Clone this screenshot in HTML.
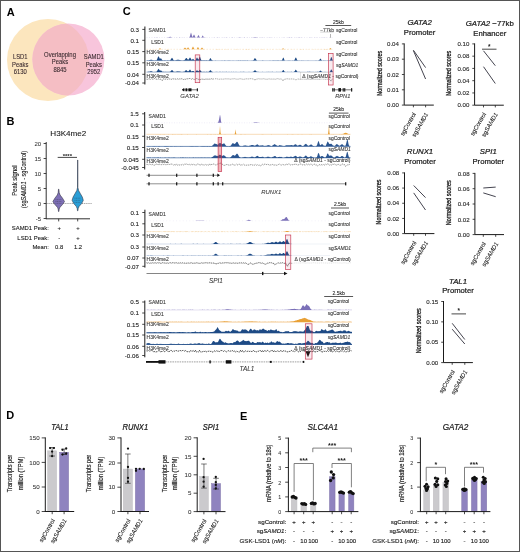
<!DOCTYPE html>
<html><head><meta charset="utf-8"><style>
html,body{margin:0;padding:0;background:#fff;}
svg{display:block;font-family:"Liberation Sans", sans-serif;will-change:transform;}
</style></head><body>
<svg width="520" height="552" viewBox="0 0 520 552">
<rect x="0.5" y="0.5" width="519" height="551" fill="#fff" stroke="#555" stroke-width="1" />
<text x="6.8" y="15.86" font-size="11" text-anchor="start" fill="#000" font-weight="bold">A</text>
<text x="6.6" y="125.26" font-size="11" text-anchor="start" fill="#000" font-weight="bold">B</text>
<text x="122.8" y="15.46" font-size="11" text-anchor="start" fill="#000" font-weight="bold">C</text>
<text x="6.2" y="419.36" font-size="11" text-anchor="start" fill="#000" font-weight="bold">D</text>
<text x="240" y="419.76" font-size="11" text-anchor="start" fill="#000" font-weight="bold">E</text>
<defs><clipPath id="cy"><circle cx="48" cy="60" r="41"/></clipPath></defs>
<circle cx="48" cy="60" r="41" fill="#FCE6BE" />
<circle cx="68.4" cy="59.5" r="36" fill="#F8C5DC" />
<circle cx="68.4" cy="59.5" r="36" fill="#F5BEC4" clip-path="url(#cy)"/>
<text transform="translate(20.2,56.9) scale(0.9,1)" x="0" y="2.34" font-size="6.5" text-anchor="middle" fill="#3b2b30" stroke="#3b2b30" stroke-width="0.1">LSD1</text>
<text transform="translate(20.2,64.4) scale(0.9,1)" x="0" y="2.34" font-size="6.5" text-anchor="middle" fill="#3b2b30" stroke="#3b2b30" stroke-width="0.1">Peaks</text>
<text transform="translate(20.2,71.9) scale(0.9,1)" x="0" y="2.34" font-size="6.5" text-anchor="middle" fill="#3b2b30" stroke="#3b2b30" stroke-width="0.1">6130</text>
<text transform="translate(60,54.5) scale(0.91,1)" x="0" y="2.34" font-size="6.5" text-anchor="middle" fill="#3b2b30" stroke="#3b2b30" stroke-width="0.1">Overlapping</text>
<text transform="translate(60,61.9) scale(0.91,1)" x="0" y="2.34" font-size="6.5" text-anchor="middle" fill="#3b2b30" stroke="#3b2b30" stroke-width="0.1">Peaks</text>
<text transform="translate(60,69.3) scale(0.91,1)" x="0" y="2.34" font-size="6.5" text-anchor="middle" fill="#3b2b30" stroke="#3b2b30" stroke-width="0.1">8845</text>
<text transform="translate(93.8,56.9) scale(0.9,1)" x="0" y="2.34" font-size="6.5" text-anchor="middle" fill="#3b2b30" stroke="#3b2b30" stroke-width="0.1">SAMD1</text>
<text transform="translate(93.8,64.4) scale(0.9,1)" x="0" y="2.34" font-size="6.5" text-anchor="middle" fill="#3b2b30" stroke="#3b2b30" stroke-width="0.1">Peaks</text>
<text transform="translate(93.8,71.9) scale(0.9,1)" x="0" y="2.34" font-size="6.5" text-anchor="middle" fill="#3b2b30" stroke="#3b2b30" stroke-width="0.1">2952</text>
<text x="68.3" y="135.62" font-size="8.1" text-anchor="middle" fill="#1a1a1a" stroke="#1a1a1a" stroke-width="0.1">H3K4me2</text>
<line x1="46.2" y1="142" x2="46.2" y2="219.2" stroke="#1a1a1a" stroke-width="0.9" />
<line x1="43.6" y1="143.5" x2="46.2" y2="143.5" stroke="#1a1a1a" stroke-width="0.8" />
<text x="41.2" y="145.66" font-size="6" text-anchor="end" fill="#333" stroke="#333" stroke-width="0.05">20</text>
<line x1="43.6" y1="158.5" x2="46.2" y2="158.5" stroke="#1a1a1a" stroke-width="0.8" />
<text x="41.2" y="160.66" font-size="6" text-anchor="end" fill="#333" stroke="#333" stroke-width="0.05">15</text>
<line x1="43.6" y1="173.5" x2="46.2" y2="173.5" stroke="#1a1a1a" stroke-width="0.8" />
<text x="41.2" y="175.66" font-size="6" text-anchor="end" fill="#333" stroke="#333" stroke-width="0.05">10</text>
<line x1="43.6" y1="188.5" x2="46.2" y2="188.5" stroke="#1a1a1a" stroke-width="0.8" />
<text x="41.2" y="190.66" font-size="6" text-anchor="end" fill="#333" stroke="#333" stroke-width="0.05">5</text>
<line x1="43.6" y1="203.5" x2="46.2" y2="203.5" stroke="#1a1a1a" stroke-width="0.8" />
<text x="41.2" y="205.66" font-size="6" text-anchor="end" fill="#333" stroke="#333" stroke-width="0.05">0</text>
<line x1="43.6" y1="218.5" x2="46.2" y2="218.5" stroke="#1a1a1a" stroke-width="0.8" />
<text x="41.2" y="220.66" font-size="6" text-anchor="end" fill="#333" stroke="#333" stroke-width="0.05">-5</text>
<line x1="46.2" y1="218.8" x2="90" y2="218.8" stroke="#1a1a1a" stroke-width="0.9" />
<line x1="58.7" y1="218.8" x2="58.7" y2="221.4" stroke="#1a1a1a" stroke-width="0.8" />
<line x1="77.7" y1="218.8" x2="77.7" y2="221.4" stroke="#1a1a1a" stroke-width="0.8" />
<line x1="46.5" y1="203.5" x2="91.5" y2="203.5" stroke="#555" stroke-width="0.7" stroke-dasharray="1,1.1"/>
<path d="M58.9 189.2 L59.2 192.5 L60.1 195 L62.4 198 L64.5 201.5 L62.5 204.5 L60 207.3 L59.2 209 L58.9 211.5 L58.5 211.5 L58.2 209 L57.4 207.3 L54.9 204.5 L52.9 201.5 L55 198 L57.3 195 L58.2 192.5 L58.5 189.2 Z" fill="#7E70B6" stroke="#2a2a3a" stroke-width="0.55" stroke-linejoin="round"/>
<path d="M77.8 160 L77.9 187.5 L78.6 190.5 L80.3 193.5 L82.3 197 L83.3 200.3 L81.7 203.5 L79.2 206.3 L78.2 208.5 L77.9 210.8 L77.5 210.8 L77.2 208.5 L76.2 206.3 L73.7 203.5 L72.1 200.3 L73.1 197 L75.1 193.5 L76.8 190.5 L77.5 187.5 L77.6 160 Z" fill="#2A9ED6" stroke="#2a2a3a" stroke-width="0.55" stroke-linejoin="round"/>
<line x1="55.5" y1="199.6" x2="61.9" y2="199.6" stroke="#2a2a3a" stroke-width="0.35" stroke-dasharray="1,0.6"/>
<line x1="55.5" y1="201.5" x2="61.9" y2="201.5" stroke="#2a2a3a" stroke-width="0.35" stroke-dasharray="1,0.6"/>
<line x1="55.5" y1="203.4" x2="61.9" y2="203.4" stroke="#2a2a3a" stroke-width="0.35" stroke-dasharray="1,0.6"/>
<line x1="74.5" y1="198.2" x2="80.9" y2="198.2" stroke="#2a2a3a" stroke-width="0.35" stroke-dasharray="1,0.6"/>
<line x1="74.5" y1="200.3" x2="80.9" y2="200.3" stroke="#2a2a3a" stroke-width="0.35" stroke-dasharray="1,0.6"/>
<line x1="74.5" y1="202.4" x2="80.9" y2="202.4" stroke="#2a2a3a" stroke-width="0.35" stroke-dasharray="1,0.6"/>
<line x1="57.7" y1="157.4" x2="77" y2="157.4" stroke="#1a1a1a" stroke-width="0.8" />
<text x="67.3" y="157.76" font-size="6" text-anchor="middle" fill="#1a1a1a" font-weight="bold">****</text>
<text transform="translate(14.8,180.6) rotate(-90)" x="0" y="2.38" font-size="6.6" text-anchor="middle" fill="#1a1a1a" textLength="30.4" lengthAdjust="spacingAndGlyphs" stroke="#1a1a1a" stroke-width="0.1">Peak signal</text>
<text transform="translate(23.6,179.5) rotate(-90)" x="0" y="2.38" font-size="6.6" text-anchor="middle" fill="#1a1a1a" textLength="57.2" lengthAdjust="spacingAndGlyphs" stroke="#1a1a1a" stroke-width="0.1">(sg<tspan font-style="italic">SAMD1</tspan> - sgControl)</text>
<text x="48.8" y="230.12" font-size="5.9" text-anchor="end" fill="#1a1a1a" stroke="#1a1a1a" stroke-width="0.1">SAMD1 Peak:</text>
<text x="59.2" y="230.12" font-size="5.9" text-anchor="middle" fill="#1a1a1a" stroke="#1a1a1a" stroke-width="0.1">+</text>
<text x="78" y="230.12" font-size="5.9" text-anchor="middle" fill="#1a1a1a" stroke="#1a1a1a" stroke-width="0.1">+</text>
<text x="48.8" y="239.72" font-size="5.9" text-anchor="end" fill="#1a1a1a" stroke="#1a1a1a" stroke-width="0.1">LSD1 Peak:</text>
<text x="59.2" y="239.72" font-size="5.9" text-anchor="middle" fill="#1a1a1a" stroke="#1a1a1a" stroke-width="0.1">-</text>
<text x="78" y="239.72" font-size="5.9" text-anchor="middle" fill="#1a1a1a" stroke="#1a1a1a" stroke-width="0.1">+</text>
<text x="48.8" y="249.12" font-size="5.9" text-anchor="end" fill="#1a1a1a" stroke="#1a1a1a" stroke-width="0.1">Mean:</text>
<text x="59.2" y="249.12" font-size="5.9" text-anchor="middle" fill="#1a1a1a" stroke="#1a1a1a" stroke-width="0.1">0.8</text>
<text x="78" y="249.12" font-size="5.9" text-anchor="middle" fill="#1a1a1a" stroke="#1a1a1a" stroke-width="0.1">1.2</text>
<line x1="146.5" y1="37.5" x2="333" y2="37.5" stroke="#d8d4ea" stroke-width="0.5" stroke-dasharray="1,1.5"/>
<path d="M146.5 37.5 L146.5 37.45 L147 37.48 L147.5 37.4 L148 37.49 L148.5 37.42 L149 37.45 L149.5 37.49 L150 37.42 L150.5 37.49 L151 37.43 L151.5 37.49 L152 37.49 L152.5 37.44 L153 37.38 L153.5 37.48 L154 37.47 L154.5 37.41 L155 37.36 L155.5 37.41 L156 37.44 L156.5 37.35 L157 37.49 L157.5 37.37 L158 37.46 L158.5 37.48 L159 37.48 L159.5 37.45 L160 37.38 L160.5 37.47 L161 37.41 L161.5 37.4 L162 37.44 L162.5 37.42 L163 37.49 L163.5 37.49 L164 37.47 L164.5 37.4 L165 37.44 L165.5 37.45 L166 37.41 L166.5 37.43 L167 37.45 L167.5 37.35 L168 37.31 L168.5 37.27 L169 37.05 L169.5 36.89 L170 36.77 L170.5 36.86 L171 37.09 L171.5 37.16 L172 37.4 L172.5 37.41 L173 37.38 L173.5 37.48 L174 37.43 L174.5 37.49 L175 37.4 L175.5 37.39 L176 37.41 L176.5 37.37 L177 37.45 L177.5 37.4 L178 37.41 L178.5 37.41 L179 37.43 L179.5 37.37 L180 37.36 L180.5 37.43 L181 37.4 L181.5 37.49 L182 37.39 L182.5 37.4 L183 37.35 L183.5 37.38 L184 37.46 L184.5 37.44 L185 37.4 L185.5 37.5 L186 37.43 L186.5 37.47 L187 37.48 L187.5 37.49 L188 37.38 L188.5 37.48 L189 37.44 L189.5 37.22 L190 36.12 L190.5 33.95 L191 32.43 L191.5 33.88 L192 36.11 L192.5 37.03 L193 36.6 L193.5 35.34 L194 34.44 L194.5 35.33 L195 36.62 L195.5 37.22 L196 37.47 L196.5 37.46 L197 37.36 L197.5 36.84 L198 35.66 L198.5 34.91 L199 35.69 L199.5 36.88 L200 37.33 L200.5 37.43 L201 37.41 L201.5 37.24 L202 36.65 L202.5 35.58 L203 35.74 L203.5 36.84 L204 37.42 L204.5 37.36 L205 37.38 L205.5 37.37 L206 37.38 L206.5 37.44 L207 37.44 L207.5 37.48 L208 37.4 L208.5 37.49 L209 37.49 L209.5 37.47 L210 37.48 L210.5 37.45 L211 37.49 L211.5 37.5 L212 37.48 L212.5 37.48 L213 37.45 L213.5 37.5 L214 37.37 L214.5 37.41 L215 37.48 L215.5 37.46 L216 37.45 L216.5 37.45 L217 37.48 L217.5 37.37 L218 37.35 L218.5 37.43 L219 37.43 L219.5 37.49 L220 37.48 L220.5 37.45 L221 37.46 L221.5 37.38 L222 37.48 L222.5 37.5 L223 37.36 L223.5 37.42 L224 37.48 L224.5 37.42 L225 37.5 L225.5 37.42 L226 37.35 L226.5 37.37 L227 37.4 L227.5 37.46 L228 37.44 L228.5 37.47 L229 37.38 L229.5 37.42 L230 37.38 L230.5 37.45 L231 37.47 L231.5 37.38 L232 37.35 L232.5 37.37 L233 37.38 L233.5 37.38 L234 37.39 L234.5 37.47 L235 37.42 L235.5 37.45 L236 37.5 L236.5 37.5 L237 37.46 L237.5 37.46 L238 37.4 L238.5 37.36 L239 37.43 L239.5 37.36 L240 37.35 L240.5 37.36 L241 37.45 L241.5 37.47 L242 37.47 L242.5 37.47 L243 37.47 L243.5 37.41 L244 37.36 L244.5 37.37 L245 37.43 L245.5 37.4 L246 37.38 L246.5 37.49 L247 37.4 L247.5 37.36 L248 37.38 L248.5 37.39 L249 37.43 L249.5 37.47 L250 37.38 L250.5 37.45 L251 37.38 L251.5 37.35 L252 37.44 L252.5 37.42 L253 37.3 L253.5 37.26 L254 37.23 L254.5 37.13 L255 37.08 L255.5 37.01 L256 37.14 L256.5 37.35 L257 37.32 L257.5 37.34 L258 37.4 L258.5 37.45 L259 37.42 L259.5 37.48 L260 37.5 L260.5 37.35 L261 37.4 L261.5 37.42 L262 37.36 L262.5 37.43 L263 37.37 L263.5 37.38 L264 37.47 L264.5 37.46 L265 37.46 L265.5 37.46 L266 37.41 L266.5 37.46 L267 37.44 L267.5 37.48 L268 37.36 L268.5 37.45 L269 37.43 L269.5 37.41 L270 37.36 L270.5 37.44 L271 37.36 L271.5 37.42 L272 37.42 L272.5 37.42 L273 37.5 L273.5 37.43 L274 37.47 L274.5 37.5 L275 37.38 L275.5 37.47 L276 37.43 L276.5 37.39 L277 37.42 L277.5 37.45 L278 37.42 L278.5 37.42 L279 37.38 L279.5 37.48 L280 37.42 L280.5 37.46 L281 37.46 L281.5 37.38 L282 37.42 L282.5 37.42 L283 37.39 L283.5 37.36 L284 37.43 L284.5 37.41 L285 37.42 L285.5 37.42 L286 37.4 L286.5 37.43 L287 37.42 L287.5 37.43 L288 37.36 L288.5 37.4 L289 37.37 L289.5 37.36 L290 37.46 L290.5 37.42 L291 37.36 L291.5 37.37 L292 37.48 L292.5 37.48 L293 37.43 L293.5 37.49 L294 37.46 L294.5 37.49 L295 37.4 L295.5 37.38 L296 37.37 L296.5 37.48 L297 37.39 L297.5 37.4 L298 37.48 L298.5 37.37 L299 37.35 L299.5 37.47 L300 37.36 L300.5 37.44 L301 37.43 L301.5 37.35 L302 37.38 L302.5 37.48 L303 37.44 L303.5 37.42 L304 37.45 L304.5 37.47 L305 37.45 L305.5 37.39 L306 37.5 L306.5 37.42 L307 37.43 L307.5 37.5 L308 37.45 L308.5 37.41 L309 37.42 L309.5 37.49 L310 37.35 L310.5 37.38 L311 37.35 L311.5 37.48 L312 37.46 L312.5 37.49 L313 37.38 L313.5 37.46 L314 37.48 L314.5 37.44 L315 37.36 L315.5 37.38 L316 37.46 L316.5 37.48 L317 37.36 L317.5 37.41 L318 37.39 L318.5 37.49 L319 37.49 L319.5 37.4 L320 37.44 L320.5 37.49 L321 37.36 L321.5 37.4 L322 37.38 L322.5 37.49 L323 37.37 L323.5 37.49 L324 37.37 L324.5 37.43 L325 37.45 L325.5 37.42 L326 37.36 L326.5 37.46 L327 37.48 L327.5 37.42 L328 37.46 L328.5 37.48 L329 37.48 L329.5 37.49 L330 37.47 L330.5 37.45 L331 37.45 L331.5 37.39 L332 37.46 L332.5 37.42 L333 37.47 L333 37.5 Z" fill="#7B70B8" stroke="none" stroke-width="0.8" />
<line x1="146.5" y1="49.3" x2="333" y2="49.3" stroke="#f4d8b0" stroke-width="0.5" stroke-dasharray="1.5,1.5"/>
<path d="M146.5 49.3 L146.5 49.23 L147 49.3 L147.5 49.25 L148 49.3 L148.5 49.15 L149 49.19 L149.5 49.26 L150 49.21 L150.5 49.11 L151 49.28 L151.5 49.14 L152 49.21 L152.5 49.2 L153 49.13 L153.5 49.22 L154 49.2 L154.5 49.16 L155 49.1 L155.5 49.23 L156 49.13 L156.5 49.16 L157 49.17 L157.5 49.22 L158 49.23 L158.5 49.25 L159 49.02 L159.5 48.58 L160 48.15 L160.5 48.54 L161 49.02 L161.5 49.24 L162 49.13 L162.5 49.13 L163 49.17 L163.5 49.24 L164 49.25 L164.5 49.24 L165 49.21 L165.5 49.27 L166 49.21 L166.5 49.25 L167 49.11 L167.5 49.11 L168 49.19 L168.5 49.25 L169 49.11 L169.5 49.24 L170 49.23 L170.5 49.3 L171 49.22 L171.5 49.21 L172 49.2 L172.5 49.26 L173 49.2 L173.5 49.3 L174 49.25 L174.5 49.28 L175 49.22 L175.5 49.29 L176 49.3 L176.5 49.24 L177 49.25 L177.5 49.18 L178 49.19 L178.5 49.15 L179 49.17 L179.5 49.16 L180 49.12 L180.5 49.22 L181 49.23 L181.5 49.1 L182 49.27 L182.5 49.15 L183 49.14 L183.5 49.13 L184 48.56 L184.5 47.88 L185 47.57 L185.5 47.91 L186 48.55 L186.5 49.03 L187 48.72 L187.5 47.92 L188 47.33 L188.5 47.87 L189 48.69 L189.5 49.1 L190 49.11 L190.5 49.16 L191 49.15 L191.5 49.13 L192 48.6 L192.5 47.29 L193 46.43 L193.5 47.3 L194 48.43 L194.5 49.07 L195 49.16 L195.5 49.17 L196 49.16 L196.5 49.11 L197 48.75 L197.5 47.59 L198 46.95 L198.5 47.64 L199 48.64 L199.5 49.07 L200 49.27 L200.5 49.07 L201 48.8 L201.5 48.01 L202 47.45 L202.5 47.88 L203 48.81 L203.5 49.07 L204 49.1 L204.5 49.2 L205 49.22 L205.5 49.2 L206 49.16 L206.5 49.15 L207 49.18 L207.5 49.17 L208 49.28 L208.5 49.27 L209 49.25 L209.5 49.15 L210 49.24 L210.5 49.19 L211 49.3 L211.5 49.29 L212 49.25 L212.5 49.17 L213 49.16 L213.5 49.16 L214 49.24 L214.5 49.2 L215 49.21 L215.5 49.21 L216 49.28 L216.5 49.12 L217 49.26 L217.5 49.1 L218 49.11 L218.5 49.3 L219 49.21 L219.5 49.14 L220 49.11 L220.5 49.21 L221 49.25 L221.5 49.26 L222 49.11 L222.5 49.26 L223 49.18 L223.5 49.27 L224 49.2 L224.5 49.11 L225 49.27 L225.5 49.14 L226 49.2 L226.5 49.12 L227 49.16 L227.5 49.25 L228 49.12 L228.5 49.2 L229 49.3 L229.5 49.3 L230 49.2 L230.5 49.21 L231 49.24 L231.5 49.27 L232 49.23 L232.5 49.24 L233 49.13 L233.5 49.3 L234 49.15 L234.5 49.13 L235 49.28 L235.5 49.11 L236 49.16 L236.5 49.12 L237 49.24 L237.5 49.23 L238 49.22 L238.5 49.1 L239 49.18 L239.5 49.23 L240 49.21 L240.5 49.24 L241 49.29 L241.5 49.28 L242 49.13 L242.5 49.24 L243 49.11 L243.5 49.25 L244 49.25 L244.5 49.2 L245 49.26 L245.5 49.23 L246 49.11 L246.5 49.12 L247 49.14 L247.5 49.17 L248 49.12 L248.5 49.11 L249 49.19 L249.5 49.16 L250 49.29 L250.5 49.15 L251 49.21 L251.5 49.15 L252 49.17 L252.5 49.24 L253 49.29 L253.5 49.11 L254 49.27 L254.5 49.21 L255 49.23 L255.5 49.24 L256 49.15 L256.5 49.1 L257 49.25 L257.5 49.17 L258 49.24 L258.5 49.19 L259 49.22 L259.5 49.27 L260 49.27 L260.5 49.26 L261 49.12 L261.5 49.2 L262 49.26 L262.5 49.12 L263 49.1 L263.5 49.21 L264 49.27 L264.5 49.26 L265 49.28 L265.5 49.23 L266 49.28 L266.5 49.25 L267 49.25 L267.5 49.19 L268 49.12 L268.5 49.15 L269 49.22 L269.5 49.22 L270 49.2 L270.5 49.22 L271 49.23 L271.5 49.29 L272 49.24 L272.5 49.11 L273 49.27 L273.5 49.2 L274 49.17 L274.5 49.13 L275 49.26 L275.5 49.25 L276 49.25 L276.5 49.22 L277 49.21 L277.5 49.11 L278 49.13 L278.5 49.13 L279 49.3 L279.5 49.29 L280 49.16 L280.5 49.12 L281 49.2 L281.5 49.15 L282 49.1 L282.5 48.66 L283 48.31 L283.5 48.57 L284 48.93 L284.5 49.07 L285 49.25 L285.5 49.28 L286 49.27 L286.5 49.2 L287 49.16 L287.5 49.11 L288 49.16 L288.5 49.17 L289 49.15 L289.5 49.21 L290 49.19 L290.5 49.29 L291 49.14 L291.5 49.25 L292 49.12 L292.5 49.17 L293 49.24 L293.5 49.27 L294 49.25 L294.5 49.17 L295 49.16 L295.5 49.28 L296 49.29 L296.5 49.2 L297 49.18 L297.5 49.22 L298 49.26 L298.5 49.18 L299 49.3 L299.5 49.24 L300 49.21 L300.5 49.11 L301 49.17 L301.5 49.12 L302 49.2 L302.5 49.25 L303 49.25 L303.5 49.11 L304 49.16 L304.5 49.24 L305 49.3 L305.5 49.2 L306 49.17 L306.5 49.22 L307 49.25 L307.5 49.17 L308 49.11 L308.5 49.25 L309 49.29 L309.5 49.23 L310 49.22 L310.5 49.16 L311 49.26 L311.5 49.14 L312 49.15 L312.5 49.2 L313 49.26 L313.5 49.11 L314 49.24 L314.5 49.14 L315 49.25 L315.5 49.26 L316 49.15 L316.5 49.24 L317 49.11 L317.5 49.2 L318 49.26 L318.5 49.26 L319 49.22 L319.5 49.17 L320 49.11 L320.5 49.27 L321 49.22 L321.5 49.26 L322 49.11 L322.5 49.27 L323 49.29 L323.5 49.29 L324 49.22 L324.5 49.12 L325 49.12 L325.5 49.15 L326 49.1 L326.5 49.11 L327 49.23 L327.5 49.26 L328 49.11 L328.5 49.15 L329 49.24 L329.5 48.87 L330 48.38 L330.5 48.03 L331 48.39 L331.5 48.97 L332 49.25 L332.5 49.24 L333 49.23 L333 49.3 Z" fill="#E8A035" stroke="none" stroke-width="0.8" />
<line x1="213" y1="60.6" x2="333" y2="60.6" stroke="#8ea5c8" stroke-width="0.5" />
<line x1="213" y1="72.1" x2="333" y2="72.1" stroke="#8ea5c8" stroke-width="0.5" />
<line x1="146.5" y1="60.6" x2="213" y2="60.6" stroke="#5a78a8" stroke-width="0.6" />
<line x1="146.5" y1="72.1" x2="213" y2="72.1" stroke="#5a78a8" stroke-width="0.6" />
<path d="M146.5 60.6 L146.5 60.31 L147 60.56 L147.5 60.3 L148 60.5 L148.5 60.4 L149 60.15 L149.5 59.99 L150 59.9 L150.5 59.85 L151 59.66 L151.5 59.75 L152 59.76 L152.5 60.18 L153 60.29 L153.5 60.24 L154 60.56 L154.5 60.47 L155 60.35 L155.5 60.35 L156 60.5 L156.5 60.25 L157 59.58 L157.5 58.17 L158 57.09 L158.5 56.37 L159 56.87 L159.5 58.14 L160 58.8 L160.5 58.42 L161 58.33 L161.5 58.96 L162 59.66 L162.5 60.3 L163 60.48 L163.5 60.6 L164 60.37 L164.5 60.33 L165 60.41 L165.5 60.32 L166 60.59 L166.5 60.53 L167 60.46 L167.5 60.31 L168 60.31 L168.5 60.48 L169 60.52 L169.5 60.45 L170 60.34 L170.5 59.87 L171 59.35 L171.5 58.22 L172 57.78 L172.5 58.21 L173 59.17 L173.5 59.96 L174 60.36 L174.5 60.43 L175 60.38 L175.5 60.17 L176 60.25 L176.5 60.06 L177 59.73 L177.5 59.77 L178 59.78 L178.5 59.83 L179 59.79 L179.5 60.02 L180 59.98 L180.5 60.14 L181 60.2 L181.5 60.47 L182 60.55 L182.5 60.56 L183 60.44 L183.5 60.34 L184 60.3 L184.5 60.05 L185 59.44 L185.5 58.67 L186 58.1 L186.5 58.02 L187 58.46 L187.5 59.21 L188 59.87 L188.5 59.62 L189 59.08 L189.5 57.95 L190 57.48 L190.5 57.9 L191 59.1 L191.5 59.75 L192 59.71 L192.5 59.3 L193 58.83 L193.5 59.19 L194 59.82 L194.5 60.22 L195 60.19 L195.5 60.13 L196 59.45 L196.5 58.03 L197 57.4 L197.5 57.96 L198 59.34 L198.5 59.44 L199 58.22 L199.5 56.69 L200 56.49 L200.5 58.16 L201 59.59 L201.5 60.35 L202 60.51 L202.5 60.31 L203 60.42 L203.5 60.32 L204 60.49 L204.5 60.34 L205 60.47 L205.5 60.52 L206 60.37 L206.5 60.32 L207 60.57 L207.5 60.42 L208 60.41 L208.5 60.47 L209 60.15 L209.5 59.46 L210 58.42 L210.5 58.05 L211 58.69 L211.5 59.68 L212 60.36 L212.5 60.57 L213 60.5 L213.5 60.4 L214 60.54 L214.5 60.51 L215 60.54 L215.5 60.36 L216 60.44 L216.5 60.58 L217 60.57 L217.5 60.48 L218 60.43 L218.5 60.41 L219 60.57 L219.5 60.55 L220 60.39 L220.5 60.48 L221 60.52 L221.5 60.51 L222 60.31 L222.5 60.51 L223 60.43 L223.5 60.49 L224 60.48 L224.5 60.34 L225 60.3 L225.5 60.49 L226 60.54 L226.5 60.38 L227 60.54 L227.5 60.6 L228 60.33 L228.5 60.47 L229 60.35 L229.5 60.48 L230 60.34 L230.5 60.46 L231 60.55 L231.5 60.6 L232 60.43 L232.5 60.41 L233 60.33 L233.5 60.57 L234 60.41 L234.5 60.49 L235 60.45 L235.5 60.56 L236 60.52 L236.5 60.44 L237 60.32 L237.5 60.57 L238 60.45 L238.5 60.36 L239 60.31 L239.5 60.54 L240 60.56 L240.5 60.32 L241 60.31 L241.5 60.46 L242 60.58 L242.5 60.32 L243 60.48 L243.5 60.33 L244 60.41 L244.5 60.35 L245 60.55 L245.5 60.36 L246 60.53 L246.5 60.48 L247 60.35 L247.5 60.35 L248 60.55 L248.5 60.53 L249 60.48 L249.5 60.44 L250 60.48 L250.5 60.56 L251 60.53 L251.5 60.38 L252 60.33 L252.5 60.57 L253 60.33 L253.5 59.96 L254 59.49 L254.5 58.37 L255 58.16 L255.5 58.45 L256 59.34 L256.5 60 L257 60.4 L257.5 60.46 L258 60.42 L258.5 60.47 L259 60.4 L259.5 60.47 L260 60.47 L260.5 60.59 L261 60.41 L261.5 60.45 L262 60.53 L262.5 60.37 L263 60.37 L263.5 60.46 L264 60.55 L264.5 60.46 L265 60.57 L265.5 60.56 L266 60.47 L266.5 60.57 L267 60.47 L267.5 60.45 L268 60.59 L268.5 60.41 L269 60.58 L269.5 60.38 L270 60.37 L270.5 60.45 L271 60.58 L271.5 60.45 L272 60.49 L272.5 60.31 L273 60.56 L273.5 60.34 L274 60.3 L274.5 60.38 L275 60.36 L275.5 60.54 L276 60.31 L276.5 60.45 L277 60.31 L277.5 60.33 L278 60.55 L278.5 60.36 L279 60.32 L279.5 60.58 L280 60.49 L280.5 60.37 L281 60.55 L281.5 60.3 L282 60.23 L282.5 59.12 L283 57.91 L283.5 57.61 L284 58.81 L284.5 60.13 L285 60.47 L285.5 60.44 L286 60.5 L286.5 60.59 L287 60.55 L287.5 60.55 L288 60.32 L288.5 60.4 L289 60.33 L289.5 60.55 L290 60.36 L290.5 60.57 L291 60.44 L291.5 60.41 L292 60.49 L292.5 60.34 L293 60.43 L293.5 60.41 L294 60.23 L294.5 60.03 L295 58.74 L295.5 57.67 L296 57.6 L296.5 58.54 L297 59.83 L297.5 60.15 L298 60.41 L298.5 60.49 L299 60.37 L299.5 60.47 L300 60.55 L300.5 60.38 L301 60.59 L301.5 60.35 L302 60.52 L302.5 60.41 L303 60.3 L303.5 60.42 L304 60.4 L304.5 60.51 L305 60.6 L305.5 60.59 L306 60.56 L306.5 60.42 L307 60.47 L307.5 60.45 L308 60.33 L308.5 60.56 L309 60.53 L309.5 60.4 L310 60.59 L310.5 60.6 L311 60.49 L311.5 60.57 L312 60.49 L312.5 60.53 L313 60.42 L313.5 60.42 L314 60.54 L314.5 60.41 L315 60.46 L315.5 60.56 L316 60.32 L316.5 60.53 L317 60.56 L317.5 60.57 L318 60.41 L318.5 60.33 L319 60.23 L319.5 59.83 L320 58.92 L320.5 58.62 L321 59.19 L321.5 60.06 L322 60.44 L322.5 60.4 L323 60.47 L323.5 60.32 L324 60.38 L324.5 60.53 L325 60.33 L325.5 60.59 L326 60.44 L326.5 60.48 L327 60.53 L327.5 60.58 L328 60.37 L328.5 60.6 L329 60.43 L329.5 60.28 L330 60.21 L330.5 59.06 L331 57.24 L331.5 57.04 L332 58.58 L332.5 59.87 L333 60.48 L333 60.6 Z" fill="#1D4A85" stroke="none" stroke-width="0.8" />
<path d="M146.5 72.1 L146.5 72.01 L147 72.01 L147.5 72.08 L148 71.81 L148.5 71.8 L149 71.74 L149.5 71.82 L150 71.42 L150.5 71.33 L151 71.36 L151.5 71.33 L152 71.54 L152.5 71.76 L153 71.92 L153.5 71.96 L154 72.06 L154.5 71.99 L155 71.87 L155.5 71.88 L156 71.78 L156.5 71.63 L157 71.27 L157.5 70.32 L158 69.4 L158.5 68.86 L159 69.35 L159.5 70.25 L160 70.62 L160.5 70.39 L161 70.47 L161.5 70.66 L162 71.55 L162.5 71.87 L163 72 L163.5 71.87 L164 71.82 L164.5 71.88 L165 72 L165.5 71.84 L166 72 L166.5 72.03 L167 71.83 L167.5 71.91 L168 71.89 L168.5 71.9 L169 71.8 L169.5 71.94 L170 71.76 L170.5 71.55 L171 70.95 L171.5 70.36 L172 69.93 L172.5 70.32 L173 71.11 L173.5 71.69 L174 71.81 L174.5 72.02 L175 71.74 L175.5 71.91 L176 71.85 L176.5 71.7 L177 71.34 L177.5 71.43 L178 71.46 L178.5 71.52 L179 71.61 L179.5 71.53 L180 71.66 L180.5 71.74 L181 71.8 L181.5 72.04 L182 71.91 L182.5 71.98 L183 71.84 L183.5 71.82 L184 71.7 L184.5 71.72 L185 71.07 L185.5 70.52 L186 70.1 L186.5 70.3 L187 70.63 L187.5 71.17 L188 71.57 L188.5 71.3 L189 70.78 L189.5 70.05 L190 69.6 L190.5 70.05 L191 70.93 L191.5 71.49 L192 71.46 L192.5 70.93 L193 70.91 L193.5 71.08 L194 71.46 L194.5 71.9 L195 71.94 L195.5 71.83 L196 71.24 L196.5 70.59 L197 70.2 L197.5 70.41 L198 71.21 L198.5 71.24 L199 70.64 L199.5 69.9 L200 69.67 L200.5 70.51 L201 71.32 L201.5 71.87 L202 71.87 L202.5 71.94 L203 72.03 L203.5 71.84 L204 72.07 L204.5 71.85 L205 72.05 L205.5 72.1 L206 72.04 L206.5 71.87 L207 71.81 L207.5 72.1 L208 71.95 L208.5 71.91 L209 71.61 L209.5 71.22 L210 70.36 L210.5 70.14 L211 70.55 L211.5 71.48 L212 71.68 L212.5 71.99 L213 72.03 L213.5 71.89 L214 71.95 L214.5 72.07 L215 71.91 L215.5 72.08 L216 71.86 L216.5 71.89 L217 71.86 L217.5 71.91 L218 71.99 L218.5 71.98 L219 71.98 L219.5 71.83 L220 72.07 L220.5 71.83 L221 72.09 L221.5 72.04 L222 72.02 L222.5 71.83 L223 71.95 L223.5 71.99 L224 71.83 L224.5 72.03 L225 71.96 L225.5 71.94 L226 71.87 L226.5 71.87 L227 71.91 L227.5 72 L228 72 L228.5 72.05 L229 71.85 L229.5 71.9 L230 71.88 L230.5 72.05 L231 71.97 L231.5 71.87 L232 71.93 L232.5 72.06 L233 71.96 L233.5 71.83 L234 72.03 L234.5 72.04 L235 72.01 L235.5 71.89 L236 71.85 L236.5 72.05 L237 72.05 L237.5 72.03 L238 72 L238.5 71.94 L239 72.05 L239.5 72 L240 72.04 L240.5 71.81 L241 71.88 L241.5 72.07 L242 71.81 L242.5 72.07 L243 71.98 L243.5 71.8 L244 71.86 L244.5 71.88 L245 71.97 L245.5 72.04 L246 71.91 L246.5 72.07 L247 72.04 L247.5 71.98 L248 72.09 L248.5 71.98 L249 71.86 L249.5 71.89 L250 71.95 L250.5 71.91 L251 71.96 L251.5 72.06 L252 71.92 L252.5 71.96 L253 71.8 L253.5 71.52 L254 71.15 L254.5 70.45 L255 70.08 L255.5 70.49 L256 71.21 L256.5 71.57 L257 71.76 L257.5 71.85 L258 71.89 L258.5 71.84 L259 71.9 L259.5 71.91 L260 71.96 L260.5 72.01 L261 71.91 L261.5 72.07 L262 71.97 L262.5 71.87 L263 71.89 L263.5 71.91 L264 72.02 L264.5 71.97 L265 71.96 L265.5 71.91 L266 71.98 L266.5 71.9 L267 71.82 L267.5 72.05 L268 71.9 L268.5 71.87 L269 71.98 L269.5 71.95 L270 71.81 L270.5 72.09 L271 71.94 L271.5 72.05 L272 71.87 L272.5 71.82 L273 71.94 L273.5 72.07 L274 71.93 L274.5 71.94 L275 71.88 L275.5 71.95 L276 71.91 L276.5 71.85 L277 71.94 L277.5 71.98 L278 71.82 L278.5 72.04 L279 71.89 L279.5 71.98 L280 71.87 L280.5 72.06 L281 71.8 L281.5 71.97 L282 71.87 L282.5 71.09 L283 69.99 L283.5 69.97 L284 70.84 L284.5 71.67 L285 71.85 L285.5 71.99 L286 72.02 L286.5 72.03 L287 71.88 L287.5 71.82 L288 71.94 L288.5 72.03 L289 71.86 L289.5 71.98 L290 72.04 L290.5 72.06 L291 71.87 L291.5 71.86 L292 71.91 L292.5 71.96 L293 71.93 L293.5 72.02 L294 71.73 L294.5 71.59 L295 70.74 L295.5 69.8 L296 69.7 L296.5 70.59 L297 71.49 L297.5 71.82 L298 72.05 L298.5 71.85 L299 71.99 L299.5 71.84 L300 72.02 L300.5 71.99 L301 72.02 L301.5 71.97 L302 72.04 L302.5 72.1 L303 71.88 L303.5 72.02 L304 72.03 L304.5 72.01 L305 71.96 L305.5 71.97 L306 71.91 L306.5 71.9 L307 71.99 L307.5 71.82 L308 71.84 L308.5 72.08 L309 71.85 L309.5 71.83 L310 71.86 L310.5 72.06 L311 71.85 L311.5 71.91 L312 72.1 L312.5 72.1 L313 71.81 L313.5 71.9 L314 72.02 L314.5 72.07 L315 72.06 L315.5 72.03 L316 71.87 L316.5 72 L317 72.05 L317.5 71.83 L318 71.86 L318.5 72.04 L319 71.73 L319.5 71.43 L320 70.66 L320.5 70.42 L321 70.92 L321.5 71.58 L322 71.81 L322.5 72.04 L323 71.89 L323.5 71.94 L324 71.88 L324.5 71.97 L325 71.84 L325.5 71.93 L326 72.02 L326.5 72.03 L327 72.06 L327.5 71.95 L328 72.08 L328.5 71.96 L329 72.05 L329.5 71.92 L330 71.69 L330.5 70.83 L331 69.46 L331.5 69.54 L332 70.48 L332.5 71.59 L333 71.88 L333 72.1 Z" fill="#1D4A85" stroke="none" stroke-width="0.8" />
<path d="M146.5 79.17 L147.5 79.34 L148.5 78.87 L149.5 78.92 L150.5 79.46 L151.5 78.58 L152.5 79.14 L153.5 79.14 L154.5 78.53 L155.5 79.11 L156.5 79.18 L157.5 79.43 L158.5 78.83 L159.5 79.49 L160.5 79.22 L161.5 79.97 L162.5 80.38 L163.5 78.74 L164.5 79.23 L165.5 79.13 L166.5 78.84 L167.5 79.36 L168.5 78.87 L169.5 78.97 L170.5 79.03 L171.5 79.27 L172.5 78.71 L173.5 78.94 L174.5 78.92 L175.5 79.05 L176.5 79.33 L177.5 78.79 L178.5 79.33 L179.5 78.9 L180.5 79 L181.5 78.77 L182.5 79.01 L183.5 79.47 L184.5 79.15 L185.5 79.29 L186.5 78.83 L187.5 78.82 L188.5 78.76 L189.5 78.52 L190.5 78.57 L191.5 79.25 L192.5 78.54 L193.5 79.22 L194.5 79.39 L195.5 79.05 L196.5 78.55 L197.5 78.85 L198.5 79.35 L199.5 79.54 L200.5 79.47 L201.5 79.11 L202.5 79.16 L203.5 79.29 L204.5 79.41 L205.5 79.11 L206.5 79.12 L207.5 79.13 L208.5 79.2 L209.5 79.1 L210.5 79.18 L211.5 78.71 L212.5 79.17 L213.5 78.96 L214.5 79.26" fill="none" stroke="#333" stroke-width="0.6" stroke-dasharray="1.4,0.7"/>
<path d="M215 78.72 L216 78.78 L217 78.68 L218 79.19 L219 79.29 L220 79.11 L221 78.91 L222 79.23 L223 79.2 L224 79.04 L225 78.83 L226 78.86 L227 78.95 L228 78.87 L229 78.95 L230 79.1 L231 79.3 L232 78.69 L233 79.05 L234 78.68 L235 78.73 L236 79.22 L237 79.05 L238 79.29 L239 78.96 L240 78.66 L241 78.92 L242 79.06 L243 79.31 L244 79.34 L245 78.98 L246 78.94 L247 78.72 L248 79.1 L249 78.8 L250 78.76 L251 78.66 L252 78.65 L253 79.13 L254 78.98 L255 80.33 L256 78.96 L257 79.26 L258 78.74 L259 78.66 L260 79.15 L261 78.82 L262 79.16 L263 78.78 L264 78.69 L265 79.19 L266 79.15 L267 79.25 L268 79.16 L269 78.71 L270 79.09 L271 79.15 L272 78.97 L273 79.3 L274 78.83 L275 79.33 L276 79.15 L277 78.66 L278 78.66 L279 79.11 L280 79.22 L281 78.71 L282 79.32 L283 80.96 L284 79.22 L285 79.26 L286 78.99 L287 78.69 L288 78.91 L289 79.05 L290 78.96 L291 79.12 L292 78.75 L293 79.21 L294 78.91 L295 79.35 L296 80.09 L297 79.19 L298 78.92 L299 79.2 L300 79.31 L301 79.2 L302 79.05 L303 78.85 L304 78.69 L305 79.33 L306 79.14 L307 79.23 L308 78.88 L309 79.07 L310 79.33 L311 79.23 L312 79.07 L313 78.87 L314 78.95 L315 79.27 L316 78.91 L317 79.13 L318 79.07 L319 79.28 L320 79.22 L321 78.85 L322 78.65 L323 78.83 L324 78.95 L325 79.06 L326 79.22 L327 79.27 L328 78.68 L329 79.23 L330 79.49 L331 81.26 L332 79.32 L333 78.84" fill="none" stroke="#666" stroke-width="0.55" stroke-dasharray="1.4,0.7"/>
<line x1="144.9" y1="26.5" x2="144.9" y2="84.5" stroke="#1a1a1a" stroke-width="1" />
<line x1="142.3" y1="29.4" x2="144.9" y2="29.4" stroke="#1a1a1a" stroke-width="0.8" />
<text x="139" y="31.63" font-size="6.2" text-anchor="end" fill="#222" stroke="#222" stroke-width="0.1">0.3</text>
<line x1="142.3" y1="40.3" x2="144.9" y2="40.3" stroke="#1a1a1a" stroke-width="0.8" />
<text x="139" y="42.53" font-size="6.2" text-anchor="end" fill="#222" stroke="#222" stroke-width="0.1">0.1</text>
<line x1="142.3" y1="51.6" x2="144.9" y2="51.6" stroke="#1a1a1a" stroke-width="0.8" />
<text x="139" y="53.83" font-size="6.2" text-anchor="end" fill="#222" stroke="#222" stroke-width="0.1">0.15</text>
<line x1="142.3" y1="62.8" x2="144.9" y2="62.8" stroke="#1a1a1a" stroke-width="0.8" />
<text x="139" y="65.03" font-size="6.2" text-anchor="end" fill="#222" stroke="#222" stroke-width="0.1">0.15</text>
<line x1="142.3" y1="74.3" x2="144.9" y2="74.3" stroke="#1a1a1a" stroke-width="0.8" />
<text x="139" y="76.53" font-size="6.2" text-anchor="end" fill="#222" stroke="#222" stroke-width="0.1">0.04</text>
<line x1="142.3" y1="83" x2="144.9" y2="83" stroke="#1a1a1a" stroke-width="0.8" />
<text x="139" y="85.23" font-size="6.2" text-anchor="end" fill="#222" stroke="#222" stroke-width="0.1">-0.04</text>
<text x="148.6" y="32.2" font-size="5" text-anchor="start" fill="#3a3a3a" stroke="#3a3a3a" stroke-width="0.1">SAMD1</text>
<text x="151.2" y="43.5" font-size="5" text-anchor="start" fill="#3a3a3a" stroke="#3a3a3a" stroke-width="0.1">LSD1</text>
<text x="146.6" y="54.2" font-size="5" text-anchor="start" fill="#3a3a3a" stroke="#3a3a3a" stroke-width="0.1">H3K4me2</text>
<text x="146.6" y="66.2" font-size="5" text-anchor="start" fill="#3a3a3a" stroke="#3a3a3a" stroke-width="0.1">H3K4me2</text>
<text x="146.6" y="77.6" font-size="5" text-anchor="start" fill="#3a3a3a" stroke="#3a3a3a" stroke-width="0.1">H3K4me2</text>
<rect x="195.2" y="54.9" width="4.6" height="27.8" fill="rgba(200,60,100,0.10)" stroke="#C4304A" stroke-width="0.65" />
<text x="335.9" y="31.9" font-size="5" text-anchor="start" fill="#333" stroke="#333" stroke-width="0.08">sgControl</text>
<text x="335.9" y="44.2" font-size="5" text-anchor="start" fill="#333" stroke="#333" stroke-width="0.08">sgControl</text>
<text x="335.9" y="56" font-size="5" text-anchor="start" fill="#333" stroke="#333" stroke-width="0.08">sgControl</text>
<text x="335.9" y="66.8" font-size="5" text-anchor="start" fill="#333" stroke="#333" stroke-width="0.08">sg<tspan font-style="italic">SAMD1</tspan></text>
<rect x="300.5" y="72.4" width="29.5" height="6.6" fill="#fff" stroke="#bbb" stroke-width="0.4" />
<text x="302.3" y="77.6" font-size="5" text-anchor="start" fill="#333" stroke="#333" stroke-width="0.08">Δ (sg<tspan font-style="italic">SAMD1</tspan> - sgControl)</text>
<rect x="328.5" y="53.5" width="4.6" height="31.5" fill="rgba(200,60,100,0.10)" stroke="#C4304A" stroke-width="0.65" />
<line x1="325.4" y1="25.5" x2="351.2" y2="25.5" stroke="#222" stroke-width="0.75" />
<text x="338.3" y="23.7" font-size="5" text-anchor="middle" fill="#222" stroke="#222" stroke-width="0.08">25kb</text>
<text x="320.2" y="31.9" font-size="5" text-anchor="start" fill="#333" stroke="#333" stroke-width="0.06">−77kb</text>
<line x1="330.5" y1="34" x2="330.5" y2="37.8" stroke="#666" stroke-width="0.5" />
<line x1="320.2" y1="32.1" x2="333.6" y2="32.1" stroke="#888" stroke-width="0.35" />
<line x1="182" y1="89.8" x2="198" y2="89.8" stroke="#1a1a1a" stroke-width="0.6" />
<path d="M182 89.8 L183.6 88.3 L184.4 88.3 L184.4 91.3 L183.6 91.3 Z" fill="#111" stroke="none" stroke-width="0.8" />
<rect x="185.5" y="88.3" width="1.8" height="3" fill="#111" stroke="none" stroke-width="0.8" />
<rect x="188.4" y="88.3" width="3.1" height="3" fill="#111" stroke="none" stroke-width="0.8" />
<rect x="196.8" y="88.3" width="1.1" height="3" fill="#111" stroke="none" stroke-width="0.8" />
<text x="189.6" y="98.22" font-size="5.9" text-anchor="middle" fill="#333" stroke="#333" stroke-width="0.06"><tspan font-style="italic">GATA2</tspan></text>
<line x1="332.3" y1="89.8" x2="352.2" y2="89.8" stroke="#1a1a1a" stroke-width="0.6" />
<rect x="332.3" y="88.1" width="1" height="3.5" fill="#111" stroke="none" stroke-width="0.8" />
<rect x="333.7" y="88.1" width="1" height="3.5" fill="#111" stroke="none" stroke-width="0.8" />
<rect x="338.4" y="88.1" width="2.6" height="3.5" fill="#111" stroke="none" stroke-width="0.8" />
<rect x="342.7" y="88.1" width="1" height="3.5" fill="#111" stroke="none" stroke-width="0.8" />
<rect x="344.2" y="88.1" width="1.1" height="3.5" fill="#111" stroke="none" stroke-width="0.8" />
<rect x="351.1" y="88.1" width="1.1" height="3.5" fill="#111" stroke="none" stroke-width="0.8" />
<text x="342.8" y="98.15" font-size="5.7" text-anchor="middle" fill="#333" stroke="#333" stroke-width="0.06"><tspan font-style="italic">RPN1</tspan></text>
<line x1="146.5" y1="122.8" x2="350.5" y2="122.8" stroke="#e0dcf0" stroke-width="0.5" stroke-dasharray="1,1.5"/>
<path d="M146.5 122.8 L146.5 122.71 L147 122.72 L147.5 122.73 L148 122.71 L148.5 122.77 L149 122.79 L149.5 122.74 L150 122.72 L150.5 122.78 L151 122.72 L151.5 122.71 L152 122.78 L152.5 122.74 L153 122.73 L153.5 122.75 L154 122.78 L154.5 122.77 L155 122.72 L155.5 122.72 L156 122.75 L156.5 122.79 L157 122.72 L157.5 122.72 L158 122.78 L158.5 122.74 L159 122.71 L159.5 122.71 L160 122.75 L160.5 122.75 L161 122.74 L161.5 122.78 L162 122.78 L162.5 122.78 L163 122.73 L163.5 122.76 L164 122.74 L164.5 122.76 L165 122.75 L165.5 122.79 L166 122.8 L166.5 122.7 L167 122.76 L167.5 122.79 L168 122.74 L168.5 122.72 L169 122.78 L169.5 122.74 L170 122.77 L170.5 122.75 L171 122.8 L171.5 122.8 L172 122.7 L172.5 122.71 L173 122.75 L173.5 122.74 L174 122.77 L174.5 122.72 L175 122.76 L175.5 122.71 L176 122.72 L176.5 122.72 L177 122.7 L177.5 122.77 L178 122.8 L178.5 122.78 L179 122.78 L179.5 122.79 L180 122.79 L180.5 122.74 L181 122.71 L181.5 122.75 L182 122.71 L182.5 122.71 L183 122.79 L183.5 122.74 L184 122.76 L184.5 122.79 L185 122.7 L185.5 122.77 L186 122.74 L186.5 122.74 L187 122.7 L187.5 122.73 L188 122.76 L188.5 122.76 L189 122.78 L189.5 122.7 L190 122.7 L190.5 122.78 L191 122.8 L191.5 122.77 L192 122.76 L192.5 122.71 L193 122.71 L193.5 122.72 L194 122.8 L194.5 122.72 L195 122.73 L195.5 122.74 L196 122.7 L196.5 122.79 L197 122.79 L197.5 122.72 L198 122.71 L198.5 122.73 L199 122.77 L199.5 122.74 L200 122.72 L200.5 122.79 L201 122.77 L201.5 122.77 L202 122.79 L202.5 122.75 L203 122.78 L203.5 122.78 L204 122.79 L204.5 122.73 L205 122.8 L205.5 122.73 L206 122.78 L206.5 122.8 L207 122.71 L207.5 122.78 L208 122.71 L208.5 122.71 L209 122.71 L209.5 122.79 L210 122.76 L210.5 122.79 L211 122.71 L211.5 122.72 L212 122.74 L212.5 122.75 L213 122.77 L213.5 122.72 L214 122.75 L214.5 122.74 L215 122.79 L215.5 122.78 L216 122.79 L216.5 122.73 L217 122.74 L217.5 122.74 L218 122.37 L218.5 121.46 L219 119.73 L219.5 116.93 L220 114.39 L220.5 117.03 L221 121.25 L221.5 122.63 L222 122.75 L222.5 122.77 L223 122.71 L223.5 122.79 L224 122.7 L224.5 122.79 L225 122.71 L225.5 122.73 L226 122.78 L226.5 122.75 L227 122.77 L227.5 122.77 L228 122.78 L228.5 122.76 L229 122.7 L229.5 122.7 L230 122.71 L230.5 122.79 L231 122.77 L231.5 122.71 L232 122.79 L232.5 122.73 L233 122.77 L233.5 122.7 L234 122.8 L234.5 122.72 L235 122.77 L235.5 122.79 L236 122.8 L236.5 122.72 L237 122.75 L237.5 122.78 L238 122.76 L238.5 122.71 L239 122.78 L239.5 122.74 L240 122.79 L240.5 122.78 L241 122.72 L241.5 122.73 L242 122.78 L242.5 122.79 L243 122.79 L243.5 122.74 L244 122.75 L244.5 122.77 L245 122.78 L245.5 122.74 L246 122.73 L246.5 122.72 L247 122.74 L247.5 122.78 L248 122.79 L248.5 122.73 L249 122.76 L249.5 122.73 L250 122.79 L250.5 122.71 L251 122.74 L251.5 122.68 L252 122.65 L252.5 122.64 L253 122.64 L253.5 122.48 L254 122.45 L254.5 122.34 L255 122.33 L255.5 122.3 L256 122.22 L256.5 122.28 L257 122.34 L257.5 122.39 L258 122.44 L258.5 122.57 L259 122.59 L259.5 122.65 L260 122.68 L260.5 122.75 L261 122.71 L261.5 122.71 L262 122.71 L262.5 122.77 L263 122.73 L263.5 122.76 L264 122.72 L264.5 122.79 L265 122.71 L265.5 122.7 L266 122.75 L266.5 122.75 L267 122.75 L267.5 122.75 L268 122.8 L268.5 122.7 L269 122.78 L269.5 122.78 L270 122.79 L270.5 122.77 L271 122.72 L271.5 122.8 L272 122.79 L272.5 122.73 L273 122.78 L273.5 122.8 L274 122.74 L274.5 122.74 L275 122.75 L275.5 122.73 L276 122.79 L276.5 122.71 L277 122.73 L277.5 122.8 L278 122.79 L278.5 122.75 L279 122.75 L279.5 122.77 L280 122.79 L280.5 122.76 L281 122.79 L281.5 122.74 L282 122.71 L282.5 122.79 L283 122.74 L283.5 122.73 L284 122.78 L284.5 122.72 L285 122.71 L285.5 122.76 L286 122.76 L286.5 122.72 L287 122.75 L287.5 122.76 L288 122.71 L288.5 122.72 L289 122.77 L289.5 122.78 L290 122.77 L290.5 122.76 L291 122.7 L291.5 122.72 L292 122.71 L292.5 122.72 L293 122.72 L293.5 122.79 L294 122.75 L294.5 122.7 L295 122.71 L295.5 122.78 L296 122.76 L296.5 122.74 L297 122.76 L297.5 122.75 L298 122.79 L298.5 122.76 L299 122.75 L299.5 122.8 L300 122.79 L300.5 122.7 L301 122.72 L301.5 122.71 L302 122.74 L302.5 122.72 L303 122.71 L303.5 122.71 L304 122.8 L304.5 122.74 L305 122.77 L305.5 122.73 L306 122.77 L306.5 122.75 L307 122.71 L307.5 122.74 L308 122.77 L308.5 122.75 L309 122.76 L309.5 122.7 L310 122.77 L310.5 122.77 L311 122.74 L311.5 122.79 L312 122.74 L312.5 122.7 L313 122.75 L313.5 122.77 L314 122.75 L314.5 122.75 L315 122.79 L315.5 122.79 L316 122.79 L316.5 122.77 L317 122.76 L317.5 122.77 L318 122.78 L318.5 122.79 L319 122.75 L319.5 122.72 L320 122.74 L320.5 122.74 L321 122.73 L321.5 122.78 L322 122.73 L322.5 122.75 L323 122.75 L323.5 122.74 L324 122.75 L324.5 122.77 L325 122.78 L325.5 122.78 L326 122.75 L326.5 122.76 L327 122.74 L327.5 122.8 L328 122.76 L328.5 122.71 L329 122.78 L329.5 122.74 L330 122.75 L330.5 122.77 L331 122.7 L331.5 122.77 L332 122.72 L332.5 122.78 L333 122.79 L333.5 122.71 L334 122.76 L334.5 122.79 L335 122.76 L335.5 122.76 L336 122.73 L336.5 122.79 L337 122.78 L337.5 122.7 L338 122.73 L338.5 122.78 L339 122.77 L339.5 122.76 L340 122.73 L340.5 122.74 L341 122.72 L341.5 122.72 L342 122.75 L342.5 122.73 L343 122.73 L343.5 122.72 L344 122.75 L344.5 122.72 L345 122.73 L345.5 122.71 L346 122.79 L346.5 122.71 L347 122.8 L347.5 122.72 L348 122.74 L348.5 122.75 L349 122.7 L349.5 122.74 L350 122.76 L350.5 122.72 L350.5 122.8 Z" fill="#7B70B8" stroke="none" stroke-width="0.8" />
<line x1="146.5" y1="134.3" x2="350.5" y2="134.3" stroke="#f2c48a" stroke-width="0.6" />
<path d="M146.5 134.3 L146.5 134.13 L147 134.18 L147.5 134.22 L148 134.21 L148.5 134.21 L149 134.16 L149.5 134.24 L150 134.22 L150.5 134.19 L151 134.22 L151.5 134.24 L152 134.14 L152.5 134.13 L153 134.2 L153.5 134.21 L154 134.26 L154.5 134.24 L155 134.27 L155.5 134.18 L156 134.18 L156.5 134.28 L157 134.12 L157.5 134.24 L158 134.13 L158.5 134.13 L159 134.11 L159.5 134.26 L160 134.21 L160.5 134.12 L161 134.3 L161.5 134.29 L162 134.19 L162.5 134.2 L163 134.12 L163.5 134.15 L164 134.19 L164.5 134.1 L165 134.2 L165.5 134.2 L166 134.16 L166.5 134.22 L167 134.23 L167.5 134.18 L168 134.23 L168.5 134.11 L169 134.16 L169.5 134.19 L170 134.28 L170.5 134.23 L171 134.22 L171.5 134.19 L172 134.19 L172.5 134.12 L173 134.11 L173.5 134.2 L174 134.21 L174.5 134.18 L175 134.1 L175.5 134.23 L176 134.19 L176.5 134.14 L177 134.27 L177.5 134.24 L178 134.1 L178.5 134.13 L179 134.2 L179.5 134.28 L180 134.12 L180.5 134.16 L181 134.14 L181.5 134.1 L182 134.12 L182.5 134.22 L183 134.27 L183.5 134.24 L184 134.2 L184.5 134.2 L185 134.26 L185.5 134.26 L186 134.17 L186.5 134.18 L187 134.23 L187.5 134.1 L188 134.17 L188.5 134.29 L189 134.22 L189.5 134.14 L190 134.24 L190.5 134.16 L191 134.3 L191.5 134.24 L192 134.13 L192.5 134.18 L193 134.17 L193.5 134.26 L194 134.2 L194.5 134.19 L195 134.25 L195.5 134.17 L196 134.19 L196.5 134.1 L197 134.19 L197.5 134.22 L198 134.28 L198.5 134.27 L199 134.15 L199.5 134.28 L200 134.28 L200.5 134.27 L201 134.2 L201.5 134.14 L202 134.18 L202.5 134.14 L203 134.29 L203.5 134.3 L204 134.15 L204.5 134.24 L205 134.16 L205.5 134.23 L206 134.27 L206.5 134.25 L207 134.28 L207.5 134.12 L208 134.18 L208.5 134.23 L209 134.21 L209.5 134.22 L210 134.29 L210.5 134.12 L211 134.18 L211.5 134.11 L212 134.21 L212.5 134.18 L213 134.25 L213.5 134.29 L214 134.11 L214.5 134.13 L215 134.24 L215.5 134.12 L216 134.14 L216.5 134.24 L217 134.18 L217.5 134.11 L218 134.2 L218.5 134.11 L219 134.22 L219.5 132.1 L220 125.66 L220.5 132.14 L221 134.21 L221.5 134.12 L222 134.2 L222.5 134.14 L223 134.25 L223.5 134.27 L224 134.23 L224.5 134.26 L225 134.11 L225.5 134.24 L226 134.19 L226.5 134.28 L227 134.19 L227.5 134.22 L228 134.22 L228.5 134.29 L229 134.28 L229.5 134.13 L230 134.23 L230.5 134.25 L231 134.26 L231.5 134.24 L232 134.25 L232.5 134.29 L233 134.17 L233.5 134.23 L234 134.27 L234.5 134.14 L235 133.03 L235.5 129.25 L236 132.89 L236.5 134.26 L237 134.21 L237.5 134.13 L238 134.14 L238.5 134.27 L239 134.23 L239.5 134.16 L240 134.22 L240.5 134.11 L241 134.26 L241.5 134.11 L242 134.2 L242.5 134.25 L243 134.21 L243.5 134.27 L244 134.16 L244.5 134.25 L245 134.12 L245.5 134.18 L246 134.23 L246.5 134.25 L247 134.18 L247.5 134.26 L248 134.13 L248.5 134.28 L249 134.2 L249.5 134.19 L250 134.25 L250.5 134.15 L251 134.22 L251.5 134.17 L252 134.19 L252.5 134.24 L253 134.22 L253.5 134.28 L254 134.26 L254.5 134.13 L255 134.24 L255.5 134.17 L256 134.28 L256.5 134.19 L257 134.23 L257.5 134.2 L258 134.24 L258.5 134.29 L259 134.24 L259.5 134.25 L260 134.27 L260.5 134.16 L261 134.24 L261.5 134.22 L262 134.12 L262.5 134.15 L263 134.12 L263.5 134.13 L264 134.27 L264.5 134.24 L265 134.29 L265.5 134.16 L266 134.17 L266.5 134.23 L267 134.22 L267.5 134.17 L268 134.16 L268.5 134.25 L269 134.13 L269.5 134.23 L270 134.17 L270.5 134.26 L271 134.28 L271.5 134.12 L272 134.15 L272.5 134.16 L273 134.29 L273.5 134.29 L274 134.27 L274.5 134.26 L275 134.24 L275.5 134.22 L276 134.29 L276.5 134.24 L277 134.17 L277.5 134.26 L278 134.13 L278.5 134.19 L279 134.16 L279.5 134.25 L280 134.21 L280.5 134.16 L281 134.23 L281.5 134.3 L282 134.13 L282.5 134.14 L283 134.24 L283.5 134.29 L284 134.13 L284.5 134.18 L285 134.29 L285.5 134.25 L286 134.28 L286.5 134.14 L287 134.26 L287.5 134.12 L288 134.15 L288.5 134.28 L289 134.16 L289.5 134.22 L290 134.15 L290.5 134.13 L291 134.24 L291.5 134.28 L292 134.11 L292.5 134.22 L293 134.11 L293.5 134.16 L294 134.15 L294.5 134.13 L295 134.17 L295.5 134.21 L296 134.29 L296.5 134.16 L297 134.21 L297.5 134.2 L298 134.11 L298.5 134.27 L299 134.15 L299.5 134.29 L300 134.16 L300.5 134.14 L301 134.25 L301.5 134.19 L302 134.11 L302.5 134.17 L303 134.19 L303.5 134.25 L304 134.29 L304.5 134.23 L305 134.22 L305.5 134.26 L306 134.24 L306.5 134.27 L307 134.16 L307.5 134.17 L308 134.25 L308.5 134.25 L309 134.2 L309.5 134.21 L310 134.11 L310.5 134.23 L311 134.24 L311.5 134.12 L312 134.27 L312.5 134.19 L313 134.23 L313.5 134.14 L314 134.19 L314.5 134.15 L315 134.27 L315.5 134.17 L316 134.18 L316.5 134.21 L317 134.15 L317.5 134.13 L318 134.28 L318.5 134.24 L319 134.23 L319.5 134.26 L320 134.29 L320.5 134.24 L321 134.26 L321.5 134.16 L322 134.21 L322.5 134.28 L323 134.24 L323.5 134.21 L324 134.23 L324.5 134.27 L325 134.29 L325.5 134.3 L326 134.1 L326.5 134.15 L327 134.28 L327.5 134.16 L328 134 L328.5 130.28 L329 125.29 L329.5 132.92 L330 134.2 L330.5 134.26 L331 134.19 L331.5 134.3 L332 134.12 L332.5 134.17 L333 134.17 L333.5 134.11 L334 134.17 L334.5 134.25 L335 134.25 L335.5 134.27 L336 134.29 L336.5 134.15 L337 134.13 L337.5 134.24 L338 134.26 L338.5 134.17 L339 134.13 L339.5 134.11 L340 134.27 L340.5 134.14 L341 134.12 L341.5 134.12 L342 134.16 L342.5 134.11 L343 133.84 L343.5 133.72 L344 133.44 L344.5 133.1 L345 132.88 L345.5 132.65 L346 132.78 L346.5 132.99 L347 133.16 L347.5 133.44 L348 133.67 L348.5 133.9 L349 133.99 L349.5 134.05 L350 134.18 L350.5 134.19 L350.5 134.3 Z" fill="#E8A035" stroke="none" stroke-width="0.8" />
<line x1="146.5" y1="146.4" x2="350.5" y2="146.4" stroke="#4a6fa5" stroke-width="0.6" />
<path d="M146.5 146.4 L146.5 146.33 L147 146.27 L147.5 146.14 L148 146.36 L148.5 146.09 L149 146.33 L149.5 146.2 L150 145.96 L150.5 146.36 L151 146.38 L151.5 146.2 L152 146.31 L152.5 146.07 L153 146.4 L153.5 146.02 L154 146.02 L154.5 146.05 L155 146.21 L155.5 146.27 L156 146.1 L156.5 146.17 L157 146.21 L157.5 146.25 L158 146.2 L158.5 146.1 L159 146.03 L159.5 145.99 L160 146.33 L160.5 146.27 L161 146.2 L161.5 146.15 L162 146.24 L162.5 146.31 L163 146.36 L163.5 146.25 L164 146.19 L164.5 145.96 L165 145.99 L165.5 146.01 L166 145.96 L166.5 145.97 L167 146.12 L167.5 146.03 L168 146.37 L168.5 146.1 L169 146.13 L169.5 146.27 L170 146.14 L170.5 145.97 L171 146.18 L171.5 146.11 L172 146.27 L172.5 146.25 L173 146 L173.5 146.39 L174 146.32 L174.5 146.09 L175 146.2 L175.5 146.36 L176 146.1 L176.5 146.23 L177 146.14 L177.5 146.21 L178 146.16 L178.5 146.15 L179 146.22 L179.5 146.35 L180 146.32 L180.5 146 L181 146.15 L181.5 146.35 L182 146.01 L182.5 146.29 L183 146.36 L183.5 146.16 L184 146.29 L184.5 146.18 L185 146.15 L185.5 146.3 L186 146.14 L186.5 146.35 L187 146.17 L187.5 146.14 L188 146.36 L188.5 146.22 L189 146.37 L189.5 146.2 L190 146.01 L190.5 146.15 L191 146.08 L191.5 146.06 L192 146.35 L192.5 145.95 L193 146.08 L193.5 146.35 L194 146.03 L194.5 146.22 L195 146.32 L195.5 145.97 L196 146.15 L196.5 146.05 L197 146.34 L197.5 146.05 L198 146.37 L198.5 146.29 L199 146.23 L199.5 146.39 L200 146.13 L200.5 146.3 L201 146.27 L201.5 146.08 L202 146.21 L202.5 146 L203 146.12 L203.5 146.01 L204 146.15 L204.5 145.99 L205 146.01 L205.5 146.32 L206 146.06 L206.5 146.25 L207 146.06 L207.5 146.09 L208 146.03 L208.5 146.34 L209 146.23 L209.5 146.06 L210 145.95 L210.5 146.03 L211 146.27 L211.5 145.89 L212 145.91 L212.5 145.39 L213 144.85 L213.5 144.67 L214 143.84 L214.5 143.61 L215 143.66 L215.5 143.78 L216 143.92 L216.5 144.05 L217 144.4 L217.5 144.64 L218 144.48 L218.5 144.05 L219 143.29 L219.5 143.22 L220 142.92 L220.5 143.18 L221 143.35 L221.5 143.88 L222 144.25 L222.5 143.92 L223 143.84 L223.5 143.51 L224 143.4 L224.5 143.62 L225 144.6 L225.5 145.09 L226 145.71 L226.5 145.89 L227 145.9 L227.5 146 L228 146.37 L228.5 146.31 L229 146 L229.5 146.01 L230 146.01 L230.5 145.71 L231 145.41 L231.5 144.48 L232 143.99 L232.5 143.21 L233 143.09 L233.5 143.46 L234 143.71 L234.5 144.05 L235 143.7 L235.5 143.35 L236 142.82 L236.5 142.06 L237 141.71 L237.5 142 L238 142.79 L238.5 143.91 L239 144.86 L239.5 145.69 L240 145.82 L240.5 146.12 L241 146.33 L241.5 146.13 L242 145.85 L242.5 146.18 L243 146.01 L243.5 145.61 L244 145.64 L244.5 145.52 L245 145.37 L245.5 145.53 L246 145.5 L246.5 145.68 L247 145.64 L247.5 145.74 L248 146.24 L248.5 146.02 L249 145.87 L249.5 145.7 L250 145.56 L250.5 145.39 L251 145.15 L251.5 145.1 L252 145.07 L252.5 144.91 L253 145.04 L253.5 145.24 L254 145.56 L254.5 145.84 L255 145.6 L255.5 145.39 L256 145.11 L256.5 144.63 L257 144.45 L257.5 144.33 L258 144.64 L258.5 145.19 L259 145.44 L259.5 145.67 L260 145.41 L260.5 145.55 L261 145.45 L261.5 145.38 L262 145.33 L262.5 145.33 L263 145.57 L263.5 145.8 L264 145.58 L264.5 145.88 L265 145.92 L265.5 145.8 L266 145.78 L266.5 145.63 L267 145.47 L267.5 145.2 L268 145.14 L268.5 145.01 L269 145.25 L269.5 145.3 L270 145.78 L270.5 145.69 L271 145.94 L271.5 146.18 L272 146.03 L272.5 145.61 L273 145.05 L273.5 144.9 L274 144.32 L274.5 144.29 L275 144.17 L275.5 144.85 L276 145.08 L276.5 145.27 L277 145.79 L277.5 145.87 L278 145.9 L278.5 145.67 L279 145.44 L279.5 145.1 L280 145.26 L280.5 145.24 L281 145.48 L281.5 145.5 L282 145.58 L282.5 145.84 L283 146.15 L283.5 145.96 L284 145.83 L284.5 145.91 L285 145.99 L285.5 145.45 L286 145.2 L286.5 145.26 L287 145.28 L287.5 145.29 L288 145.24 L288.5 145.19 L289 145.33 L289.5 145.14 L290 145.33 L290.5 145.16 L291 144.92 L291.5 145.04 L292 145.31 L292.5 145.36 L293 145.57 L293.5 145.58 L294 145.09 L294.5 144.82 L295 144.21 L295.5 144.25 L296 144.41 L296.5 144.8 L297 145.4 L297.5 145.59 L298 145.84 L298.5 145.25 L299 145.11 L299.5 144.63 L300 144.93 L300.5 144.8 L301 145.06 L301.5 145.59 L302 145.98 L302.5 146.11 L303 146.12 L303.5 145.66 L304 145.6 L304.5 144.74 L305 144.35 L305.5 143.91 L306 143.85 L306.5 144.19 L307 144.69 L307.5 145.26 L308 145.75 L308.5 145.7 L309 145.82 L309.5 145.33 L310 144.92 L310.5 144.58 L311 144.66 L311.5 144.59 L312 144.83 L312.5 145.46 L313 145.88 L313.5 145.98 L314 145.91 L314.5 146.32 L315 146.39 L315.5 146.18 L316 146.06 L316.5 145.82 L317 145.33 L317.5 143.54 L318 141.95 L318.5 140.75 L319 141.93 L319.5 143.74 L320 144.93 L320.5 145.23 L321 144.72 L321.5 144.31 L322 144.32 L322.5 144.14 L323 144.82 L323.5 145.42 L324 145.82 L324.5 145.81 L325 145.78 L325.5 145.91 L326 145.34 L326.5 143.9 L327 142.83 L327.5 141.58 L328 141.8 L328.5 142.54 L329 143.62 L329.5 143.94 L330 144.1 L330.5 143.94 L331 143.57 L331.5 144.12 L332 144.28 L332.5 145.14 L333 145.37 L333.5 145.81 L334 145.76 L334.5 146.08 L335 145.63 L335.5 145.29 L336 144.57 L336.5 144.14 L337 144.12 L337.5 144.46 L338 144.87 L338.5 145.34 L339 145.62 L339.5 145.84 L340 145.72 L340.5 145.11 L341 144.69 L341.5 144.43 L342 143.95 L342.5 144.47 L343 144.73 L343.5 145.41 L344 145.51 L344.5 145.77 L345 146.08 L345.5 145.49 L346 144.21 L346.5 142.15 L347 139.91 L347.5 139.59 L348 141.36 L348.5 144.12 L349 145.38 L349.5 145.98 L350 146.17 L350.5 146.14 L350.5 146.4 Z" fill="#2a5590" stroke="none" stroke-width="0.8" />
<line x1="146.5" y1="157.9" x2="350.5" y2="157.9" stroke="#4a6fa5" stroke-width="0.6" />
<path d="M146.5 157.9 L146.5 157.5 L147 157.81 L147.5 157.5 L148 157.74 L148.5 157.55 L149 157.51 L149.5 157.82 L150 157.51 L150.5 157.45 L151 157.77 L151.5 157.89 L152 157.85 L152.5 157.46 L153 157.9 L153.5 157.49 L154 157.83 L154.5 157.57 L155 157.86 L155.5 157.82 L156 157.59 L156.5 157.86 L157 157.75 L157.5 157.49 L158 157.58 L158.5 157.5 L159 157.46 L159.5 157.89 L160 157.79 L160.5 157.54 L161 157.59 L161.5 157.88 L162 157.67 L162.5 157.8 L163 157.71 L163.5 157.85 L164 157.89 L164.5 157.45 L165 157.76 L165.5 157.5 L166 157.85 L166.5 157.68 L167 157.84 L167.5 157.71 L168 157.82 L168.5 157.59 L169 157.83 L169.5 157.57 L170 157.67 L170.5 157.85 L171 157.74 L171.5 157.68 L172 157.49 L172.5 157.74 L173 157.8 L173.5 157.46 L174 157.5 L174.5 157.57 L175 157.78 L175.5 157.82 L176 157.78 L176.5 157.87 L177 157.88 L177.5 157.67 L178 157.72 L178.5 157.65 L179 157.74 L179.5 157.9 L180 157.59 L180.5 157.61 L181 157.66 L181.5 157.65 L182 157.59 L182.5 157.46 L183 157.51 L183.5 157.58 L184 157.72 L184.5 157.76 L185 157.71 L185.5 157.46 L186 157.73 L186.5 157.73 L187 157.72 L187.5 157.84 L188 157.45 L188.5 157.9 L189 157.63 L189.5 157.48 L190 157.79 L190.5 157.63 L191 157.73 L191.5 157.79 L192 157.81 L192.5 157.85 L193 157.52 L193.5 157.55 L194 157.49 L194.5 157.88 L195 157.59 L195.5 157.75 L196 157.61 L196.5 157.65 L197 157.76 L197.5 157.46 L198 157.9 L198.5 157.56 L199 157.52 L199.5 157.67 L200 157.63 L200.5 157.45 L201 157.79 L201.5 157.62 L202 157.57 L202.5 157.73 L203 157.58 L203.5 157.72 L204 157.66 L204.5 157.62 L205 157.6 L205.5 157.76 L206 157.62 L206.5 157.66 L207 157.8 L207.5 157.62 L208 157.78 L208.5 157.49 L209 157.68 L209.5 157.57 L210 157.65 L210.5 157.64 L211 157.7 L211.5 157.62 L212 157.08 L212.5 156.97 L213 156.59 L213.5 156.15 L214 155.61 L214.5 155.56 L215 155.46 L215.5 155.25 L216 155.64 L216.5 155.84 L217 155.96 L217.5 155.96 L218 155.79 L218.5 155.81 L219 155.26 L219.5 154.74 L220 154.63 L220.5 155.06 L221 155.36 L221.5 155.67 L222 155.97 L222.5 155.86 L223 155.45 L223.5 155.34 L224 155.32 L224.5 155.74 L225 156.11 L225.5 156.41 L226 157.02 L226.5 157.44 L227 157.59 L227.5 157.51 L228 157.55 L228.5 157.82 L229 157.57 L229.5 157.66 L230 157.48 L230.5 157.37 L231 156.91 L231.5 156.36 L232 155.72 L232.5 155.37 L233 155.07 L233.5 155.03 L234 155.58 L234.5 155.79 L235 155.51 L235.5 155.27 L236 154.55 L236.5 153.96 L237 153.45 L237.5 154.09 L238 154.6 L238.5 155.43 L239 156.57 L239.5 157.07 L240 157.26 L240.5 157.51 L241 157.68 L241.5 157.82 L242 157.6 L242.5 157.55 L243 157.28 L243.5 157.33 L244 157.14 L244.5 156.93 L245 156.82 L245.5 157.06 L246 157.15 L246.5 157.2 L247 157.18 L247.5 157.62 L248 157.33 L248.5 157.46 L249 157.57 L249.5 157.32 L250 157.3 L250.5 157.21 L251 156.69 L251.5 156.71 L252 156.58 L252.5 156.65 L253 156.63 L253.5 156.89 L254 157.41 L254.5 157.26 L255 157.28 L255.5 157.08 L256 156.57 L256.5 156.37 L257 156.07 L257.5 155.86 L258 156.28 L258.5 156.62 L259 156.95 L259.5 157 L260 157.11 L260.5 157 L261 157.01 L261.5 157.06 L262 156.73 L262.5 156.83 L263 156.86 L263.5 157.02 L264 157.46 L264.5 157.52 L265 157.61 L265.5 157.22 L266 157.42 L266.5 157.24 L267 156.75 L267.5 156.69 L268 156.87 L268.5 156.64 L269 156.77 L269.5 157.07 L270 157.46 L270.5 157.33 L271 157.54 L271.5 157.47 L272 157.19 L272.5 157.05 L273 156.69 L273.5 156.63 L274 156.2 L274.5 155.94 L275 156.25 L275.5 156.08 L276 156.78 L276.5 157.13 L277 157.32 L277.5 157.41 L278 157.07 L278.5 157.06 L279 156.91 L279.5 156.82 L280 156.94 L280.5 156.88 L281 156.76 L281.5 156.97 L282 157.13 L282.5 157.55 L283 157.67 L283.5 157.77 L284 157.54 L284.5 157.53 L285 157.35 L285.5 157.15 L286 156.91 L286.5 156.85 L287 156.59 L287.5 156.89 L288 156.66 L288.5 156.92 L289 157.18 L289.5 157 L290 156.78 L290.5 156.73 L291 156.62 L291.5 156.79 L292 156.96 L292.5 156.88 L293 157.16 L293.5 156.86 L294 156.53 L294.5 156.23 L295 155.98 L295.5 155.68 L296 156.1 L296.5 156.3 L297 157.08 L297.5 157.17 L298 157.12 L298.5 157.22 L299 156.58 L299.5 156.67 L300 156.33 L300.5 156.63 L301 156.57 L301.5 157.05 L302 157.2 L302.5 157.48 L303 157.4 L303.5 157.25 L304 157.08 L304.5 156.64 L305 155.85 L305.5 155.81 L306 155.43 L306.5 156.04 L307 156.58 L307.5 157.07 L308 157.09 L308.5 157.14 L309 157.29 L309.5 156.93 L310 156.76 L310.5 156.17 L311 156.15 L311.5 156.51 L312 156.86 L312.5 156.93 L313 157.52 L313.5 157.36 L314 157.7 L314.5 157.77 L315 157.63 L315.5 157.75 L316 157.61 L316.5 157.62 L317 156.67 L317.5 155.58 L318 153.61 L318.5 153.05 L319 153.55 L319.5 155.08 L320 156.46 L320.5 156.85 L321 156.42 L321.5 155.96 L322 156 L322.5 156 L323 156.59 L323.5 156.87 L324 157.12 L324.5 157.48 L325 157.41 L325.5 157.47 L326 156.59 L326.5 155.91 L327 154.37 L327.5 153.51 L328 153.54 L328.5 154.45 L329 155.41 L329.5 155.85 L330 155.67 L330.5 155.59 L331 155.3 L331.5 155.85 L332 156.07 L332.5 156.4 L333 156.96 L333.5 157.29 L334 157.63 L334.5 157.57 L335 157.31 L335.5 156.67 L336 156.25 L336.5 156.15 L337 155.68 L337.5 156.23 L338 156.35 L338.5 156.62 L339 157.22 L339.5 157.06 L340 157.08 L340.5 157.03 L341 156.47 L341.5 156.05 L342 155.99 L342.5 155.92 L343 156.55 L343.5 156.72 L344 157.32 L344.5 157.65 L345 157.47 L345.5 157.34 L346 156.01 L346.5 153.83 L347 151.93 L347.5 151.76 L348 153.71 L348.5 155.68 L349 157.22 L349.5 157.47 L350 157.82 L350.5 157.64 L350.5 157.9 Z" fill="#2a5590" stroke="none" stroke-width="0.8" />
<path d="M146.5 164.39 L147.5 164.42 L148.5 164.83 L149.5 164.13 L150.5 164.14 L151.5 165.22 L152.5 164.36 L153.5 165.08 L154.5 165.12 L155.5 164.57 L156.5 164.11 L157.5 164.03 L158.5 165.13 L159.5 164.06 L160.5 164.59 L161.5 164.65 L162.5 164.06 L163.5 164.55 L164.5 164.13 L165.5 164.65 L166.5 164.61 L167.5 164.41 L168.5 164.18 L169.5 164.47 L170.5 164.18 L171.5 164.08 L172.5 164.24 L173.5 165.12 L174.5 164.6 L175.5 165.15 L176.5 163.92 L177.5 165.22 L178.5 164.58 L179.5 165.01 L180.5 164.7 L181.5 164.86 L182.5 164.22 L183.5 164.95 L184.5 164.12 L185.5 164.27 L186.5 163.94 L187.5 164.45 L188.5 164.63 L189.5 164.31 L190.5 165.15 L191.5 164.02 L192.5 164.71 L193.5 164.23 L194.5 164.73 L195.5 165 L196.5 164.9 L197.5 163.99 L198.5 164.24 L199.5 164.74 L200.5 165.28 L201.5 163.96 L202.5 164.77 L203.5 164.87 L204.5 165.04 L205.5 164.38 L206.5 165.03 L207.5 164.55 L208.5 165.19 L209.5 163.92 L210.5 165.22 L211.5 164.48 L212.5 164.47 L213.5 164.02 L214.5 164.24 L215.5 164.93 L216.5 164.85 L217.5 164.1 L218.5 164.18 L219.5 163.11 L220.5 163.19 L221.5 164 L222.5 164.35 L223.5 165.27 L224.5 165.3 L225.5 165.01 L226.5 164.57 L227.5 164.6 L228.5 164.99 L229.5 165.17 L230.5 164.95 L231.5 164.79 L232.5 164.18 L233.5 164.78 L234.5 165.08 L235.5 165 L236.5 164.03 L237.5 164.9 L238.5 164.39 L239.5 164.13 L240.5 165.25 L241.5 164.84 L242.5 164.94 L243.5 164.09 L244.5 165.06 L245.5 165.21 L246.5 165.17 L247.5 164.94 L248.5 165.07 L249.5 165.02 L250.5 164.73 L251.5 164.51 L252.5 165.06 L253.5 165 L254.5 165.12 L255.5 164.32 L256.5 165.25 L257.5 164.65 L258.5 165.4 L259.5 164.88 L260.5 166.08 L261.5 165.17 L262.5 164.26 L263.5 165.07 L264.5 164.22 L265.5 164.18 L266.5 164.54 L267.5 164.23 L268.5 164.59 L269.5 165.17 L270.5 164.86 L271.5 164.89 L272.5 164.45 L273.5 165 L274.5 165.01 L275.5 164.86 L276.5 165.22 L277.5 165.06 L278.5 164.47 L279.5 164.02 L280.5 164.81 L281.5 165.07 L282.5 164.38 L283.5 164.73 L284.5 165.07 L285.5 165.01 L286.5 163.91 L287.5 164.58 L288.5 163.92 L289.5 164.05 L290.5 165.04 L291.5 164.49 L292.5 164.75 L293.5 164.54 L294.5 164.37 L295.5 164.2 L296.5 164.4 L297.5 165.08 L298.5 164.77 L299.5 164.31 L300.5 164.02 L301.5 164.28 L302.5 164.88 L303.5 164.52 L304.5 164.83 L305.5 165.03 L306.5 164.07 L307.5 164.86 L308.5 163.96 L309.5 165.05 L310.5 164.16 L311.5 164.28 L312.5 165.24 L313.5 164.41 L314.5 164.21 L315.5 165.15 L316.5 164.81 L317.5 166 L318.5 165.3 L319.5 164.65 L320.5 165.24 L321.5 164.61 L322.5 165.28 L323.5 164.17 L324.5 165.06 L325.5 164.13 L326.5 164.64 L327.5 163.9 L328.5 164.15 L329.5 165.22 L330.5 164.54 L331.5 165.03 L332.5 164.25 L333.5 164.39 L334.5 164.04 L335.5 164.67 L336.5 165.11 L337.5 164.62 L338.5 164.43 L339.5 165.2 L340.5 165.15 L341.5 164.83 L342.5 164.01 L343.5 164.77 L344.5 164.59 L345.5 166.3 L346.5 165.47 L347.5 164.89 L348.5 164.78 L349.5 164.43 L350.5 164.63" fill="none" stroke="#3a3a3a" stroke-width="0.55" stroke-dasharray="1.4,0.7"/>
<line x1="144.7" y1="112" x2="144.7" y2="169.5" stroke="#1a1a1a" stroke-width="1" />
<line x1="142.1" y1="113.8" x2="144.7" y2="113.8" stroke="#1a1a1a" stroke-width="0.8" />
<text x="138.8" y="116.03" font-size="6.2" text-anchor="end" fill="#222" stroke="#222" stroke-width="0.1">1.5</text>
<line x1="142.1" y1="125" x2="144.7" y2="125" stroke="#1a1a1a" stroke-width="0.8" />
<text x="138.8" y="127.23" font-size="6.2" text-anchor="end" fill="#222" stroke="#222" stroke-width="0.1">0.1</text>
<line x1="142.1" y1="136.3" x2="144.7" y2="136.3" stroke="#1a1a1a" stroke-width="0.8" />
<text x="138.8" y="138.53" font-size="6.2" text-anchor="end" fill="#222" stroke="#222" stroke-width="0.1">0.15</text>
<line x1="142.1" y1="147.5" x2="144.7" y2="147.5" stroke="#1a1a1a" stroke-width="0.8" />
<text x="138.8" y="149.73" font-size="6.2" text-anchor="end" fill="#222" stroke="#222" stroke-width="0.1">0.15</text>
<line x1="142.1" y1="159.3" x2="144.7" y2="159.3" stroke="#1a1a1a" stroke-width="0.8" />
<text x="138.8" y="161.53" font-size="6.2" text-anchor="end" fill="#222" stroke="#222" stroke-width="0.1">0.045</text>
<line x1="142.1" y1="167.5" x2="144.7" y2="167.5" stroke="#1a1a1a" stroke-width="0.8" />
<text x="138.8" y="169.73" font-size="6.2" text-anchor="end" fill="#222" stroke="#222" stroke-width="0.1">-0.045</text>
<text x="148.6" y="118.1" font-size="5" text-anchor="start" fill="#3a3a3a" stroke="#3a3a3a" stroke-width="0.1">SAMD1</text>
<text x="151.2" y="128.1" font-size="5" text-anchor="start" fill="#3a3a3a" stroke="#3a3a3a" stroke-width="0.1">LSD1</text>
<text x="146.6" y="139.8" font-size="5" text-anchor="start" fill="#3a3a3a" stroke="#3a3a3a" stroke-width="0.1">H3K4me2</text>
<text x="146.6" y="151.8" font-size="5" text-anchor="start" fill="#3a3a3a" stroke="#3a3a3a" stroke-width="0.1">H3K4me2</text>
<text x="146.6" y="163.1" font-size="5" text-anchor="start" fill="#3a3a3a" stroke="#3a3a3a" stroke-width="0.1">H3K4me2</text>
<rect x="218.1" y="137.3" width="3.6" height="34.3" fill="rgba(214,42,60,0.35)" stroke="#C4304A" stroke-width="0.65" />
<text x="328.4" y="118.3" font-size="5" text-anchor="start" fill="#333" stroke="#333" stroke-width="0.08">sgControl</text>
<text x="328.4" y="128" font-size="5" text-anchor="start" fill="#333" stroke="#333" stroke-width="0.08">sgControl</text>
<text x="328.4" y="140.3" font-size="5" text-anchor="start" fill="#333" stroke="#333" stroke-width="0.08">sgControl</text>
<text x="328.4" y="150.6" font-size="5" text-anchor="start" fill="#333" stroke="#333" stroke-width="0.08">sg<tspan font-style="italic">SAMD1</tspan></text>
<text x="294.2" y="162.2" font-size="5" text-anchor="start" fill="#333" stroke="#333" stroke-width="0.08">Δ (sg<tspan font-style="italic">SAMD1</tspan> - sgControl)</text>
<line x1="328.9" y1="113.1" x2="348.5" y2="113.1" stroke="#222" stroke-width="0.75" />
<text x="338.7" y="111.2" font-size="5" text-anchor="middle" fill="#222" stroke="#222" stroke-width="0.08">25kb</text>
<line x1="146.5" y1="175.3" x2="218.7" y2="175.3" stroke="#333" stroke-width="0.55" />
<line x1="146.5" y1="183.8" x2="346" y2="183.8" stroke="#333" stroke-width="0.55" />
<rect x="148.4" y="173.7" width="1.2" height="3.2" fill="#111" stroke="none" stroke-width="0.8" />
<rect x="176.1" y="173.7" width="1.2" height="3.2" fill="#111" stroke="none" stroke-width="0.8" />
<rect x="196.3" y="173.7" width="1.2" height="3.2" fill="#111" stroke="none" stroke-width="0.8" />
<rect x="212.7" y="173.7" width="1.2" height="3.2" fill="#111" stroke="none" stroke-width="0.8" />
<path d="M217.3 173.5 L220 175.3 L217.3 177.1 Z" fill="#111" stroke="none" stroke-width="0.8" />
<rect x="148.4" y="182.2" width="1.2" height="3.2" fill="#111" stroke="none" stroke-width="0.8" />
<rect x="176.1" y="182.2" width="1.2" height="3.2" fill="#111" stroke="none" stroke-width="0.8" />
<rect x="196.3" y="182.2" width="1.2" height="3.2" fill="#111" stroke="none" stroke-width="0.8" />
<rect x="212.7" y="182.2" width="1.2" height="3.2" fill="#111" stroke="none" stroke-width="0.8" />
<rect x="217.5" y="182.2" width="1.2" height="3.2" fill="#111" stroke="none" stroke-width="0.8" />
<rect x="222.1" y="182.2" width="1.2" height="3.2" fill="#111" stroke="none" stroke-width="0.8" />
<rect x="345.1" y="182.2" width="1.2" height="3.2" fill="#111" stroke="none" stroke-width="0.8" />
<text x="271.2" y="194.42" font-size="5.9" text-anchor="middle" fill="#333" stroke="#333" stroke-width="0.06"><tspan font-style="italic">RUNX1</tspan></text>
<line x1="146.5" y1="220.8" x2="351" y2="220.8" stroke="#e2dff0" stroke-width="0.5" stroke-dasharray="0.8,2.5"/>
<path d="M146.5 220.8 L146.5 220.73 L147 220.71 L147.5 220.75 L148 220.76 L148.5 220.7 L149 220.79 L149.5 220.72 L150 220.73 L150.5 220.74 L151 220.76 L151.5 220.72 L152 220.71 L152.5 220.73 L153 220.73 L153.5 220.8 L154 220.77 L154.5 220.79 L155 220.7 L155.5 220.71 L156 220.79 L156.5 220.74 L157 220.74 L157.5 220.8 L158 220.76 L158.5 220.73 L159 220.74 L159.5 220.77 L160 220.72 L160.5 220.77 L161 220.75 L161.5 220.76 L162 220.7 L162.5 220.74 L163 220.72 L163.5 220.73 L164 220.76 L164.5 220.7 L165 220.73 L165.5 220.73 L166 220.77 L166.5 220.78 L167 220.74 L167.5 220.72 L168 220.72 L168.5 220.77 L169 220.79 L169.5 220.75 L170 220.71 L170.5 220.78 L171 220.73 L171.5 220.78 L172 220.77 L172.5 220.79 L173 220.77 L173.5 220.76 L174 220.7 L174.5 220.7 L175 220.78 L175.5 220.77 L176 220.71 L176.5 220.78 L177 220.77 L177.5 220.76 L178 220.79 L178.5 220.77 L179 220.76 L179.5 220.76 L180 220.7 L180.5 220.77 L181 220.78 L181.5 220.71 L182 220.75 L182.5 220.72 L183 220.74 L183.5 220.72 L184 220.77 L184.5 220.78 L185 220.72 L185.5 220.75 L186 220.74 L186.5 220.73 L187 220.72 L187.5 220.77 L188 220.76 L188.5 220.71 L189 220.75 L189.5 220.77 L190 220.74 L190.5 220.77 L191 220.72 L191.5 220.79 L192 220.71 L192.5 220.73 L193 220.74 L193.5 220.68 L194 220.73 L194.5 220.72 L195 220.72 L195.5 220.65 L196 220.6 L196.5 220.58 L197 220.58 L197.5 220.51 L198 220.55 L198.5 220.5 L199 220.45 L199.5 220.41 L200 220.44 L200.5 220.43 L201 220.44 L201.5 220.5 L202 220.47 L202.5 220.51 L203 220.58 L203.5 220.61 L204 220.6 L204.5 220.67 L205 220.71 L205.5 220.66 L206 220.71 L206.5 220.72 L207 220.71 L207.5 220.7 L208 220.78 L208.5 220.76 L209 220.79 L209.5 220.76 L210 220.75 L210.5 220.71 L211 220.73 L211.5 220.74 L212 220.76 L212.5 220.74 L213 220.77 L213.5 220.72 L214 220.72 L214.5 220.72 L215 220.78 L215.5 220.73 L216 220.72 L216.5 220.75 L217 220.71 L217.5 220.71 L218 220.73 L218.5 220.72 L219 220.74 L219.5 220.71 L220 220.79 L220.5 220.73 L221 220.73 L221.5 220.74 L222 220.77 L222.5 220.79 L223 220.74 L223.5 220.72 L224 220.77 L224.5 220.78 L225 220.78 L225.5 220.79 L226 220.73 L226.5 220.7 L227 220.72 L227.5 220.76 L228 220.73 L228.5 220.79 L229 220.72 L229.5 220.77 L230 220.8 L230.5 220.74 L231 220.79 L231.5 220.77 L232 220.79 L232.5 220.76 L233 220.74 L233.5 220.72 L234 220.8 L234.5 220.72 L235 220.79 L235.5 220.78 L236 220.74 L236.5 220.77 L237 220.77 L237.5 220.74 L238 220.78 L238.5 220.72 L239 220.78 L239.5 220.72 L240 220.72 L240.5 220.75 L241 220.8 L241.5 220.72 L242 220.8 L242.5 220.75 L243 220.76 L243.5 220.79 L244 220.74 L244.5 220.73 L245 220.73 L245.5 220.73 L246 220.68 L246.5 220.57 L247 220.43 L247.5 220.13 L248 219.88 L248.5 219.74 L249 219.73 L249.5 219.94 L250 220.12 L250.5 220.45 L251 220.58 L251.5 220.71 L252 220.73 L252.5 220.72 L253 220.73 L253.5 220.75 L254 220.77 L254.5 220.78 L255 220.76 L255.5 220.77 L256 220.78 L256.5 220.73 L257 220.75 L257.5 220.76 L258 220.78 L258.5 220.73 L259 220.78 L259.5 220.77 L260 220.74 L260.5 220.73 L261 220.7 L261.5 220.73 L262 220.71 L262.5 220.71 L263 220.73 L263.5 220.73 L264 220.79 L264.5 220.78 L265 220.8 L265.5 220.71 L266 220.73 L266.5 220.74 L267 220.77 L267.5 220.76 L268 220.78 L268.5 220.74 L269 220.7 L269.5 220.77 L270 220.8 L270.5 220.78 L271 220.76 L271.5 220.71 L272 220.72 L272.5 220.75 L273 220.79 L273.5 220.79 L274 220.78 L274.5 220.72 L275 220.75 L275.5 220.7 L276 220.71 L276.5 220.72 L277 220.75 L277.5 220.72 L278 220.79 L278.5 220.79 L279 220.74 L279.5 220.73 L280 220.71 L280.5 220.6 L281 220.42 L281.5 220.02 L282 219.66 L282.5 219.3 L283 219.12 L283.5 219.13 L284 219.06 L284.5 218.84 L285 218.23 L285.5 217.5 L286 217.04 L286.5 217.03 L287 217.57 L287.5 218.44 L288 219.37 L288.5 220.09 L289 220.41 L289.5 220.61 L290 220.72 L290.5 220.79 L291 220.71 L291.5 220.75 L292 220.79 L292.5 220.77 L293 220.74 L293.5 220.71 L294 220.75 L294.5 220.74 L295 220.78 L295.5 220.78 L296 220.71 L296.5 220.76 L297 220.79 L297.5 220.74 L298 220.79 L298.5 220.78 L299 220.75 L299.5 220.74 L300 220.74 L300.5 220.73 L301 220.76 L301.5 220.79 L302 220.73 L302.5 220.79 L303 220.75 L303.5 220.76 L304 220.73 L304.5 220.73 L305 220.78 L305.5 220.74 L306 220.73 L306.5 220.75 L307 220.79 L307.5 220.71 L308 220.74 L308.5 220.79 L309 220.78 L309.5 220.7 L310 220.78 L310.5 220.76 L311 220.72 L311.5 220.72 L312 220.74 L312.5 220.73 L313 220.8 L313.5 220.79 L314 220.7 L314.5 220.72 L315 220.8 L315.5 220.8 L316 220.78 L316.5 220.71 L317 220.78 L317.5 220.73 L318 220.71 L318.5 220.74 L319 220.71 L319.5 220.77 L320 220.78 L320.5 220.8 L321 220.72 L321.5 220.79 L322 220.7 L322.5 220.73 L323 220.78 L323.5 220.72 L324 220.78 L324.5 220.75 L325 220.79 L325.5 220.72 L326 220.71 L326.5 220.71 L327 220.8 L327.5 220.71 L328 220.74 L328.5 220.72 L329 220.75 L329.5 220.74 L330 220.74 L330.5 220.72 L331 220.79 L331.5 220.79 L332 220.75 L332.5 220.77 L333 220.76 L333.5 220.8 L334 220.73 L334.5 220.8 L335 220.72 L335.5 220.72 L336 220.75 L336.5 220.79 L337 220.73 L337.5 220.78 L338 220.76 L338.5 220.79 L339 220.7 L339.5 220.75 L340 220.76 L340.5 220.79 L341 220.73 L341.5 220.72 L342 220.72 L342.5 220.79 L343 220.76 L343.5 220.77 L344 220.72 L344.5 220.79 L345 220.74 L345.5 220.7 L346 220.72 L346.5 220.8 L347 220.79 L347.5 220.79 L348 220.73 L348.5 220.74 L349 220.75 L349.5 220.75 L350 220.76 L350.5 220.74 L351 220.74 L351 220.8 Z" fill="#7B70B8" stroke="none" stroke-width="0.8" />
<line x1="146.5" y1="231.9" x2="351" y2="231.9" stroke="#f6e0c4" stroke-width="0.5" stroke-dasharray="1,2"/>
<path d="M146.5 231.9 L146.5 231.81 L147 231.83 L147.5 231.82 L148 231.81 L148.5 231.82 L149 231.83 L149.5 231.9 L150 231.83 L150.5 231.82 L151 231.86 L151.5 231.81 L152 231.88 L152.5 231.81 L153 231.86 L153.5 231.83 L154 231.87 L154.5 231.87 L155 231.87 L155.5 231.87 L156 231.89 L156.5 231.86 L157 231.8 L157.5 231.83 L158 231.81 L158.5 231.82 L159 231.82 L159.5 231.8 L160 231.82 L160.5 231.87 L161 231.88 L161.5 231.86 L162 231.9 L162.5 231.88 L163 231.81 L163.5 231.81 L164 231.87 L164.5 231.82 L165 231.82 L165.5 231.81 L166 231.82 L166.5 231.85 L167 231.89 L167.5 231.82 L168 231.87 L168.5 231.84 L169 231.86 L169.5 231.85 L170 231.8 L170.5 231.88 L171 231.85 L171.5 231.84 L172 231.85 L172.5 231.81 L173 231.86 L173.5 231.81 L174 231.83 L174.5 231.8 L175 231.89 L175.5 231.88 L176 231.87 L176.5 231.81 L177 231.9 L177.5 231.87 L178 231.83 L178.5 231.8 L179 231.88 L179.5 231.86 L180 231.83 L180.5 231.83 L181 231.83 L181.5 231.82 L182 231.88 L182.5 231.87 L183 231.9 L183.5 231.83 L184 231.88 L184.5 231.87 L185 231.8 L185.5 231.84 L186 231.84 L186.5 231.83 L187 231.84 L187.5 231.83 L188 231.87 L188.5 231.89 L189 231.89 L189.5 231.9 L190 231.86 L190.5 231.89 L191 231.89 L191.5 231.85 L192 231.8 L192.5 231.83 L193 231.87 L193.5 231.82 L194 231.88 L194.5 231.89 L195 231.87 L195.5 231.86 L196 231.83 L196.5 231.86 L197 231.83 L197.5 231.89 L198 231.81 L198.5 231.87 L199 231.82 L199.5 231.9 L200 231.82 L200.5 231.88 L201 231.81 L201.5 231.82 L202 231.83 L202.5 231.87 L203 231.9 L203.5 231.88 L204 231.81 L204.5 231.88 L205 231.83 L205.5 231.84 L206 231.83 L206.5 231.88 L207 231.89 L207.5 231.89 L208 231.8 L208.5 231.86 L209 231.83 L209.5 231.84 L210 231.88 L210.5 231.89 L211 231.9 L211.5 231.81 L212 231.89 L212.5 231.8 L213 231.86 L213.5 231.83 L214 231.89 L214.5 231.82 L215 231.87 L215.5 231.86 L216 231.85 L216.5 231.89 L217 231.88 L217.5 231.82 L218 231.87 L218.5 231.86 L219 231.82 L219.5 231.88 L220 231.88 L220.5 231.88 L221 231.86 L221.5 231.86 L222 231.84 L222.5 231.85 L223 231.81 L223.5 231.89 L224 231.83 L224.5 231.82 L225 231.88 L225.5 231.9 L226 231.86 L226.5 231.89 L227 231.85 L227.5 231.83 L228 231.89 L228.5 231.89 L229 231.85 L229.5 231.88 L230 231.88 L230.5 231.86 L231 231.89 L231.5 231.89 L232 231.86 L232.5 231.85 L233 231.81 L233.5 231.84 L234 231.89 L234.5 231.88 L235 231.83 L235.5 231.84 L236 231.81 L236.5 231.8 L237 231.81 L237.5 231.89 L238 231.81 L238.5 231.85 L239 231.88 L239.5 231.88 L240 231.81 L240.5 231.88 L241 231.89 L241.5 231.87 L242 231.81 L242.5 231.85 L243 231.83 L243.5 231.89 L244 231.85 L244.5 231.85 L245 231.85 L245.5 231.79 L246 231.78 L246.5 231.76 L247 231.61 L247.5 231.58 L248 231.52 L248.5 231.45 L249 231.31 L249.5 231.27 L250 231.3 L250.5 231.27 L251 231.3 L251.5 231.39 L252 231.51 L252.5 231.58 L253 231.64 L253.5 231.71 L254 231.8 L254.5 231.77 L255 231.78 L255.5 231.81 L256 231.81 L256.5 231.86 L257 231.81 L257.5 231.88 L258 231.88 L258.5 231.84 L259 231.81 L259.5 231.89 L260 231.88 L260.5 231.9 L261 231.86 L261.5 231.89 L262 231.88 L262.5 231.83 L263 231.84 L263.5 231.81 L264 231.86 L264.5 231.83 L265 231.9 L265.5 231.81 L266 231.88 L266.5 231.85 L267 231.85 L267.5 231.81 L268 231.85 L268.5 231.8 L269 231.84 L269.5 231.88 L270 231.82 L270.5 231.88 L271 231.8 L271.5 231.85 L272 231.88 L272.5 231.8 L273 231.87 L273.5 231.86 L274 231.87 L274.5 231.83 L275 231.9 L275.5 231.86 L276 231.88 L276.5 231.82 L277 231.9 L277.5 231.84 L278 231.87 L278.5 231.85 L279 231.84 L279.5 231.83 L280 231.89 L280.5 231.88 L281 231.89 L281.5 231.8 L282 231.88 L282.5 231.88 L283 231.82 L283.5 231.79 L284 231.7 L284.5 231.69 L285 231.55 L285.5 231.4 L286 231.2 L286.5 231.1 L287 231.06 L287.5 231.05 L288 231.19 L288.5 231.33 L289 231.48 L289.5 231.67 L290 231.7 L290.5 231.81 L291 231.87 L291.5 231.8 L292 231.89 L292.5 231.9 L293 231.87 L293.5 231.87 L294 231.8 L294.5 231.81 L295 231.86 L295.5 231.85 L296 231.82 L296.5 231.82 L297 231.83 L297.5 231.85 L298 231.89 L298.5 231.88 L299 231.83 L299.5 231.84 L300 231.82 L300.5 231.81 L301 231.8 L301.5 231.88 L302 231.89 L302.5 231.81 L303 231.84 L303.5 231.88 L304 231.83 L304.5 231.87 L305 231.88 L305.5 231.86 L306 231.85 L306.5 231.83 L307 231.89 L307.5 231.83 L308 231.84 L308.5 231.85 L309 231.83 L309.5 231.82 L310 231.9 L310.5 231.85 L311 231.83 L311.5 231.83 L312 231.84 L312.5 231.88 L313 231.8 L313.5 231.82 L314 231.88 L314.5 231.86 L315 231.8 L315.5 231.88 L316 231.86 L316.5 231.8 L317 231.81 L317.5 231.88 L318 231.83 L318.5 231.86 L319 231.83 L319.5 231.82 L320 231.89 L320.5 231.88 L321 231.88 L321.5 231.87 L322 231.9 L322.5 231.89 L323 231.86 L323.5 231.86 L324 231.89 L324.5 231.84 L325 231.81 L325.5 231.84 L326 231.86 L326.5 231.83 L327 231.86 L327.5 231.88 L328 231.85 L328.5 231.9 L329 231.83 L329.5 231.88 L330 231.86 L330.5 231.8 L331 231.82 L331.5 231.82 L332 231.84 L332.5 231.84 L333 231.83 L333.5 231.8 L334 231.88 L334.5 231.82 L335 231.87 L335.5 231.87 L336 231.82 L336.5 231.84 L337 231.82 L337.5 231.81 L338 231.84 L338.5 231.88 L339 231.9 L339.5 231.85 L340 231.83 L340.5 231.87 L341 231.89 L341.5 231.9 L342 231.88 L342.5 231.83 L343 231.9 L343.5 231.88 L344 231.87 L344.5 231.83 L345 231.8 L345.5 231.9 L346 231.89 L346.5 231.81 L347 231.8 L347.5 231.89 L348 231.87 L348.5 231.85 L349 231.87 L349.5 231.86 L350 231.85 L350.5 231.87 L351 231.89 L351 231.9 Z" fill="#E8A035" stroke="none" stroke-width="0.8" />
<line x1="146.5" y1="244" x2="292" y2="244" stroke="#a9bad6" stroke-width="0.5" />
<path d="M146.5 244 L146.5 243.99 L147 243.98 L147.5 243.99 L148 243.91 L148.5 243.9 L149 243.96 L149.5 243.88 L150 243.89 L150.5 243.95 L151 243.93 L151.5 243.97 L152 243.86 L152.5 243.92 L153 243.99 L153.5 243.98 L154 243.9 L154.5 243.94 L155 243.89 L155.5 243.97 L156 243.88 L156.5 243.88 L157 243.99 L157.5 243.91 L158 243.97 L158.5 243.89 L159 243.88 L159.5 243.88 L160 243.97 L160.5 243.99 L161 243.9 L161.5 243.92 L162 243.98 L162.5 243.97 L163 243.91 L163.5 243.98 L164 243.9 L164.5 243.96 L165 243.96 L165.5 243.94 L166 243.92 L166.5 243.89 L167 244 L167.5 243.89 L168 243.97 L168.5 243.96 L169 243.9 L169.5 243.9 L170 243.91 L170.5 243.86 L171 243.97 L171.5 243.95 L172 243.9 L172.5 243.96 L173 243.98 L173.5 243.97 L174 243.88 L174.5 243.88 L175 243.89 L175.5 243.86 L176 243.88 L176.5 243.95 L177 243.95 L177.5 243.89 L178 243.99 L178.5 243.91 L179 243.99 L179.5 243.99 L180 243.92 L180.5 243.98 L181 243.86 L181.5 243.87 L182 243.93 L182.5 243.97 L183 243.98 L183.5 243.92 L184 243.92 L184.5 243.95 L185 243.89 L185.5 243.92 L186 243.88 L186.5 243.98 L187 243.99 L187.5 243.94 L188 243.93 L188.5 243.96 L189 243.9 L189.5 243.97 L190 243.95 L190.5 243.93 L191 243.89 L191.5 243.88 L192 243.94 L192.5 243.93 L193 243.86 L193.5 243.86 L194 243.91 L194.5 243.98 L195 243.93 L195.5 243.9 L196 243.96 L196.5 243.99 L197 243.85 L197.5 243.86 L198 243.98 L198.5 243.93 L199 243.91 L199.5 243.96 L200 243.99 L200.5 243.89 L201 243.88 L201.5 243.93 L202 243.99 L202.5 243.94 L203 243.99 L203.5 243.86 L204 243.99 L204.5 243.96 L205 243.88 L205.5 243.98 L206 243.98 L206.5 243.99 L207 243.98 L207.5 243.92 L208 243.88 L208.5 243.97 L209 243.97 L209.5 243.89 L210 243.94 L210.5 243.95 L211 243.98 L211.5 243.96 L212 243.84 L212.5 243.93 L213 243.8 L213.5 243.52 L214 243.13 L214.5 242.65 L215 242.24 L215.5 241.88 L216 241.97 L216.5 242.36 L217 242.82 L217.5 243.24 L218 243.57 L218.5 243.85 L219 243.93 L219.5 243.84 L220 243.98 L220.5 243.88 L221 243.95 L221.5 243.96 L222 243.96 L222.5 243.93 L223 243.85 L223.5 243.98 L224 243.87 L224.5 243.95 L225 243.97 L225.5 243.89 L226 243.95 L226.5 243.97 L227 243.94 L227.5 243.88 L228 243.87 L228.5 243.91 L229 244 L229.5 243.89 L230 243.91 L230.5 243.87 L231 243.86 L231.5 243.95 L232 243.87 L232.5 243.88 L233 243.96 L233.5 243.95 L234 243.94 L234.5 243.95 L235 243.94 L235.5 243.98 L236 243.97 L236.5 243.86 L237 243.94 L237.5 243.9 L238 243.87 L238.5 243.89 L239 243.96 L239.5 243.86 L240 243.88 L240.5 243.85 L241 243.89 L241.5 243.89 L242 243.88 L242.5 243.96 L243 243.9 L243.5 243.94 L244 243.87 L244.5 243.97 L245 243.9 L245.5 243.91 L246 243.79 L246.5 243.77 L247 243.53 L247.5 243.28 L248 242.95 L248.5 242.69 L249 242.21 L249.5 241.98 L250 241.9 L250.5 242 L251 242.35 L251.5 242.58 L252 243 L252.5 243.34 L253 243.6 L253.5 243.7 L254 243.79 L254.5 243.83 L255 243.95 L255.5 243.94 L256 243.96 L256.5 243.98 L257 243.95 L257.5 244 L258 243.88 L258.5 243.97 L259 243.99 L259.5 243.99 L260 243.89 L260.5 243.97 L261 243.93 L261.5 243.94 L262 243.88 L262.5 243.86 L263 243.95 L263.5 243.89 L264 243.83 L264.5 243.85 L265 243.7 L265.5 243.59 L266 243.46 L266.5 243.14 L267 242.95 L267.5 242.84 L268 242.7 L268.5 242.69 L269 242.84 L269.5 242.92 L270 242.89 L270.5 242.64 L271 242.4 L271.5 242.21 L272 242.09 L272.5 242.2 L273 242.36 L273.5 242.62 L274 242.76 L274.5 242.45 L275 242.23 L275.5 241.82 L276 241.71 L276.5 241.81 L277 242.18 L277.5 242.56 L278 242.6 L278.5 242.34 L279 241.89 L279.5 241.5 L280 241.34 L280.5 241.47 L281 241.91 L281.5 242.37 L282 242.25 L282.5 241.73 L283 241.17 L283.5 240.9 L284 241.18 L284.5 241.82 L285 242.32 L285.5 241.93 L286 240.79 L286.5 239.44 L287 238.97 L287.5 239.5 L288 240.89 L288.5 242.28 L289 243.3 L289.5 243.64 L290 243.79 L290.5 243.9 L291 243.88 L291.5 243.97 L292 243.86 L292 244 Z" fill="#1D4A85" stroke="none" stroke-width="0.8" />
<line x1="146.5" y1="255.5" x2="292" y2="255.5" stroke="#a9bad6" stroke-width="0.5" />
<path d="M146.5 255.5 L146.5 255.42 L147 255.39 L147.5 255.37 L148 255.45 L148.5 255.36 L149 255.47 L149.5 255.5 L150 255.42 L150.5 255.37 L151 255.36 L151.5 255.36 L152 255.42 L152.5 255.36 L153 255.42 L153.5 255.48 L154 255.41 L154.5 255.38 L155 255.44 L155.5 255.41 L156 255.46 L156.5 255.46 L157 255.44 L157.5 255.42 L158 255.43 L158.5 255.49 L159 255.5 L159.5 255.45 L160 255.39 L160.5 255.39 L161 255.46 L161.5 255.46 L162 255.42 L162.5 255.47 L163 255.41 L163.5 255.36 L164 255.47 L164.5 255.41 L165 255.39 L165.5 255.39 L166 255.39 L166.5 255.39 L167 255.46 L167.5 255.37 L168 255.36 L168.5 255.49 L169 255.36 L169.5 255.43 L170 255.49 L170.5 255.49 L171 255.38 L171.5 255.4 L172 255.48 L172.5 255.43 L173 255.4 L173.5 255.35 L174 255.45 L174.5 255.39 L175 255.46 L175.5 255.47 L176 255.48 L176.5 255.44 L177 255.41 L177.5 255.45 L178 255.48 L178.5 255.47 L179 255.49 L179.5 255.47 L180 255.45 L180.5 255.42 L181 255.47 L181.5 255.43 L182 255.43 L182.5 255.35 L183 255.43 L183.5 255.36 L184 255.43 L184.5 255.47 L185 255.41 L185.5 255.48 L186 255.47 L186.5 255.49 L187 255.39 L187.5 255.35 L188 255.44 L188.5 255.45 L189 255.44 L189.5 255.45 L190 255.4 L190.5 255.44 L191 255.48 L191.5 255.37 L192 255.41 L192.5 255.5 L193 255.37 L193.5 255.39 L194 255.45 L194.5 255.41 L195 255.36 L195.5 255.44 L196 255.44 L196.5 255.46 L197 255.42 L197.5 255.4 L198 255.39 L198.5 255.36 L199 255.48 L199.5 255.45 L200 255.37 L200.5 255.38 L201 255.41 L201.5 255.4 L202 255.45 L202.5 255.36 L203 255.42 L203.5 255.44 L204 255.47 L204.5 255.48 L205 255.37 L205.5 255.38 L206 255.5 L206.5 255.45 L207 255.43 L207.5 255.43 L208 255.45 L208.5 255.37 L209 255.45 L209.5 255.42 L210 255.36 L210.5 255.4 L211 255.43 L211.5 255.45 L212 255.43 L212.5 255.36 L213 255.25 L213.5 255.14 L214 254.82 L214.5 254.41 L215 254.01 L215.5 253.69 L216 253.77 L216.5 254.1 L217 254.5 L217.5 254.82 L218 255.21 L218.5 255.28 L219 255.46 L219.5 255.46 L220 255.49 L220.5 255.38 L221 255.48 L221.5 255.47 L222 255.49 L222.5 255.46 L223 255.39 L223.5 255.39 L224 255.36 L224.5 255.36 L225 255.42 L225.5 255.36 L226 255.49 L226.5 255.36 L227 255.43 L227.5 255.47 L228 255.39 L228.5 255.37 L229 255.44 L229.5 255.49 L230 255.37 L230.5 255.39 L231 255.41 L231.5 255.35 L232 255.49 L232.5 255.49 L233 255.48 L233.5 255.5 L234 255.39 L234.5 255.41 L235 255.48 L235.5 255.48 L236 255.47 L236.5 255.41 L237 255.4 L237.5 255.35 L238 255.45 L238.5 255.35 L239 255.43 L239.5 255.44 L240 255.46 L240.5 255.47 L241 255.35 L241.5 255.35 L242 255.39 L242.5 255.47 L243 255.47 L243.5 255.48 L244 255.45 L244.5 255.38 L245 255.48 L245.5 255.39 L246 255.32 L246.5 255.34 L247 255.14 L247.5 254.88 L248 254.64 L248.5 254.34 L249 253.97 L249.5 253.79 L250 253.75 L250.5 253.82 L251 253.96 L251.5 254.28 L252 254.58 L252.5 254.91 L253 255.19 L253.5 255.32 L254 255.37 L254.5 255.36 L255 255.49 L255.5 255.38 L256 255.38 L256.5 255.42 L257 255.5 L257.5 255.38 L258 255.44 L258.5 255.4 L259 255.41 L259.5 255.39 L260 255.44 L260.5 255.36 L261 255.36 L261.5 255.36 L262 255.41 L262.5 255.45 L263 255.44 L263.5 255.45 L264 255.34 L264.5 255.31 L265 255.24 L265.5 255.12 L266 254.93 L266.5 254.78 L267 254.63 L267.5 254.42 L268 254.43 L268.5 254.4 L269 254.55 L269.5 254.51 L270 254.54 L270.5 254.42 L271 254.08 L271.5 253.99 L272 253.78 L272.5 253.9 L273 254.21 L273.5 254.3 L274 254.37 L274.5 254.16 L275 253.91 L275.5 253.66 L276 253.47 L276.5 253.71 L277 253.89 L277.5 254.27 L278 254.33 L278.5 254.18 L279 253.68 L279.5 253.36 L280 253.16 L280.5 253.4 L281 253.72 L281.5 254.05 L282 254.11 L282.5 253.63 L283 253.04 L283.5 252.88 L284 253.1 L284.5 253.72 L285 254.04 L285.5 253.64 L286 252.67 L286.5 251.57 L287 251.18 L287.5 251.66 L288 252.8 L288.5 254.01 L289 254.86 L289.5 255.18 L290 255.39 L290.5 255.35 L291 255.43 L291.5 255.48 L292 255.39 L292 255.5 Z" fill="#1D4A85" stroke="none" stroke-width="0.8" />
<line x1="292" y1="244" x2="330" y2="244" stroke="#dfe5ef" stroke-width="0.5" />
<line x1="292" y1="255.5" x2="330" y2="255.5" stroke="#dfe5ef" stroke-width="0.5" />
<path d="M146.5 262.75 L147.5 263.13 L148.5 262.69 L149.5 263.34 L150.5 263.03 L151.5 263.17 L152.5 262.74 L153.5 263.1 L154.5 262.91 L155.5 262.82 L156.5 263.22 L157.5 262.67 L158.5 262.98 L159.5 262.71 L160.5 263.25 L161.5 263.28 L162.5 262.67 L163.5 262.98 L164.5 262.98 L165.5 263.15 L166.5 263.16 L167.5 262.89 L168.5 263.3 L169.5 262.78 L170.5 262.75 L171.5 263.22 L172.5 262.73 L173.5 262.78 L174.5 263 L175.5 262.89 L176.5 262.76 L177.5 263.3 L178.5 262.98 L179.5 263.2 L180.5 262.83 L181.5 263.29 L182.5 262.8 L183.5 263.28 L184.5 263.08 L185.5 263.33 L186.5 263.19 L187.5 263.09 L188.5 263.02 L189.5 263.25 L190.5 262.96 L191.5 262.72 L192.5 263.29 L193.5 263.21 L194.5 263.13 L195.5 263.17 L196.5 262.81 L197.5 262.97 L198.5 263.23 L199.5 263.32 L200.5 263.3 L201.5 262.76 L202.5 263.13 L203.5 263.04 L204.5 262.93 L205.5 262.77 L206.5 262.75 L207.5 262.98 L208.5 263 L209.5 262.84 L210.5 262.91 L211.5 263.04 L212.5 263.18 L213.5 263.06 L214.5 262.82 L215.5 264.12 L216.5 263.76 L217.5 263.37 L218.5 263.34 L219.5 262.75 L220.5 263.06 L221.5 263.33 L222.5 262.92 L223.5 263.03 L224.5 262.87 L225.5 262.67 L226.5 262.79 L227.5 262.74 L228.5 262.85 L229.5 263.09 L230.5 263.04 L231.5 263.31 L232.5 263.13 L233.5 262.9 L234.5 263.31 L235.5 263.09 L236.5 263.03 L237.5 263.25 L238.5 263.12 L239.5 262.9 L240.5 263.07 L241.5 262.86 L242.5 263.33 L243.5 262.82 L244.5 263.35 L245.5 262.88 L246.5 263.39 L247.5 264.5 L248.5 264.26 L249.5 263.74 L250.5 262.97 L251.5 263.65 L252.5 264.18 L253.5 264.19 L254.5 263.69 L255.5 263.4 L256.5 263.13 L257.5 263.15 L258.5 262.65 L259.5 262.68 L260.5 262.95 L261.5 263.33 L262.5 262.94 L263.5 263.53 L264.5 263.98 L265.5 264.26 L266.5 263.77 L267.5 263.13 L268.5 263.23 L269.5 262.66 L270.5 262.79 L271.5 262.78 L272.5 263.3 L273.5 263.24 L274.5 264.71 L275.5 264.25 L276.5 263.79 L277.5 263.08 L278.5 262.88 L279.5 263.33 L280.5 262.93 L281.5 263.14 L282.5 262.7 L283.5 263.23 L284.5 263.34 L285.5 262.88 L286.5 264.73 L287.5 266.24 L288.5 264.31 L289.5 263.05 L290.5 263.12 L291.5 263.32" fill="none" stroke="#222" stroke-width="0.7" stroke-dasharray="1.4,0.7"/>
<path d="M292 263.3 L293 263.3 L294 263.07 L295 263.09 L296 262.8 L297 263.14 L298 263.03 L299 262.92 L300 263.24 L301 262.85 L302 262.78 L303 262.79 L304 262.79 L305 263.05 L306 263.18 L307 262.8 L308 263 L309 263.04 L310 263.04 L311 262.95 L312 263.03 L313 262.71 L314 262.73 L315 262.95 L316 262.84 L317 263.15 L318 262.85 L319 263.19 L320 262.84 L321 262.76 L322 262.99 L323 262.93 L324 262.9 L325 263.16 L326 262.83 L327 263.1 L328 263.2 L329 262.97 L330 263 L331 263.25 L332 263.06 L333 262.81 L334 262.74 L335 262.75 L336 262.9 L337 262.75 L338 263.09 L339 262.95 L340 262.89 L341 263.01 L342 263.26 L343 262.85 L344 262.79 L345 262.88 L346 262.89 L347 263.25 L348 263.12 L349 262.96 L350 262.8 L351 262.73" fill="none" stroke="#c8c8c8" stroke-width="0.45" stroke-dasharray="1.4,0.7"/>
<line x1="144.9" y1="209.7" x2="144.9" y2="267.6" stroke="#1a1a1a" stroke-width="1" />
<line x1="142.3" y1="212.5" x2="144.9" y2="212.5" stroke="#1a1a1a" stroke-width="0.8" />
<text x="139" y="214.73" font-size="6.2" text-anchor="end" fill="#222" stroke="#222" stroke-width="0.1">0.1</text>
<line x1="142.3" y1="223.8" x2="144.9" y2="223.8" stroke="#1a1a1a" stroke-width="0.8" />
<text x="139" y="226.03" font-size="6.2" text-anchor="end" fill="#222" stroke="#222" stroke-width="0.1">0.1</text>
<line x1="142.3" y1="235" x2="144.9" y2="235" stroke="#1a1a1a" stroke-width="0.8" />
<text x="139" y="237.23" font-size="6.2" text-anchor="end" fill="#222" stroke="#222" stroke-width="0.1">0.3</text>
<line x1="142.3" y1="247" x2="144.9" y2="247" stroke="#1a1a1a" stroke-width="0.8" />
<text x="139" y="249.23" font-size="6.2" text-anchor="end" fill="#222" stroke="#222" stroke-width="0.1">0.3</text>
<line x1="142.3" y1="258" x2="144.9" y2="258" stroke="#1a1a1a" stroke-width="0.8" />
<text x="139" y="260.23" font-size="6.2" text-anchor="end" fill="#222" stroke="#222" stroke-width="0.1">0.07</text>
<line x1="142.3" y1="266.3" x2="144.9" y2="266.3" stroke="#1a1a1a" stroke-width="0.8" />
<text x="139" y="268.53" font-size="6.2" text-anchor="end" fill="#222" stroke="#222" stroke-width="0.1">-0.07</text>
<text x="148.6" y="215.5" font-size="5" text-anchor="start" fill="#3a3a3a" stroke="#3a3a3a" stroke-width="0.1">SAMD1</text>
<text x="151.2" y="227" font-size="5" text-anchor="start" fill="#3a3a3a" stroke="#3a3a3a" stroke-width="0.1">LSD1</text>
<text x="146.6" y="238.1" font-size="5" text-anchor="start" fill="#3a3a3a" stroke="#3a3a3a" stroke-width="0.1">H3K4me2</text>
<text x="146.6" y="250.3" font-size="5" text-anchor="start" fill="#3a3a3a" stroke="#3a3a3a" stroke-width="0.1">H3K4me2</text>
<text x="146.6" y="261.1" font-size="5" text-anchor="start" fill="#3a3a3a" stroke="#3a3a3a" stroke-width="0.1">H3K4me2</text>
<rect x="285.5" y="235" width="5.3" height="34.5" fill="rgba(200,60,100,0.10)" stroke="#C4304A" stroke-width="0.65" />
<text x="328.6" y="214.8" font-size="5" text-anchor="start" fill="#333" stroke="#333" stroke-width="0.08">sgControl</text>
<text x="328.6" y="226.3" font-size="5" text-anchor="start" fill="#333" stroke="#333" stroke-width="0.08">sgControl</text>
<text x="328.6" y="238.1" font-size="5" text-anchor="start" fill="#333" stroke="#333" stroke-width="0.08">sgControl</text>
<text x="328.6" y="249.8" font-size="5" text-anchor="start" fill="#333" stroke="#333" stroke-width="0.08">sg<tspan font-style="italic">SAMD1</tspan></text>
<text x="294.6" y="261.3" font-size="5" text-anchor="start" fill="#333" stroke="#333" stroke-width="0.08">Δ (sg<tspan font-style="italic">SAMD1</tspan> - sgControl)</text>
<line x1="331" y1="208" x2="349" y2="208" stroke="#222" stroke-width="0.75" />
<text x="340" y="206.3" font-size="5" text-anchor="middle" fill="#222" stroke="#222" stroke-width="0.08">2.5kb</text>
<line x1="146.5" y1="273.5" x2="284" y2="273.5" stroke="#333" stroke-width="0.6" />
<rect x="262" y="271.9" width="1.4" height="3.2" fill="#111" stroke="none" stroke-width="0.8" />
<path d="M284 271.8 L287.5 273.5 L284 275.2 Z" fill="#111" stroke="none" stroke-width="0.8" />
<text x="216" y="283.1" font-size="6.4" text-anchor="middle" fill="#333" stroke="#333" stroke-width="0.06"><tspan font-style="italic">SPI1</tspan></text>
<line x1="146.5" y1="310" x2="352" y2="310" stroke="#c9c3e3" stroke-width="0.5" />
<path d="M146.5 310 L146.5 309.98 L147 309.83 L147.5 309.87 L148 309.97 L148.5 309.87 L149 309.99 L149.5 309.9 L150 309.93 L150.5 309.98 L151 309.85 L151.5 309.86 L152 309.9 L152.5 309.97 L153 309.87 L153.5 309.91 L154 309.87 L154.5 309.98 L155 309.82 L155.5 310 L156 309.96 L156.5 309.92 L157 309.96 L157.5 309.98 L158 309.86 L158.5 309.8 L159 309.93 L159.5 309.95 L160 309.87 L160.5 309.96 L161 309.92 L161.5 309.86 L162 309.91 L162.5 309.97 L163 309.99 L163.5 309.89 L164 309.8 L164.5 309.82 L165 309.98 L165.5 309.9 L166 309.9 L166.5 309.96 L167 309.87 L167.5 309.9 L168 309.84 L168.5 309.94 L169 309.81 L169.5 309.84 L170 309.91 L170.5 309.97 L171 309.9 L171.5 309.97 L172 309.86 L172.5 309.86 L173 309.88 L173.5 309.8 L174 309.99 L174.5 309.86 L175 309.84 L175.5 309.98 L176 309.94 L176.5 309.99 L177 309.88 L177.5 309.86 L178 309.93 L178.5 309.86 L179 309.93 L179.5 309.86 L180 309.94 L180.5 309.8 L181 309.91 L181.5 310 L182 309.98 L182.5 309.85 L183 309.83 L183.5 309.87 L184 309.97 L184.5 309.83 L185 309.86 L185.5 309.98 L186 309.92 L186.5 309.87 L187 310 L187.5 309.99 L188 309.93 L188.5 309.83 L189 309.8 L189.5 309.94 L190 309.82 L190.5 309.84 L191 309.83 L191.5 309.88 L192 309.81 L192.5 309.87 L193 309.81 L193.5 309.89 L194 309.96 L194.5 309.9 L195 309.9 L195.5 309.93 L196 309.93 L196.5 309.9 L197 309.88 L197.5 309.96 L198 309.94 L198.5 309.9 L199 309.9 L199.5 309.92 L200 309.87 L200.5 309.96 L201 309.89 L201.5 309.94 L202 309.85 L202.5 309.86 L203 309.84 L203.5 309.9 L204 309.95 L204.5 309.81 L205 309.9 L205.5 309.92 L206 309.94 L206.5 309.92 L207 309.86 L207.5 309.84 L208 309.9 L208.5 309.85 L209 309.96 L209.5 309.91 L210 309.93 L210.5 309.94 L211 309.93 L211.5 309.85 L212 309.85 L212.5 309.96 L213 309.95 L213.5 309.84 L214 309.87 L214.5 309.86 L215 309.87 L215.5 309.86 L216 309.95 L216.5 309.99 L217 309.93 L217.5 309.99 L218 309.81 L218.5 309.9 L219 309.87 L219.5 309.81 L220 309.84 L220.5 309.95 L221 309.93 L221.5 309.97 L222 309.83 L222.5 309.83 L223 309.87 L223.5 309.87 L224 309.85 L224.5 309.75 L225 309.63 L225.5 309.51 L226 309.43 L226.5 309.34 L227 309.36 L227.5 309.32 L228 309.34 L228.5 309.24 L229 309.46 L229.5 309.55 L230 309.62 L230.5 309.57 L231 309.66 L231.5 309.83 L232 309.76 L232.5 309.78 L233 309.89 L233.5 309.95 L234 309.84 L234.5 309.92 L235 309.98 L235.5 309.82 L236 309.91 L236.5 309.92 L237 309.88 L237.5 309.95 L238 310 L238.5 309.92 L239 309.92 L239.5 310 L240 309.93 L240.5 309.85 L241 309.93 L241.5 309.86 L242 309.88 L242.5 309.96 L243 310 L243.5 309.87 L244 309.88 L244.5 309.94 L245 309.96 L245.5 309.83 L246 309.82 L246.5 309.95 L247 309.88 L247.5 309.89 L248 309.94 L248.5 309.99 L249 309.93 L249.5 309.87 L250 309.88 L250.5 309.9 L251 309.98 L251.5 309.96 L252 309.94 L252.5 309.92 L253 309.93 L253.5 309.82 L254 309.98 L254.5 309.8 L255 309.95 L255.5 309.83 L256 309.95 L256.5 309.87 L257 309.91 L257.5 309.97 L258 309.81 L258.5 309.79 L259 309.88 L259.5 309.75 L260 309.78 L260.5 309.64 L261 309.78 L261.5 309.67 L262 309.65 L262.5 309.52 L263 309.44 L263.5 309.39 L264 309.42 L264.5 309.43 L265 309.34 L265.5 309.49 L266 309.48 L266.5 309.41 L267 309.51 L267.5 309.45 L268 309.68 L268.5 309.65 L269 309.75 L269.5 309.84 L270 309.86 L270.5 309.89 L271 309.86 L271.5 309.87 L272 309.87 L272.5 309.92 L273 309.85 L273.5 309.89 L274 309.8 L274.5 309.96 L275 309.9 L275.5 309.9 L276 309.92 L276.5 309.83 L277 309.96 L277.5 309.82 L278 309.93 L278.5 309.93 L279 309.88 L279.5 309.89 L280 309.94 L280.5 309.98 L281 309.8 L281.5 309.92 L282 309.97 L282.5 309.85 L283 309.87 L283.5 309.9 L284 309.89 L284.5 309.77 L285 309.85 L285.5 309.81 L286 309.67 L286.5 309.76 L287 309.7 L287.5 309.7 L288 309.54 L288.5 309.48 L289 309.45 L289.5 309.39 L290 309.35 L290.5 309.16 L291 309.15 L291.5 309.01 L292 309.04 L292.5 308.92 L293 309.03 L293.5 308.96 L294 308.81 L294.5 308.87 L295 308.9 L295.5 308.97 L296 309.02 L296.5 309.14 L297 309.21 L297.5 309.19 L298 309.25 L298.5 309.41 L299 309.4 L299.5 309.52 L300 309.36 L300.5 309.18 L301 308.56 L301.5 307.7 L302 306.57 L302.5 305.74 L303 305.29 L303.5 305.56 L304 306.33 L304.5 306.79 L305 306.55 L305.5 305.72 L306 304.67 L306.5 304.12 L307 304.43 L307.5 305.17 L308 305.62 L308.5 305.69 L309 305.97 L309.5 306.63 L310 307.77 L310.5 308.77 L311 309.33 L311.5 309.68 L312 309.83 L312.5 309.97 L313 309.88 L313.5 309.99 L314 309.81 L314.5 309.81 L315 309.85 L315.5 309.95 L316 309.83 L316.5 309.96 L317 309.83 L317.5 309.9 L318 310 L318.5 309.82 L319 309.91 L319.5 309.83 L320 309.86 L320.5 309.89 L321 309.83 L321.5 309.96 L322 309.82 L322.5 309.93 L323 309.99 L323.5 309.93 L324 309.99 L324.5 309.99 L325 309.88 L325.5 309.98 L326 309.97 L326.5 309.94 L327 309.94 L327.5 309.82 L328 309.82 L328.5 309.83 L329 309.8 L329.5 309.91 L330 309.84 L330.5 309.94 L331 309.81 L331.5 309.84 L332 309.85 L332.5 309.95 L333 309.98 L333.5 309.81 L334 309.89 L334.5 309.88 L335 309.83 L335.5 309.97 L336 309.86 L336.5 309.91 L337 309.84 L337.5 309.91 L338 309.96 L338.5 309.81 L339 309.94 L339.5 309.85 L340 309.83 L340.5 309.95 L341 309.86 L341.5 309.92 L342 309.96 L342.5 309.96 L343 309.81 L343.5 309.93 L344 309.9 L344.5 309.9 L345 309.99 L345.5 309.85 L346 309.85 L346.5 309.82 L347 309.93 L347.5 309.96 L348 309.93 L348.5 309.85 L349 309.87 L349.5 309.92 L350 309.9 L350.5 309.97 L351 309.82 L351.5 309.91 L352 309.9 L352 310 Z" fill="#7B70B8" stroke="none" stroke-width="0.8" />
<line x1="146.5" y1="322.1" x2="352" y2="322.1" stroke="#f2c48a" stroke-width="0.8" />
<path d="M146.5 322.1 L146.5 321.79 L147 322.02 L147.5 321.81 L148 321.96 L148.5 321.78 L149 322.06 L149.5 321.99 L150 321.85 L150.5 321.91 L151 321.95 L151.5 321.87 L152 322.01 L152.5 321.93 L153 322.1 L153.5 321.78 L154 322 L154.5 321.77 L155 321.88 L155.5 321.86 L156 321.85 L156.5 322.05 L157 321.79 L157.5 321.98 L158 321.75 L158.5 321.79 L159 321.83 L159.5 321.77 L160 321.93 L160.5 321.83 L161 321.72 L161.5 322.02 L162 322.06 L162.5 321.94 L163 321.9 L163.5 322.04 L164 322.01 L164.5 321.75 L165 321.94 L165.5 322.04 L166 322.03 L166.5 321.87 L167 322.02 L167.5 321.91 L168 321.88 L168.5 321.92 L169 321.9 L169.5 321.77 L170 322.09 L170.5 321.73 L171 322.02 L171.5 322.08 L172 321.79 L172.5 321.87 L173 321.88 L173.5 322.01 L174 321.79 L174.5 321.98 L175 321.81 L175.5 322.01 L176 321.87 L176.5 321.84 L177 321.95 L177.5 321.91 L178 322.07 L178.5 321.84 L179 321.82 L179.5 322.04 L180 321.88 L180.5 321.81 L181 322.06 L181.5 321.76 L182 321.75 L182.5 322.08 L183 322 L183.5 322.07 L184 322 L184.5 322.07 L185 321.9 L185.5 322 L186 321.98 L186.5 321.92 L187 321.95 L187.5 321.78 L188 321.81 L188.5 322.05 L189 322.01 L189.5 322.1 L190 321.97 L190.5 322.06 L191 321.82 L191.5 321.79 L192 321.7 L192.5 322.02 L193 322.09 L193.5 321.8 L194 321.94 L194.5 321.73 L195 321.94 L195.5 321.98 L196 322.07 L196.5 321.72 L197 321.9 L197.5 321.92 L198 321.93 L198.5 321.79 L199 321.77 L199.5 321.91 L200 322.03 L200.5 321.94 L201 321.74 L201.5 321.94 L202 321.84 L202.5 321.88 L203 321.92 L203.5 321.87 L204 322 L204.5 321.88 L205 321.75 L205.5 322.07 L206 321.95 L206.5 321.75 L207 321.71 L207.5 322.09 L208 321.85 L208.5 321.85 L209 321.76 L209.5 321.91 L210 322.05 L210.5 321.98 L211 321.81 L211.5 321.81 L212 322.02 L212.5 321.84 L213 321.84 L213.5 321.84 L214 322.09 L214.5 321.92 L215 321.97 L215.5 321.86 L216 321.96 L216.5 322.04 L217 321.81 L217.5 321.96 L218 321.74 L218.5 321.92 L219 321.8 L219.5 321.66 L220 321.9 L220.5 321.61 L221 321.83 L221.5 321.42 L222 321.73 L222.5 321.39 L223 321.47 L223.5 321.5 L224 321.37 L224.5 321.31 L225 321.33 L225.5 321.46 L226 321.32 L226.5 321.45 L227 321.23 L227.5 321.52 L228 321.56 L228.5 321.7 L229 321.47 L229.5 321.78 L230 321.69 L230.5 321.66 L231 321.86 L231.5 321.74 L232 321.95 L232.5 322.03 L233 322.07 L233.5 321.91 L234 321.74 L234.5 322.01 L235 321.92 L235.5 321.79 L236 321.99 L236.5 322.04 L237 321.89 L237.5 321.93 L238 321.72 L238.5 321.73 L239 321.99 L239.5 321.86 L240 321.91 L240.5 322.06 L241 321.88 L241.5 321.68 L242 321.91 L242.5 321.78 L243 321.71 L243.5 321.94 L244 321.57 L244.5 321.86 L245 321.75 L245.5 321.55 L246 321.79 L246.5 321.61 L247 321.67 L247.5 321.5 L248 321.65 L248.5 321.57 L249 321.53 L249.5 321.57 L250 321.56 L250.5 321.53 L251 321.41 L251.5 321.58 L252 321.33 L252.5 321.52 L253 321.62 L253.5 321.66 L254 321.46 L254.5 321.82 L255 321.57 L255.5 321.87 L256 321.56 L256.5 321.8 L257 321.75 L257.5 321.67 L258 321.99 L258.5 322.02 L259 321.78 L259.5 321.84 L260 321.79 L260.5 321.97 L261 321.89 L261.5 322.02 L262 321.92 L262.5 321.98 L263 321.86 L263.5 321.98 L264 321.99 L264.5 321.84 L265 322.07 L265.5 321.78 L266 321.9 L266.5 322.01 L267 322.05 L267.5 321.9 L268 321.9 L268.5 321.81 L269 321.95 L269.5 321.94 L270 321.74 L270.5 321.99 L271 321.71 L271.5 321.74 L272 321.7 L272.5 321.72 L273 322 L273.5 321.77 L274 321.86 L274.5 322.02 L275 321.7 L275.5 321.84 L276 321.78 L276.5 321.88 L277 322.07 L277.5 321.75 L278 322.03 L278.5 322 L279 321.85 L279.5 322.02 L280 321.91 L280.5 321.81 L281 322.06 L281.5 321.84 L282 322.06 L282.5 321.91 L283 321.84 L283.5 321.82 L284 322.08 L284.5 322.02 L285 321.71 L285.5 321.94 L286 321.93 L286.5 321.94 L287 321.81 L287.5 321.79 L288 321.82 L288.5 321.9 L289 321.82 L289.5 321.82 L290 321.93 L290.5 321.59 L291 321.54 L291.5 321.56 L292 321.41 L292.5 321.53 L293 321.29 L293.5 321.42 L294 321.09 L294.5 320.96 L295 320.72 L295.5 320.6 L296 320.41 L296.5 320.48 L297 320.11 L297.5 320.07 L298 319.98 L298.5 319.81 L299 319.49 L299.5 319.33 L300 319.18 L300.5 319.1 L301 319.12 L301.5 318.94 L302 318.57 L302.5 318.51 L303 318.27 L303.5 318.21 L304 318.1 L304.5 317.87 L305 318.14 L305.5 318.04 L306 318.47 L306.5 318.51 L307 318.98 L307.5 319.23 L308 319.37 L308.5 319.68 L309 319.65 L309.5 319.81 L310 320.12 L310.5 319.98 L311 320.42 L311.5 320.84 L312 320.73 L312.5 321.27 L313 321.48 L313.5 321.75 L314 321.85 L314.5 321.69 L315 321.8 L315.5 321.86 L316 321.98 L316.5 321.98 L317 321.71 L317.5 321.95 L318 321.7 L318.5 321.75 L319 322.05 L319.5 321.76 L320 322.09 L320.5 321.82 L321 321.78 L321.5 321.82 L322 321.88 L322.5 321.77 L323 322.04 L323.5 321.88 L324 321.99 L324.5 321.94 L325 322.02 L325.5 321.82 L326 321.87 L326.5 321.79 L327 321.85 L327.5 321.86 L328 321.73 L328.5 321.78 L329 321.87 L329.5 321.97 L330 321.73 L330.5 321.95 L331 322.06 L331.5 321.97 L332 321.82 L332.5 321.73 L333 321.84 L333.5 321.83 L334 321.73 L334.5 321.79 L335 321.92 L335.5 321.92 L336 321.8 L336.5 321.97 L337 322.06 L337.5 321.85 L338 321.78 L338.5 322 L339 321.83 L339.5 321.74 L340 322.05 L340.5 322.05 L341 321.9 L341.5 321.97 L342 321.72 L342.5 321.7 L343 321.92 L343.5 321.78 L344 321.85 L344.5 322.03 L345 321.71 L345.5 322.03 L346 322.07 L346.5 321.92 L347 322.09 L347.5 321.91 L348 321.94 L348.5 321.72 L349 321.93 L349.5 321.76 L350 321.79 L350.5 321.87 L351 322 L351.5 321.98 L352 321.9 L352 322.1 Z" fill="#E8A035" stroke="none" stroke-width="0.8" />
<line x1="146.5" y1="332.9" x2="352" y2="332.9" stroke="#1D4A85" stroke-width="0.8" />
<path d="M146.5 332.9 L146.5 332.51 L147 332.54 L147.5 332.46 L148 332.49 L148.5 332.43 L149 332.46 L149.5 332.54 L150 332.31 L150.5 332.57 L151 332.38 L151.5 332.58 L152 332.55 L152.5 332.45 L153 332.61 L153.5 332.46 L154 332.22 L154.5 332.22 L155 332.32 L155.5 332.43 L156 332.37 L156.5 332.51 L157 332.38 L157.5 332.65 L158 332.61 L158.5 332.53 L159 332.6 L159.5 332.42 L160 332.36 L160.5 332.3 L161 332.17 L161.5 332.29 L162 332.42 L162.5 332.43 L163 332.26 L163.5 332.2 L164 332.38 L164.5 332.21 L165 332.23 L165.5 332.44 L166 332.46 L166.5 332.54 L167 332.37 L167.5 332.34 L168 332.28 L168.5 332.39 L169 332.01 L169.5 332.07 L170 332.09 L170.5 332.01 L171 332.14 L171.5 332.25 L172 332.26 L172.5 332.46 L173 332.27 L173.5 332.28 L174 332.18 L174.5 332.23 L175 332.45 L175.5 332.46 L176 332.63 L176.5 332.51 L177 332.31 L177.5 332.17 L178 332.2 L178.5 332.15 L179 332.12 L179.5 331.98 L180 331.95 L180.5 332.28 L181 332.15 L181.5 332.34 L182 332.16 L182.5 332.06 L183 331.94 L183.5 332.16 L184 332.26 L184.5 332.26 L185 332.48 L185.5 332.37 L186 332.66 L186.5 332.63 L187 332.69 L187.5 332.56 L188 332.31 L188.5 332.35 L189 332.48 L189.5 332.51 L190 332.5 L190.5 332.65 L191 332.57 L191.5 332.28 L192 332.11 L192.5 332.06 L193 331.96 L193.5 332.04 L194 331.94 L194.5 332.01 L195 331.62 L195.5 331.49 L196 331.69 L196.5 332.16 L197 332.22 L197.5 332.04 L198 332.38 L198.5 332.29 L199 332.23 L199.5 332.13 L200 331.81 L200.5 331.71 L201 332.17 L201.5 332.45 L202 332.22 L202.5 332.23 L203 332.11 L203.5 332.45 L204 332.47 L204.5 332.23 L205 332.09 L205.5 331.94 L206 332.12 L206.5 332.37 L207 332.39 L207.5 332.46 L208 332.18 L208.5 332.14 L209 332.36 L209.5 332.31 L210 332.25 L210.5 332.05 L211 331.98 L211.5 332.08 L212 331.97 L212.5 331.89 L213 331.69 L213.5 331.65 L214 331.48 L214.5 331.15 L215 330.44 L215.5 329.93 L216 329.54 L216.5 329.05 L217 327.95 L217.5 327.03 L218 327.64 L218.5 328.63 L219 329.64 L219.5 330.14 L220 330.55 L220.5 330.99 L221 331.33 L221.5 331.8 L222 331.73 L222.5 331.68 L223 331.82 L223.5 331.75 L224 331.72 L224.5 331.75 L225 331.49 L225.5 331.05 L226 330.72 L226.5 331.05 L227 331.14 L227.5 331.31 L228 331.09 L228.5 330.67 L229 330.79 L229.5 331.42 L230 331.82 L230.5 331.74 L231 331.13 L231.5 330.78 L232 330.42 L232.5 329.36 L233 329.02 L233.5 329.49 L234 329.94 L234.5 330.16 L235 330.06 L235.5 330.22 L236 330.44 L236.5 330.55 L237 330.62 L237.5 330.75 L238 330.81 L238.5 331.4 L239 331.65 L239.5 331.58 L240 331.56 L240.5 331.4 L241 330.89 L241.5 329.94 L242 329.45 L242.5 329.35 L243 329.6 L243.5 329.66 L244 329.55 L244.5 329.62 L245 329.6 L245.5 329.62 L246 329.62 L246.5 330.04 L247 330.31 L247.5 330.76 L248 331.2 L248.5 331.45 L249 330.71 L249.5 329.89 L250 329.26 L250.5 328.66 L251 328.68 L251.5 329.17 L252 329.91 L252.5 330.51 L253 330.44 L253.5 329.86 L254 329.54 L254.5 329.39 L255 329.49 L255.5 330.09 L256 330.3 L256.5 330.38 L257 330.05 L257.5 330.16 L258 330.24 L258.5 330.47 L259 330.49 L259.5 329.57 L260 329.36 L260.5 329.47 L261 329.91 L261.5 329.74 L262 329.28 L262.5 329.04 L263 328.61 L263.5 328.85 L264 329.11 L264.5 329.5 L265 329.88 L265.5 329.91 L266 329.76 L266.5 330.16 L267 330.9 L267.5 330.9 L268 330.36 L268.5 329.99 L269 330.21 L269.5 330.41 L270 329.99 L270.5 329.42 L271 329.52 L271.5 329.65 L272 329.97 L272.5 330.31 L273 330.09 L273.5 330.17 L274 330.5 L274.5 330.26 L275 330.34 L275.5 329.96 L276 329.09 L276.5 329.31 L277 330.4 L277.5 331.16 L278 331.01 L278.5 330.65 L279 330.71 L279.5 331.39 L280 331.81 L280.5 331.97 L281 331.81 L281.5 332.02 L282 332.34 L282.5 332.51 L283 332.21 L283.5 332.1 L284 331.97 L284.5 331.77 L285 331.44 L285.5 331.22 L286 331.13 L286.5 331.27 L287 331.24 L287.5 331.34 L288 331.13 L288.5 331.11 L289 331.4 L289.5 331.94 L290 332.2 L290.5 331.94 L291 331.89 L291.5 331.91 L292 331.92 L292.5 331.77 L293 331.44 L293.5 331.35 L294 331.26 L294.5 331.13 L295 330.97 L295.5 331.17 L296 331.36 L296.5 331.35 L297 331.51 L297.5 331.58 L298 331.82 L298.5 331.73 L299 331.56 L299.5 331.42 L300 331.28 L300.5 331.41 L301 331.35 L301.5 331.59 L302 331.65 L302.5 331.55 L303 331.68 L303.5 331.54 L304 331.07 L304.5 330.27 L305 329.74 L305.5 329.24 L306 328.37 L306.5 327.06 L307 325.9 L307.5 325.9 L308 325.9 L308.5 325.9 L309 327.44 L309.5 329.07 L310 330.13 L310.5 330.8 L311 330.61 L311.5 330.68 L312 330.99 L312.5 331.15 L313 331.49 L313.5 331.93 L314 332.3 L314.5 332.14 L315 331.77 L315.5 331.27 L316 331.1 L316.5 330.8 L317 331.1 L317.5 331.26 L318 331.19 L318.5 331.15 L319 331.05 L319.5 331.23 L320 331.1 L320.5 330.92 L321 330.02 L321.5 329.08 L322 329.24 L322.5 329.78 L323 330.08 L323.5 330.15 L324 330.31 L324.5 330.18 L325 329.58 L325.5 329.21 L326 329.82 L326.5 330.7 L327 331.01 L327.5 331.17 L328 331.02 L328.5 330.85 L329 330.64 L329.5 330.58 L330 330.31 L330.5 330.27 L331 330.01 L331.5 329.73 L332 329.42 L332.5 329.5 L333 329.97 L333.5 330.37 L334 330.91 L334.5 331.44 L335 331.77 L335.5 331.8 L336 331.68 L336.5 331.42 L337 331.34 L337.5 331.43 L338 331.24 L338.5 331.12 L339 331.1 L339.5 330.92 L340 330.84 L340.5 330.83 L341 330.87 L341.5 331.07 L342 331.4 L342.5 331.3 L343 330.76 L343.5 330.47 L344 330.24 L344.5 330.41 L345 330.34 L345.5 330.52 L346 331.15 L346.5 331.55 L347 331.5 L347.5 331.21 L348 331.03 L348.5 330.63 L349 330.95 L349.5 331.14 L350 331.45 L350.5 331.66 L351 331.72 L351.5 331.71 L352 332.04 L352 332.9 Z" fill="#1D4A85" stroke="none" stroke-width="0.8" />
<line x1="146.5" y1="344.5" x2="352" y2="344.5" stroke="#1D4A85" stroke-width="0.8" />
<path d="M146.5 344.5 L146.5 343.59 L147 343.28 L147.5 343.22 L148 343.06 L148.5 343.14 L149 343.12 L149.5 343.29 L150 343.59 L150.5 343.7 L151 344.07 L151.5 344.06 L152 343.87 L152.5 343.98 L153 344.02 L153.5 343.86 L154 344.02 L154.5 344.05 L155 344.14 L155.5 344.15 L156 344.15 L156.5 343.86 L157 343.65 L157.5 343.76 L158 344.03 L158.5 344.05 L159 344.18 L159.5 344.12 L160 343.87 L160.5 343.91 L161 343.84 L161.5 344.01 L162 343.96 L162.5 343.93 L163 343.91 L163.5 343.93 L164 343.98 L164.5 344.14 L165 344.16 L165.5 344.06 L166 344.03 L166.5 344.14 L167 344.15 L167.5 343.96 L168 343.96 L168.5 344.02 L169 344.05 L169.5 343.92 L170 343.73 L170.5 343.86 L171 343.79 L171.5 343.68 L172 343.76 L172.5 343.95 L173 343.91 L173.5 344.01 L174 343.86 L174.5 343.97 L175 344.17 L175.5 344.1 L176 344.1 L176.5 344.08 L177 344.04 L177.5 343.93 L178 343.81 L178.5 343.6 L179 343.85 L179.5 343.88 L180 343.98 L180.5 344.15 L181 344.14 L181.5 344.18 L182 344.08 L182.5 344.04 L183 344.03 L183.5 343.83 L184 344.01 L184.5 344.01 L185 343.96 L185.5 344.08 L186 344.09 L186.5 344.05 L187 344.15 L187.5 343.87 L188 344.01 L188.5 344.02 L189 343.89 L189.5 343.8 L190 343.72 L190.5 343.59 L191 343.38 L191.5 343.64 L192 343.79 L192.5 344.09 L193 344.03 L193.5 343.85 L194 343.81 L194.5 343.61 L195 343.4 L195.5 343.38 L196 343.8 L196.5 343.68 L197 343.72 L197.5 343.61 L198 343.51 L198.5 343.19 L199 343.05 L199.5 343.34 L200 343.54 L200.5 343.69 L201 343.79 L201.5 343.67 L202 343.6 L202.5 343.51 L203 343.61 L203.5 343.69 L204 343.91 L204.5 343.81 L205 343.93 L205.5 344.02 L206 343.78 L206.5 343.84 L207 344.15 L207.5 343.91 L208 343.8 L208.5 343.57 L209 343.53 L209.5 343.63 L210 343.91 L210.5 344 L211 343.89 L211.5 343.43 L212 342.76 L212.5 341.95 L213 341.12 L213.5 341.01 L214 341.13 L214.5 341.56 L215 341.98 L215.5 342.43 L216 342.31 L216.5 342.14 L217 342.36 L217.5 342.34 L218 341.88 L218.5 340.96 L219 340.03 L219.5 339.06 L220 338.82 L220.5 339.17 L221 339.84 L221.5 340.83 L222 341.31 L222.5 341.42 L223 341.83 L223.5 342.12 L224 342.81 L224.5 342.8 L225 342.48 L225.5 342.25 L226 342.5 L226.5 342.98 L227 343.03 L227.5 343.17 L228 343.26 L228.5 343.43 L229 343.18 L229.5 343.28 L230 343.2 L230.5 343 L231 342.9 L231.5 343.09 L232 343.29 L232.5 343.22 L233 343 L233.5 342.27 L234 342.15 L234.5 341.92 L235 342.13 L235.5 341.95 L236 341.31 L236.5 340.92 L237 340.53 L237.5 340.46 L238 340.79 L238.5 341.3 L239 341.72 L239.5 342.17 L240 342.15 L240.5 341.82 L241 341.44 L241.5 341.25 L242 341.09 L242.5 340.59 L243 340.14 L243.5 339.82 L244 340.45 L244.5 340.8 L245 341.27 L245.5 341.07 L246 341.08 L246.5 341.14 L247 341.02 L247.5 341.01 L248 340.73 L248.5 340.74 L249 340.81 L249.5 341.17 L250 341.89 L250.5 342.53 L251 342.99 L251.5 342.86 L252 342.25 L252.5 341.76 L253 341.91 L253.5 342.17 L254 342.64 L254.5 342.88 L255 343.07 L255.5 343.11 L256 343.22 L256.5 342.89 L257 342.21 L257.5 342.09 L258 342.33 L258.5 342.37 L259 342.29 L259.5 342.17 L260 342.01 L260.5 342.19 L261 342.63 L261.5 342.46 L262 342.24 L262.5 341.62 L263 341.9 L263.5 342.37 L264 342.88 L264.5 343.18 L265 342.7 L265.5 342.52 L266 342.95 L266.5 342.95 L267 342.77 L267.5 342.44 L268 342.79 L268.5 343.14 L269 343 L269.5 342.46 L270 342.44 L270.5 342.45 L271 341.48 L271.5 341.18 L272 342.07 L272.5 342.44 L273 342.28 L273.5 342.21 L274 342.5 L274.5 342.79 L275 342.82 L275.5 342.85 L276 342.59 L276.5 341.74 L277 340.93 L277.5 341.01 L278 341.64 L278.5 341.75 L279 341.68 L279.5 341.61 L280 341.95 L280.5 342.35 L281 342.89 L281.5 343.33 L282 343.55 L282.5 343.71 L283 343.59 L283.5 343.62 L284 343.78 L284.5 343.76 L285 343.6 L285.5 343.56 L286 343.38 L286.5 343.4 L287 343.03 L287.5 342.9 L288 342.9 L288.5 343.09 L289 343.33 L289.5 343.51 L290 343.29 L290.5 343.26 L291 343.24 L291.5 343.15 L292 343.35 L292.5 343.41 L293 343.66 L293.5 343.7 L294 343.79 L294.5 344.05 L295 343.92 L295.5 343.54 L296 343.65 L296.5 343.7 L297 343.93 L297.5 343.8 L298 343.36 L298.5 343.31 L299 343.15 L299.5 343.07 L300 343.14 L300.5 342.99 L301 343.36 L301.5 343.46 L302 343.66 L302.5 343.32 L303 343.07 L303.5 343.26 L304 343.07 L304.5 342.93 L305 342.68 L305.5 342.62 L306 342.67 L306.5 342.29 L307 341.73 L307.5 341.12 L308 340.84 L308.5 341.06 L309 341.28 L309.5 342.1 L310 342.62 L310.5 342.85 L311 342.81 L311.5 342.97 L312 342.96 L312.5 342.85 L313 343.54 L313.5 343.79 L314 344.11 L314.5 343.7 L315 343.13 L315.5 342.94 L316 343.09 L316.5 343.14 L317 342.84 L317.5 342.48 L318 341.98 L318.5 341.36 L319 340.43 L319.5 339.73 L320 339.9 L320.5 340.26 L321 340.76 L321.5 341.51 L322 341.6 L322.5 341.7 L323 342.35 L323.5 343.33 L324 343.34 L324.5 343.32 L325 342.82 L325.5 342.62 L326 342.34 L326.5 342.24 L327 342.03 L327.5 342.04 L328 342.03 L328.5 342.51 L329 342.43 L329.5 342.34 L330 342.55 L330.5 343.35 L331 343.48 L331.5 343.06 L332 342.66 L332.5 342.74 L333 342.63 L333.5 342.72 L334 342.81 L334.5 342.77 L335 342.77 L335.5 342.62 L336 342.41 L336.5 342.72 L337 342.97 L337.5 343.07 L338 343.14 L338.5 343.04 L339 343.12 L339.5 342.98 L340 342.85 L340.5 342.54 L341 343.1 L341.5 343.35 L342 343.29 L342.5 343.06 L343 342.83 L343.5 342.86 L344 342.73 L344.5 342.37 L345 342.32 L345.5 341.95 L346 342.1 L346.5 341.99 L347 341.8 L347.5 341.55 L348 341.85 L348.5 342.1 L349 342.14 L349.5 342.08 L350 342.3 L350.5 342.74 L351 343.48 L351.5 343.79 L352 344.19 L352 344.5 Z" fill="#1D4A85" stroke="none" stroke-width="0.8" />
<path d="M146.5 350.86 L147.5 350.92 L148.5 350.49 L149.5 351.06 L150.5 350.78 L151.5 350.41 L152.5 350.54 L153.5 351.97 L154.5 351.59 L155.5 352.07 L156.5 351.77 L157.5 351.63 L158.5 350.71 L159.5 350.5 L160.5 352.07 L161.5 351.53 L162.5 351.6 L163.5 350.56 L164.5 351.73 L165.5 351.26 L166.5 350.46 L167.5 350.68 L168.5 352.04 L169.5 351.42 L170.5 350.46 L171.5 350.45 L172.5 351.65 L173.5 350.93 L174.5 351.16 L175.5 350.55 L176.5 350.62 L177.5 351.2 L178.5 351.07 L179.5 350.63 L180.5 350.57 L181.5 351.1 L182.5 350.5 L183.5 350.41 L184.5 351.15 L185.5 350.39 L186.5 351.62 L187.5 351.68 L188.5 351.57 L189.5 352.01 L190.5 350.6 L191.5 351.06 L192.5 351.05 L193.5 350.43 L194.5 351.85 L195.5 350.37 L196.5 352.07 L197.5 351.52 L198.5 352.07 L199.5 350.41 L200.5 351.91 L201.5 352.03 L202.5 351.7 L203.5 351.34 L204.5 351.47 L205.5 351.17 L206.5 351.84 L207.5 351.34 L208.5 351.29 L209.5 351.03 L210.5 351.43 L211.5 351.36 L212.5 351.99 L213.5 351.69 L214.5 350.89 L215.5 351.6 L216.5 350.72 L217.5 351.17 L218.5 351.25 L219.5 351.61 L220.5 350.43 L221.5 350.56 L222.5 350.63 L223.5 351.42 L224.5 350.61 L225.5 351.31 L226.5 351.89 L227.5 351.07 L228.5 350.7 L229.5 351.37 L230.5 351.04 L231.5 351.09 L232.5 350.62 L233.5 351.53 L234.5 350.92 L235.5 352.07 L236.5 351.19 L237.5 351.53 L238.5 351.96 L239.5 352.07 L240.5 350.34 L241.5 351.97 L242.5 350.49 L243.5 352.01 L244.5 351.72 L245.5 350.76 L246.5 351.59 L247.5 351.31 L248.5 351.11 L249.5 351.43 L250.5 351.12 L251.5 351.48 L252.5 351.55 L253.5 350.31 L254.5 351.45 L255.5 351.57 L256.5 351.86 L257.5 351.26 L258.5 351.27 L259.5 350.56 L260.5 350.65 L261.5 351.91 L262.5 350.41 L263.5 351.92 L264.5 350.52 L265.5 350.99 L266.5 351.42 L267.5 350.35 L268.5 351.1 L269.5 351.74 L270.5 350.99 L271.5 350.62 L272.5 350.41 L273.5 352.01 L274.5 350.49 L275.5 351.51 L276.5 351.45 L277.5 350.8 L278.5 351.3 L279.5 351.53 L280.5 350.67 L281.5 350.74 L282.5 351.96 L283.5 350.67 L284.5 351.18 L285.5 351.12 L286.5 351.7 L287.5 351.84 L288.5 351.67 L289.5 351.43 L290.5 351.27 L291.5 350.46 L292.5 351.33 L293.5 351.08 L294.5 351.66 L295.5 350.98 L296.5 350.52 L297.5 350.99 L298.5 351.8 L299.5 351.19 L300.5 351.5 L301.5 350.4 L302.5 350.7 L303.5 350.78 L304.5 351.2 L305.5 350.64 L306.5 352.31 L307.5 351.37 L308.5 350.77 L309.5 351.03 L310.5 351.33 L311.5 351.44 L312.5 351.77 L313.5 350.46 L314.5 352.05 L315.5 351.84 L316.5 351.23 L317.5 351.46 L318.5 350.85 L319.5 350.57 L320.5 350.32 L321.5 352.03 L322.5 351.9 L323.5 351.1 L324.5 351.38 L325.5 351.16 L326.5 351.54 L327.5 350.48 L328.5 351.66 L329.5 350.62 L330.5 351.36 L331.5 351.42 L332.5 351.83 L333.5 351.41 L334.5 350.62 L335.5 351.77 L336.5 350.97 L337.5 351.31 L338.5 351.74 L339.5 352.06 L340.5 350.49 L341.5 351.12 L342.5 350.87 L343.5 351.82 L344.5 351.02 L345.5 351.94 L346.5 351.73 L347.5 351.05 L348.5 351.67 L349.5 351.52 L350.5 350.51 L351.5 350.83" fill="none" stroke="#111" stroke-width="0.8" stroke-dasharray="1.4,0.7"/>
<path d="M305.5 351.3 L310.5 351.3 L308 357.2 Z" fill="#111" stroke="none" stroke-width="0.8" />
<line x1="144.8" y1="300.5" x2="144.8" y2="357.3" stroke="#1a1a1a" stroke-width="1" />
<line x1="142.2" y1="302" x2="144.8" y2="302" stroke="#1a1a1a" stroke-width="0.8" />
<text x="138.9" y="304.23" font-size="6.2" text-anchor="end" fill="#222" stroke="#222" stroke-width="0.1">0.5</text>
<line x1="142.2" y1="313" x2="144.8" y2="313" stroke="#1a1a1a" stroke-width="0.8" />
<text x="138.9" y="315.23" font-size="6.2" text-anchor="end" fill="#222" stroke="#222" stroke-width="0.1">0.1</text>
<line x1="142.2" y1="324.3" x2="144.8" y2="324.3" stroke="#1a1a1a" stroke-width="0.8" />
<text x="138.9" y="326.53" font-size="6.2" text-anchor="end" fill="#222" stroke="#222" stroke-width="0.1">0.15</text>
<line x1="142.2" y1="335" x2="144.8" y2="335" stroke="#1a1a1a" stroke-width="0.8" />
<text x="138.9" y="337.23" font-size="6.2" text-anchor="end" fill="#222" stroke="#222" stroke-width="0.1">0.15</text>
<line x1="142.2" y1="346.3" x2="144.8" y2="346.3" stroke="#1a1a1a" stroke-width="0.8" />
<text x="138.9" y="348.53" font-size="6.2" text-anchor="end" fill="#222" stroke="#222" stroke-width="0.1">0.06</text>
<line x1="142.2" y1="355.5" x2="144.8" y2="355.5" stroke="#1a1a1a" stroke-width="0.8" />
<text x="138.9" y="357.73" font-size="6.2" text-anchor="end" fill="#222" stroke="#222" stroke-width="0.1">-0.06</text>
<text x="148.6" y="304.3" font-size="5" text-anchor="start" fill="#3a3a3a" stroke="#3a3a3a" stroke-width="0.1">SAMD1</text>
<text x="151.2" y="316" font-size="5" text-anchor="start" fill="#3a3a3a" stroke="#3a3a3a" stroke-width="0.1">LSD1</text>
<text x="146.6" y="326.2" font-size="5" text-anchor="start" fill="#3a3a3a" stroke="#3a3a3a" stroke-width="0.1">H3K4me2</text>
<text x="146.6" y="338.6" font-size="5" text-anchor="start" fill="#3a3a3a" stroke="#3a3a3a" stroke-width="0.1">H3K4me2</text>
<text x="146.6" y="350.4" font-size="5" text-anchor="start" fill="#3a3a3a" stroke="#3a3a3a" stroke-width="0.1">H3K4me2</text>
<rect x="305.3" y="323.8" width="6.7" height="35.3" fill="rgba(200,60,100,0.10)" stroke="#C4304A" stroke-width="0.65" />
<text x="327.7" y="303.2" font-size="5" text-anchor="start" fill="#333" stroke="#333" stroke-width="0.08">sgControl</text>
<text x="327.7" y="315.2" font-size="5" text-anchor="start" fill="#333" stroke="#333" stroke-width="0.08">sgControl</text>
<text x="327.7" y="326.7" font-size="5" text-anchor="start" fill="#333" stroke="#333" stroke-width="0.08">sgControl</text>
<text x="327.7" y="338.7" font-size="5" text-anchor="start" fill="#333" stroke="#333" stroke-width="0.08">sg<tspan font-style="italic">SAMD1</tspan></text>
<text x="294.2" y="350.3" font-size="5" text-anchor="start" fill="#333" stroke="#333" stroke-width="0.08">Δ (sg<tspan font-style="italic">SAMD1</tspan> - sgControl)</text>
<line x1="324.2" y1="296.5" x2="353.1" y2="296.5" stroke="#222" stroke-width="0.75" />
<text x="338.65" y="294.6" font-size="5" text-anchor="middle" fill="#222" stroke="#222" stroke-width="0.08">2.5kb</text>
<line x1="146" y1="361.9" x2="303.5" y2="361.9" stroke="#444" stroke-width="0.5" stroke-dasharray="1.6,0.8"/>
<rect x="146" y="361" width="14" height="1.8" fill="#111" stroke="none" stroke-width="0.8" />
<rect x="158.5" y="360.2" width="7" height="3.4" fill="#111" stroke="none" stroke-width="0.8" />
<rect x="209.4" y="360.4" width="1.4" height="3" fill="#111" stroke="none" stroke-width="0.8" />
<rect x="225.8" y="360.2" width="5.6" height="3.4" fill="#111" stroke="none" stroke-width="0.8" />
<rect x="269.9" y="360.9" width="1.8" height="2" fill="#111" stroke="none" stroke-width="0.8" />
<rect x="302.8" y="360.9" width="1.5" height="2" fill="#111" stroke="none" stroke-width="0.8" />
<text x="247" y="371.1" font-size="6.4" text-anchor="middle" fill="#333" stroke="#333" stroke-width="0.06"><tspan font-style="italic">TAL1</tspan></text>
<line x1="404.2" y1="43.4" x2="404.2" y2="105.1" stroke="#1a1a1a" stroke-width="1" />
<line x1="401.9" y1="43.9" x2="404.2" y2="43.9" stroke="#1a1a1a" stroke-width="0.8" />
<text x="398.9" y="46.1" font-size="6.1" text-anchor="end" fill="#2a2a2a" stroke="#2a2a2a" stroke-width="0.12">0.04</text>
<line x1="401.9" y1="59.2" x2="404.2" y2="59.2" stroke="#1a1a1a" stroke-width="0.8" />
<text x="398.9" y="61.4" font-size="6.1" text-anchor="end" fill="#2a2a2a" stroke="#2a2a2a" stroke-width="0.12">0.03</text>
<line x1="401.9" y1="74.5" x2="404.2" y2="74.5" stroke="#1a1a1a" stroke-width="0.8" />
<text x="398.9" y="76.7" font-size="6.1" text-anchor="end" fill="#2a2a2a" stroke="#2a2a2a" stroke-width="0.12">0.02</text>
<line x1="401.9" y1="89.8" x2="404.2" y2="89.8" stroke="#1a1a1a" stroke-width="0.8" />
<text x="398.9" y="92" font-size="6.1" text-anchor="end" fill="#2a2a2a" stroke="#2a2a2a" stroke-width="0.12">0.01</text>
<line x1="401.9" y1="105.1" x2="404.2" y2="105.1" stroke="#1a1a1a" stroke-width="0.8" />
<text x="398.9" y="107.3" font-size="6.1" text-anchor="end" fill="#2a2a2a" stroke="#2a2a2a" stroke-width="0.12">0.00</text>
<line x1="404.2" y1="105.1" x2="433.8" y2="105.1" stroke="#1a1a1a" stroke-width="1" />
<line x1="413.4" y1="105.1" x2="413.4" y2="107.3" stroke="#1a1a1a" stroke-width="0.8" />
<line x1="425.6" y1="105.1" x2="425.6" y2="107.3" stroke="#1a1a1a" stroke-width="0.8" />
<line x1="413.4" y1="50.2" x2="425.6" y2="67.6" stroke="#454550" stroke-width="1" />
<line x1="413.4" y1="50.6" x2="425.6" y2="79" stroke="#454550" stroke-width="1" />
<text x="419.6" y="25.41" font-size="7.8" text-anchor="middle" fill="#1a1a1a" stroke="#1a1a1a" stroke-width="0.22"><tspan font-style="italic">GATA2</tspan></text>
<text x="419.6" y="35.37" font-size="7.7" text-anchor="middle" fill="#1a1a1a" stroke="#1a1a1a" stroke-width="0.22">Promoter</text>
<text transform="translate(379.4,73.2) rotate(-90)" x="0" y="2.34" font-size="6.5" text-anchor="middle" fill="#222" textLength="45" lengthAdjust="spacingAndGlyphs" stroke="#222" stroke-width="0.3">Normalized scores</text>
<text transform="translate(414.4,112.9) rotate(-60)" x="0" y="2.16" font-size="6" text-anchor="end" fill="#1a1a1a" stroke="#1a1a1a" stroke-width="0.1">sgControl</text>
<text transform="translate(426.6,112.9) rotate(-60)" x="0" y="2.16" font-size="6" text-anchor="end" fill="#1a1a1a" stroke="#1a1a1a" stroke-width="0.1">sg<tspan font-style="italic">SAMD1</tspan></text>
<line x1="474.6" y1="43.4" x2="474.6" y2="105.2" stroke="#1a1a1a" stroke-width="1" />
<line x1="472.3" y1="43.9" x2="474.6" y2="43.9" stroke="#1a1a1a" stroke-width="0.8" />
<text x="469.3" y="46.1" font-size="6.1" text-anchor="end" fill="#2a2a2a" stroke="#2a2a2a" stroke-width="0.12">0.10</text>
<line x1="472.3" y1="56.16" x2="474.6" y2="56.16" stroke="#1a1a1a" stroke-width="0.8" />
<text x="469.3" y="58.36" font-size="6.1" text-anchor="end" fill="#2a2a2a" stroke="#2a2a2a" stroke-width="0.12">0.08</text>
<line x1="472.3" y1="68.42" x2="474.6" y2="68.42" stroke="#1a1a1a" stroke-width="0.8" />
<text x="469.3" y="70.62" font-size="6.1" text-anchor="end" fill="#2a2a2a" stroke="#2a2a2a" stroke-width="0.12">0.06</text>
<line x1="472.3" y1="80.68" x2="474.6" y2="80.68" stroke="#1a1a1a" stroke-width="0.8" />
<text x="469.3" y="82.88" font-size="6.1" text-anchor="end" fill="#2a2a2a" stroke="#2a2a2a" stroke-width="0.12">0.04</text>
<line x1="472.3" y1="92.94" x2="474.6" y2="92.94" stroke="#1a1a1a" stroke-width="0.8" />
<text x="469.3" y="95.14" font-size="6.1" text-anchor="end" fill="#2a2a2a" stroke="#2a2a2a" stroke-width="0.12">0.02</text>
<line x1="472.3" y1="105.2" x2="474.6" y2="105.2" stroke="#1a1a1a" stroke-width="0.8" />
<text x="469.3" y="107.4" font-size="6.1" text-anchor="end" fill="#2a2a2a" stroke="#2a2a2a" stroke-width="0.12">0.00</text>
<line x1="474.6" y1="105.2" x2="503.8" y2="105.2" stroke="#1a1a1a" stroke-width="1" />
<line x1="483.5" y1="105.2" x2="483.5" y2="107.4" stroke="#1a1a1a" stroke-width="0.8" />
<line x1="495.3" y1="105.2" x2="495.3" y2="107.4" stroke="#1a1a1a" stroke-width="0.8" />
<line x1="483.5" y1="50.8" x2="495.3" y2="65.7" stroke="#454550" stroke-width="1" />
<line x1="483.5" y1="66.7" x2="495.3" y2="83.5" stroke="#454550" stroke-width="1" />
<text x="489.8" y="25.61" font-size="7.8" text-anchor="middle" fill="#1a1a1a" stroke="#1a1a1a" stroke-width="0.22"><tspan font-style="italic">GATA2</tspan> −77kb</text>
<text x="489.8" y="35.67" font-size="7.7" text-anchor="middle" fill="#1a1a1a" stroke="#1a1a1a" stroke-width="0.22">Enhancer</text>
<text transform="translate(448.7,73.25) rotate(-90)" x="0" y="2.34" font-size="6.5" text-anchor="middle" fill="#222" textLength="45" lengthAdjust="spacingAndGlyphs" stroke="#222" stroke-width="0.3">Normalized scores</text>
<line x1="482" y1="49.2" x2="496.5" y2="49.2" stroke="#1a1a1a" stroke-width="0.8" />
<text x="489.25" y="48.7" font-size="6.4" text-anchor="middle" fill="#1a1a1a" font-weight="bold">*</text>
<text transform="translate(484.5,113) rotate(-60)" x="0" y="2.16" font-size="6" text-anchor="end" fill="#1a1a1a" stroke="#1a1a1a" stroke-width="0.1">sgControl</text>
<text transform="translate(496.3,113) rotate(-60)" x="0" y="2.16" font-size="6" text-anchor="end" fill="#1a1a1a" stroke="#1a1a1a" stroke-width="0.1">sg<tspan font-style="italic">SAMD1</tspan></text>
<line x1="404.5" y1="172.4" x2="404.5" y2="233.6" stroke="#1a1a1a" stroke-width="1" />
<line x1="402.2" y1="172.9" x2="404.5" y2="172.9" stroke="#1a1a1a" stroke-width="0.8" />
<text x="399.2" y="175.1" font-size="6.1" text-anchor="end" fill="#2a2a2a" stroke="#2a2a2a" stroke-width="0.12">0.08</text>
<line x1="402.2" y1="188.07" x2="404.5" y2="188.07" stroke="#1a1a1a" stroke-width="0.8" />
<text x="399.2" y="190.27" font-size="6.1" text-anchor="end" fill="#2a2a2a" stroke="#2a2a2a" stroke-width="0.12">0.06</text>
<line x1="402.2" y1="203.25" x2="404.5" y2="203.25" stroke="#1a1a1a" stroke-width="0.8" />
<text x="399.2" y="205.45" font-size="6.1" text-anchor="end" fill="#2a2a2a" stroke="#2a2a2a" stroke-width="0.12">0.04</text>
<line x1="402.2" y1="218.43" x2="404.5" y2="218.43" stroke="#1a1a1a" stroke-width="0.8" />
<text x="399.2" y="220.62" font-size="6.1" text-anchor="end" fill="#2a2a2a" stroke="#2a2a2a" stroke-width="0.12">0.02</text>
<line x1="402.2" y1="233.6" x2="404.5" y2="233.6" stroke="#1a1a1a" stroke-width="0.8" />
<text x="399.2" y="235.8" font-size="6.1" text-anchor="end" fill="#2a2a2a" stroke="#2a2a2a" stroke-width="0.12">0.00</text>
<line x1="404.5" y1="233.6" x2="434.4" y2="233.6" stroke="#1a1a1a" stroke-width="1" />
<line x1="413.7" y1="233.6" x2="413.7" y2="235.8" stroke="#1a1a1a" stroke-width="0.8" />
<line x1="425.5" y1="233.6" x2="425.5" y2="235.8" stroke="#1a1a1a" stroke-width="0.8" />
<line x1="413.7" y1="185.5" x2="425.5" y2="197.6" stroke="#454550" stroke-width="1" />
<line x1="413.7" y1="192.9" x2="425.5" y2="210" stroke="#454550" stroke-width="1" />
<text x="420" y="154.21" font-size="7.8" text-anchor="middle" fill="#1a1a1a" stroke="#1a1a1a" stroke-width="0.22"><tspan font-style="italic">RUNX1</tspan></text>
<text x="420" y="164.07" font-size="7.7" text-anchor="middle" fill="#1a1a1a" stroke="#1a1a1a" stroke-width="0.22">Promoter</text>
<text transform="translate(378.8,201.95) rotate(-90)" x="0" y="2.34" font-size="6.5" text-anchor="middle" fill="#222" textLength="45" lengthAdjust="spacingAndGlyphs" stroke="#222" stroke-width="0.3">Normalized scores</text>
<text transform="translate(414.7,241.4) rotate(-60)" x="0" y="2.16" font-size="6" text-anchor="end" fill="#1a1a1a" stroke="#1a1a1a" stroke-width="0.1">sgControl</text>
<text transform="translate(426.5,241.4) rotate(-60)" x="0" y="2.16" font-size="6" text-anchor="end" fill="#1a1a1a" stroke="#1a1a1a" stroke-width="0.1">sg<tspan font-style="italic">SAMD1</tspan></text>
<line x1="474.9" y1="172.9" x2="474.9" y2="234.6" stroke="#1a1a1a" stroke-width="1" />
<line x1="472.6" y1="173.4" x2="474.9" y2="173.4" stroke="#1a1a1a" stroke-width="0.8" />
<text x="469.6" y="175.6" font-size="6.1" text-anchor="end" fill="#2a2a2a" stroke="#2a2a2a" stroke-width="0.12">0.08</text>
<line x1="472.6" y1="188.7" x2="474.9" y2="188.7" stroke="#1a1a1a" stroke-width="0.8" />
<text x="469.6" y="190.9" font-size="6.1" text-anchor="end" fill="#2a2a2a" stroke="#2a2a2a" stroke-width="0.12">0.06</text>
<line x1="472.6" y1="204" x2="474.9" y2="204" stroke="#1a1a1a" stroke-width="0.8" />
<text x="469.6" y="206.2" font-size="6.1" text-anchor="end" fill="#2a2a2a" stroke="#2a2a2a" stroke-width="0.12">0.04</text>
<line x1="472.6" y1="219.3" x2="474.9" y2="219.3" stroke="#1a1a1a" stroke-width="0.8" />
<text x="469.6" y="221.5" font-size="6.1" text-anchor="end" fill="#2a2a2a" stroke="#2a2a2a" stroke-width="0.12">0.02</text>
<line x1="472.6" y1="234.6" x2="474.9" y2="234.6" stroke="#1a1a1a" stroke-width="0.8" />
<text x="469.6" y="236.8" font-size="6.1" text-anchor="end" fill="#2a2a2a" stroke="#2a2a2a" stroke-width="0.12">0.00</text>
<line x1="474.9" y1="234.6" x2="504" y2="234.6" stroke="#1a1a1a" stroke-width="1" />
<line x1="483.3" y1="234.6" x2="483.3" y2="236.8" stroke="#1a1a1a" stroke-width="0.8" />
<line x1="495.7" y1="234.6" x2="495.7" y2="236.8" stroke="#1a1a1a" stroke-width="0.8" />
<line x1="483.3" y1="188" x2="495.7" y2="187.1" stroke="#454550" stroke-width="1" />
<line x1="483.3" y1="192.9" x2="495.7" y2="196.7" stroke="#454550" stroke-width="1" />
<text x="488.3" y="154.21" font-size="7.8" text-anchor="middle" fill="#1a1a1a" stroke="#1a1a1a" stroke-width="0.22"><tspan font-style="italic">SPI1</tspan></text>
<text x="488.3" y="164.07" font-size="7.7" text-anchor="middle" fill="#1a1a1a" stroke="#1a1a1a" stroke-width="0.22">Promoter</text>
<text transform="translate(448.7,202.7) rotate(-90)" x="0" y="2.34" font-size="6.5" text-anchor="middle" fill="#222" textLength="45" lengthAdjust="spacingAndGlyphs" stroke="#222" stroke-width="0.3">Normalized scores</text>
<text transform="translate(484.3,242.4) rotate(-60)" x="0" y="2.16" font-size="6" text-anchor="end" fill="#1a1a1a" stroke="#1a1a1a" stroke-width="0.1">sgControl</text>
<text transform="translate(496.7,242.4) rotate(-60)" x="0" y="2.16" font-size="6" text-anchor="end" fill="#1a1a1a" stroke="#1a1a1a" stroke-width="0.1">sg<tspan font-style="italic">SAMD1</tspan></text>
<line x1="443.5" y1="301" x2="443.5" y2="362.6" stroke="#1a1a1a" stroke-width="1" />
<line x1="441.2" y1="301.5" x2="443.5" y2="301.5" stroke="#1a1a1a" stroke-width="0.8" />
<text x="438.2" y="303.7" font-size="6.1" text-anchor="end" fill="#2a2a2a" stroke="#2a2a2a" stroke-width="0.12">0.15</text>
<line x1="441.2" y1="321.87" x2="443.5" y2="321.87" stroke="#1a1a1a" stroke-width="0.8" />
<text x="438.2" y="324.06" font-size="6.1" text-anchor="end" fill="#2a2a2a" stroke="#2a2a2a" stroke-width="0.12">0.10</text>
<line x1="441.2" y1="342.23" x2="443.5" y2="342.23" stroke="#1a1a1a" stroke-width="0.8" />
<text x="438.2" y="344.43" font-size="6.1" text-anchor="end" fill="#2a2a2a" stroke="#2a2a2a" stroke-width="0.12">0.05</text>
<line x1="441.2" y1="362.6" x2="443.5" y2="362.6" stroke="#1a1a1a" stroke-width="0.8" />
<text x="438.2" y="364.8" font-size="6.1" text-anchor="end" fill="#2a2a2a" stroke="#2a2a2a" stroke-width="0.12">0.00</text>
<line x1="443.5" y1="362.6" x2="472.9" y2="362.6" stroke="#1a1a1a" stroke-width="1" />
<line x1="452.2" y1="362.6" x2="452.2" y2="364.8" stroke="#1a1a1a" stroke-width="0.8" />
<line x1="464.8" y1="362.6" x2="464.8" y2="364.8" stroke="#1a1a1a" stroke-width="0.8" />
<line x1="452.2" y1="323.3" x2="464.8" y2="339.5" stroke="#454550" stroke-width="1" />
<line x1="452.2" y1="329.2" x2="464.8" y2="344" stroke="#454550" stroke-width="1" />
<text x="458" y="283.61" font-size="7.8" text-anchor="middle" fill="#1a1a1a" stroke="#1a1a1a" stroke-width="0.22"><tspan font-style="italic">TAL1</tspan></text>
<text x="458" y="293.27" font-size="7.7" text-anchor="middle" fill="#1a1a1a" stroke="#1a1a1a" stroke-width="0.22">Promoter</text>
<text transform="translate(418.3,330.75) rotate(-90)" x="0" y="2.34" font-size="6.5" text-anchor="middle" fill="#222" textLength="45" lengthAdjust="spacingAndGlyphs" stroke="#222" stroke-width="0.3">Normalized scores</text>
<line x1="451.5" y1="313.9" x2="466" y2="313.9" stroke="#1a1a1a" stroke-width="0.8" />
<text x="458.75" y="313.4" font-size="6.4" text-anchor="middle" fill="#1a1a1a" font-weight="bold">*</text>
<text transform="translate(453.2,370.4) rotate(-60)" x="0" y="2.16" font-size="6" text-anchor="end" fill="#1a1a1a" stroke="#1a1a1a" stroke-width="0.1">sgControl</text>
<text transform="translate(465.8,370.4) rotate(-60)" x="0" y="2.16" font-size="6" text-anchor="end" fill="#1a1a1a" stroke="#1a1a1a" stroke-width="0.1">sg<tspan font-style="italic">SAMD1</tspan></text>
<rect x="47.65" y="450.85" width="9" height="60.65" fill="#CBCACD" stroke="#BFBEC2" stroke-width="0.5" />
<rect x="59.65" y="452.25" width="9" height="59.25" fill="#8F83BF" stroke="#8276AB" stroke-width="0.5" />
<line x1="52.15" y1="447.5" x2="52.15" y2="456" stroke="#222" stroke-width="0.6" />
<line x1="49.35" y1="447.5" x2="54.95" y2="447.5" stroke="#222" stroke-width="0.6" />
<line x1="49.35" y1="456" x2="54.95" y2="456" stroke="#222" stroke-width="0.6" />
<circle cx="50.1" cy="448.1" r="1.15" fill="#111" />
<circle cx="53.9" cy="448.1" r="1.15" fill="#111" />
<circle cx="52.1" cy="451.6" r="1.15" fill="#111" />
<circle cx="52.1" cy="456.2" r="1.15" fill="#111" />
<line x1="64.15" y1="449" x2="64.15" y2="454.5" stroke="#222" stroke-width="0.6" />
<line x1="61.35" y1="449" x2="66.95" y2="449" stroke="#222" stroke-width="0.6" />
<line x1="61.35" y1="454.5" x2="66.95" y2="454.5" stroke="#222" stroke-width="0.6" />
<circle cx="62.5" cy="449.8" r="1.15" fill="#111" />
<circle cx="66.2" cy="448.4" r="1.15" fill="#111" />
<circle cx="62.5" cy="454.5" r="1.15" fill="#111" />
<circle cx="66.2" cy="453.5" r="1.15" fill="#111" />
<line x1="45.3" y1="437.4" x2="45.3" y2="511.5" stroke="#1a1a1a" stroke-width="1" />
<line x1="41.7" y1="437.9" x2="45.3" y2="437.9" stroke="#1a1a1a" stroke-width="0.8" />
<text x="39.6" y="440.13" font-size="6.2" text-anchor="end" fill="#333" stroke="#333" stroke-width="0.06">150</text>
<line x1="41.7" y1="462.4" x2="45.3" y2="462.4" stroke="#1a1a1a" stroke-width="0.8" />
<text x="39.6" y="464.63" font-size="6.2" text-anchor="end" fill="#333" stroke="#333" stroke-width="0.06">100</text>
<line x1="41.7" y1="487" x2="45.3" y2="487" stroke="#1a1a1a" stroke-width="0.8" />
<text x="39.6" y="489.23" font-size="6.2" text-anchor="end" fill="#333" stroke="#333" stroke-width="0.06">50</text>
<line x1="41.7" y1="511.5" x2="45.3" y2="511.5" stroke="#1a1a1a" stroke-width="0.8" />
<text x="39.6" y="513.73" font-size="6.2" text-anchor="end" fill="#333" stroke="#333" stroke-width="0.06">0</text>
<line x1="44.8" y1="511.5" x2="74.2" y2="511.5" stroke="#1a1a1a" stroke-width="1" />
<text x="60" y="430.25" font-size="8.2" text-anchor="middle" fill="#1a1a1a" textLength="17.4" lengthAdjust="spacingAndGlyphs" stroke="#1a1a1a" stroke-width="0.22"><tspan font-style="italic">TAL1</tspan></text>
<line x1="52.2" y1="511.5" x2="52.2" y2="514.2" stroke="#1a1a1a" stroke-width="0.8" />
<line x1="64.1" y1="511.5" x2="64.1" y2="514.2" stroke="#1a1a1a" stroke-width="0.8" />
<text transform="translate(53.2,519.3) rotate(-60)" x="0" y="2.16" font-size="6" text-anchor="end" fill="#1a1a1a" stroke="#1a1a1a" stroke-width="0.1">sgControl</text>
<text transform="translate(65.1,519.3) rotate(-60)" x="0" y="2.16" font-size="6" text-anchor="end" fill="#1a1a1a" stroke="#1a1a1a" stroke-width="0.1">sg<tspan font-style="italic">SAMD1</tspan></text>
<text transform="translate(9.5,473.5) rotate(-90)" x="0" y="2.52" font-size="7" text-anchor="middle" fill="#1a1a1a" textLength="37.5" lengthAdjust="spacingAndGlyphs" stroke="#1a1a1a" stroke-width="0.16">Transcripts per</text>
<text transform="translate(20.1,473.5) rotate(-90)" x="0" y="2.52" font-size="7" text-anchor="middle" fill="#1a1a1a" textLength="33.7" lengthAdjust="spacingAndGlyphs" stroke="#1a1a1a" stroke-width="0.16">million (TPM)</text>
<rect x="123.25" y="469.05" width="9.2" height="42.45" fill="#CBCACD" stroke="#BFBEC2" stroke-width="0.5" />
<rect x="135.35" y="468.95" width="9.3" height="42.55" fill="#8F83BF" stroke="#8276AB" stroke-width="0.5" />
<line x1="127.85" y1="454" x2="127.85" y2="483.3" stroke="#222" stroke-width="0.6" />
<line x1="125.05" y1="454" x2="130.65" y2="454" stroke="#222" stroke-width="0.6" />
<line x1="125.05" y1="483.3" x2="130.65" y2="483.3" stroke="#222" stroke-width="0.6" />
<circle cx="128" cy="448.6" r="1.15" fill="#111" />
<circle cx="128" cy="467" r="1.15" fill="#111" />
<circle cx="128" cy="477.9" r="1.15" fill="#111" />
<circle cx="128" cy="481.7" r="1.15" fill="#111" />
<circle cx="136" cy="468.8" r="1.15" fill="#111" />
<circle cx="139.7" cy="468.8" r="1.15" fill="#111" />
<circle cx="143.8" cy="469" r="1.15" fill="#111" />
<circle cx="136" cy="470.8" r="1.15" fill="#111" />
<line x1="121" y1="437.4" x2="121" y2="511.5" stroke="#1a1a1a" stroke-width="1" />
<line x1="117.4" y1="437.9" x2="121" y2="437.9" stroke="#1a1a1a" stroke-width="0.8" />
<text x="115.3" y="440.13" font-size="6.2" text-anchor="end" fill="#333" stroke="#333" stroke-width="0.06">30</text>
<line x1="117.4" y1="463" x2="121" y2="463" stroke="#1a1a1a" stroke-width="0.8" />
<text x="115.3" y="465.23" font-size="6.2" text-anchor="end" fill="#333" stroke="#333" stroke-width="0.06">20</text>
<line x1="117.4" y1="487.2" x2="121" y2="487.2" stroke="#1a1a1a" stroke-width="0.8" />
<text x="115.3" y="489.43" font-size="6.2" text-anchor="end" fill="#333" stroke="#333" stroke-width="0.06">10</text>
<line x1="117.4" y1="511.5" x2="121" y2="511.5" stroke="#1a1a1a" stroke-width="0.8" />
<text x="115.3" y="513.73" font-size="6.2" text-anchor="end" fill="#333" stroke="#333" stroke-width="0.06">0</text>
<line x1="120.5" y1="511.5" x2="149" y2="511.5" stroke="#1a1a1a" stroke-width="1" />
<text x="135.3" y="430.25" font-size="8.2" text-anchor="middle" fill="#1a1a1a" textLength="25.7" lengthAdjust="spacingAndGlyphs" stroke="#1a1a1a" stroke-width="0.22"><tspan font-style="italic">RUNX1</tspan></text>
<line x1="127.9" y1="511.5" x2="127.9" y2="514.2" stroke="#1a1a1a" stroke-width="0.8" />
<line x1="140" y1="511.5" x2="140" y2="514.2" stroke="#1a1a1a" stroke-width="0.8" />
<text transform="translate(128.9,519.3) rotate(-60)" x="0" y="2.16" font-size="6" text-anchor="end" fill="#1a1a1a" stroke="#1a1a1a" stroke-width="0.1">sgControl</text>
<text transform="translate(141,519.3) rotate(-60)" x="0" y="2.16" font-size="6" text-anchor="end" fill="#1a1a1a" stroke="#1a1a1a" stroke-width="0.1">sg<tspan font-style="italic">SAMD1</tspan></text>
<text transform="translate(88.7,473.5) rotate(-90)" x="0" y="2.52" font-size="7" text-anchor="middle" fill="#1a1a1a" textLength="37.5" lengthAdjust="spacingAndGlyphs" stroke="#1a1a1a" stroke-width="0.16">Transcripts per</text>
<text transform="translate(100.3,473.5) rotate(-90)" x="0" y="2.52" font-size="7" text-anchor="middle" fill="#1a1a1a" textLength="33.7" lengthAdjust="spacingAndGlyphs" stroke="#1a1a1a" stroke-width="0.16">million (TPM)</text>
<rect x="199.55" y="476.55" width="8.8" height="35.05" fill="#CBCACD" stroke="#BFBEC2" stroke-width="0.5" />
<rect x="211.55" y="483.65" width="9" height="27.95" fill="#8F83BF" stroke="#8276AB" stroke-width="0.5" />
<line x1="203.95" y1="464" x2="203.95" y2="488.1" stroke="#222" stroke-width="0.6" />
<line x1="201.15" y1="464" x2="206.75" y2="464" stroke="#222" stroke-width="0.6" />
<line x1="201.15" y1="488.1" x2="206.75" y2="488.1" stroke="#222" stroke-width="0.6" />
<circle cx="203.6" cy="458.9" r="1.15" fill="#111" />
<circle cx="203.6" cy="477.2" r="1.15" fill="#111" />
<circle cx="203.6" cy="481.7" r="1.15" fill="#111" />
<circle cx="203.6" cy="486.7" r="1.15" fill="#111" />
<line x1="216.05" y1="478.3" x2="216.05" y2="489" stroke="#222" stroke-width="0.6" />
<line x1="213.25" y1="478.3" x2="218.85" y2="478.3" stroke="#222" stroke-width="0.6" />
<line x1="213.25" y1="489" x2="218.85" y2="489" stroke="#222" stroke-width="0.6" />
<circle cx="215.8" cy="477" r="1.15" fill="#111" />
<circle cx="215.8" cy="482.2" r="1.15" fill="#111" />
<circle cx="215.8" cy="484.9" r="1.15" fill="#111" />
<circle cx="215.8" cy="488.5" r="1.15" fill="#111" />
<line x1="197.2" y1="437.3" x2="197.2" y2="511.6" stroke="#1a1a1a" stroke-width="1" />
<line x1="193.6" y1="437.8" x2="197.2" y2="437.8" stroke="#1a1a1a" stroke-width="0.8" />
<text x="191.5" y="440.03" font-size="6.2" text-anchor="end" fill="#333" stroke="#333" stroke-width="0.06">20</text>
<line x1="193.6" y1="456.3" x2="197.2" y2="456.3" stroke="#1a1a1a" stroke-width="0.8" />
<text x="191.5" y="458.53" font-size="6.2" text-anchor="end" fill="#333" stroke="#333" stroke-width="0.06">15</text>
<line x1="193.6" y1="474.8" x2="197.2" y2="474.8" stroke="#1a1a1a" stroke-width="0.8" />
<text x="191.5" y="477.03" font-size="6.2" text-anchor="end" fill="#333" stroke="#333" stroke-width="0.06">10</text>
<line x1="193.6" y1="493.2" x2="197.2" y2="493.2" stroke="#1a1a1a" stroke-width="0.8" />
<text x="191.5" y="495.43" font-size="6.2" text-anchor="end" fill="#333" stroke="#333" stroke-width="0.06">5</text>
<line x1="193.6" y1="511.6" x2="197.2" y2="511.6" stroke="#1a1a1a" stroke-width="0.8" />
<text x="191.5" y="513.83" font-size="6.2" text-anchor="end" fill="#333" stroke="#333" stroke-width="0.06">0</text>
<line x1="196.7" y1="511.6" x2="225.5" y2="511.6" stroke="#1a1a1a" stroke-width="1" />
<text x="211" y="430.35" font-size="8.2" text-anchor="middle" fill="#1a1a1a" textLength="16.3" lengthAdjust="spacingAndGlyphs" stroke="#1a1a1a" stroke-width="0.22"><tspan font-style="italic">SPI1</tspan></text>
<line x1="203.9" y1="511.6" x2="203.9" y2="514.3" stroke="#1a1a1a" stroke-width="0.8" />
<line x1="216" y1="511.6" x2="216" y2="514.3" stroke="#1a1a1a" stroke-width="0.8" />
<text transform="translate(204.9,519.4) rotate(-60)" x="0" y="2.16" font-size="6" text-anchor="end" fill="#1a1a1a" stroke="#1a1a1a" stroke-width="0.1">sgControl</text>
<text transform="translate(217,519.4) rotate(-60)" x="0" y="2.16" font-size="6" text-anchor="end" fill="#1a1a1a" stroke="#1a1a1a" stroke-width="0.1">sg<tspan font-style="italic">SAMD1</tspan></text>
<text transform="translate(164.3,473.5) rotate(-90)" x="0" y="2.52" font-size="7" text-anchor="middle" fill="#1a1a1a" textLength="37.5" lengthAdjust="spacingAndGlyphs" stroke="#1a1a1a" stroke-width="0.16">Transcripts per</text>
<text transform="translate(174.9,473.5) rotate(-90)" x="0" y="2.52" font-size="7" text-anchor="middle" fill="#1a1a1a" textLength="33.7" lengthAdjust="spacingAndGlyphs" stroke="#1a1a1a" stroke-width="0.16">million (TPM)</text>
<rect x="291.25" y="497.55" width="5.7" height="14.05" fill="#CBCACD" stroke="#BFBEC2" stroke-width="0.5" />
<rect x="300.95" y="504.45" width="5.6" height="7.15" fill="#CBCACD" stroke="#BFBEC2" stroke-width="0.5" />
<rect x="310.65" y="504.15" width="5.2" height="7.45" fill="#CBCACD" stroke="#BFBEC2" stroke-width="0.5" />
<rect x="329.45" y="476.75" width="5.6" height="34.85" fill="#8F83BF" stroke="#8276AB" stroke-width="0.5" />
<rect x="338.95" y="492.95" width="5.3" height="18.65" fill="#8F83BF" stroke="#8276AB" stroke-width="0.5" />
<rect x="348.65" y="493.45" width="5.2" height="18.15" fill="#8F83BF" stroke="#8276AB" stroke-width="0.5" />
<circle cx="292.2" cy="497" r="1.65" fill="#111" />
<circle cx="293.47" cy="496.4" r="1.65" fill="#111" />
<circle cx="294.73" cy="497.4" r="1.65" fill="#111" />
<circle cx="296" cy="498" r="1.65" fill="#111" />
<circle cx="301.85" cy="503.6" r="1.65" fill="#111" />
<circle cx="303.12" cy="504.2" r="1.65" fill="#111" />
<circle cx="304.38" cy="503.6" r="1.65" fill="#111" />
<circle cx="305.65" cy="504.4" r="1.65" fill="#111" />
<circle cx="311.35" cy="503.4" r="1.65" fill="#111" />
<circle cx="312.62" cy="502.9" r="1.65" fill="#111" />
<circle cx="313.88" cy="503.9" r="1.65" fill="#111" />
<circle cx="315.15" cy="503.5" r="1.65" fill="#111" />
<circle cx="331.3" cy="472" r="1.65" fill="#111" />
<circle cx="333.6" cy="474.6" r="1.65" fill="#111" />
<circle cx="333.2" cy="477.9" r="1.65" fill="#111" />
<circle cx="330.6" cy="480.5" r="1.65" fill="#111" />
<circle cx="339.7" cy="492.3" r="1.65" fill="#111" />
<circle cx="340.97" cy="491.9" r="1.65" fill="#111" />
<circle cx="342.23" cy="492.5" r="1.65" fill="#111" />
<circle cx="343.5" cy="493.1" r="1.65" fill="#111" />
<circle cx="349.35" cy="492.2" r="1.65" fill="#111" />
<circle cx="350.62" cy="491.6" r="1.65" fill="#111" />
<circle cx="351.88" cy="492.9" r="1.65" fill="#111" />
<circle cx="353.15" cy="493.6" r="1.65" fill="#111" />
<line x1="288.4" y1="437.6" x2="288.4" y2="511.6" stroke="#1a1a1a" stroke-width="1" />
<line x1="285.2" y1="438.1" x2="288.4" y2="438.1" stroke="#1a1a1a" stroke-width="0.8" />
<text x="281.2" y="440.41" font-size="5.3" text-anchor="end" fill="#333" stroke="#333" stroke-width="0.06">5</text>
<line x1="285.2" y1="452.8" x2="288.4" y2="452.8" stroke="#1a1a1a" stroke-width="0.8" />
<text x="281.2" y="455.11" font-size="5.3" text-anchor="end" fill="#333" stroke="#333" stroke-width="0.06">4</text>
<line x1="285.2" y1="467.5" x2="288.4" y2="467.5" stroke="#1a1a1a" stroke-width="0.8" />
<text x="281.2" y="469.81" font-size="5.3" text-anchor="end" fill="#333" stroke="#333" stroke-width="0.06">3</text>
<line x1="285.2" y1="482.2" x2="288.4" y2="482.2" stroke="#1a1a1a" stroke-width="0.8" />
<text x="281.2" y="484.51" font-size="5.3" text-anchor="end" fill="#333" stroke="#333" stroke-width="0.06">2</text>
<line x1="285.2" y1="496.9" x2="288.4" y2="496.9" stroke="#1a1a1a" stroke-width="0.8" />
<text x="281.2" y="499.21" font-size="5.3" text-anchor="end" fill="#333" stroke="#333" stroke-width="0.06">1</text>
<line x1="285.2" y1="511.6" x2="288.4" y2="511.6" stroke="#1a1a1a" stroke-width="0.8" />
<text x="281.2" y="513.91" font-size="5.3" text-anchor="end" fill="#333" stroke="#333" stroke-width="0.06">0</text>
<line x1="287.9" y1="511.6" x2="358.4" y2="511.6" stroke="#1a1a1a" stroke-width="1" />
<text x="322.7" y="430.05" font-size="8.2" text-anchor="middle" fill="#1a1a1a" textLength="30.5" lengthAdjust="spacingAndGlyphs" stroke="#1a1a1a" stroke-width="0.22"><tspan font-style="italic">SLC4A1</tspan></text>
<path d="M294.1 491.9 L294.1 463.5 L313.4 463.5 L313.4 500.4" fill="none" stroke="#555" stroke-width="0.75" />
<text x="303.75" y="463.06" font-size="7.1" text-anchor="middle" fill="#1a1a1a" font-weight="bold">***</text>
<path d="M312.8 452.2 L312.8 448.1 L351.4 448.1 L351.4 452.2" fill="none" stroke="#555" stroke-width="0.75" />
<text x="332.1" y="447.76" font-size="7.1" text-anchor="middle" fill="#1a1a1a" font-weight="bold">***</text>
<path d="M332 468 L332 463.5 L351.4 463.5 L351.4 487.3" fill="none" stroke="#555" stroke-width="0.75" />
<text x="341.7" y="463.06" font-size="7.1" text-anchor="middle" fill="#1a1a1a" font-weight="bold">***</text>
<rect x="423.75" y="489.85" width="5.9" height="21.75" fill="#CBCACD" stroke="#BFBEC2" stroke-width="0.5" />
<rect x="433.25" y="484.15" width="5.8" height="27.45" fill="#CBCACD" stroke="#BFBEC2" stroke-width="0.5" />
<rect x="442.95" y="482.65" width="5.6" height="28.95" fill="#CBCACD" stroke="#BFBEC2" stroke-width="0.5" />
<rect x="461.75" y="490.65" width="5.6" height="20.95" fill="#8F83BF" stroke="#8276AB" stroke-width="0.5" />
<rect x="471.45" y="479.85" width="5.6" height="31.75" fill="#8F83BF" stroke="#8276AB" stroke-width="0.5" />
<rect x="481.05" y="481.45" width="5.7" height="30.15" fill="#8F83BF" stroke="#8276AB" stroke-width="0.5" />
<circle cx="426.55" cy="484.2" r="1.55" fill="#111" />
<circle cx="425" cy="486.37" r="1.55" fill="#111" />
<circle cx="428.1" cy="486.68" r="1.55" fill="#111" />
<circle cx="425.93" cy="488.54" r="1.55" fill="#111" />
<circle cx="427.48" cy="488.85" r="1.55" fill="#111" />
<circle cx="426.55" cy="490.4" r="1.55" fill="#111" />
<circle cx="435.38" cy="478" r="1.55" fill="#111" />
<circle cx="437.76" cy="478.85" r="1.55" fill="#111" />
<circle cx="436.74" cy="481.4" r="1.55" fill="#111" />
<circle cx="435.04" cy="484.38" r="1.55" fill="#111" />
<circle cx="437.76" cy="484.8" r="1.55" fill="#111" />
<circle cx="436.06" cy="486.5" r="1.55" fill="#111" />
<circle cx="446.08" cy="478.8" r="1.55" fill="#111" />
<circle cx="447.7" cy="481.11" r="1.55" fill="#111" />
<circle cx="445.54" cy="481.5" r="1.55" fill="#111" />
<circle cx="446.89" cy="483.42" r="1.55" fill="#111" />
<circle cx="445.27" cy="484.96" r="1.55" fill="#111" />
<circle cx="446.35" cy="486.5" r="1.55" fill="#111" />
<circle cx="464.4" cy="488.8" r="1.55" fill="#111" />
<circle cx="462.7" cy="489.36" r="1.55" fill="#111" />
<circle cx="466.1" cy="489.44" r="1.55" fill="#111" />
<circle cx="463.72" cy="489.92" r="1.55" fill="#111" />
<circle cx="465.42" cy="490" r="1.55" fill="#111" />
<circle cx="464.4" cy="490.4" r="1.55" fill="#111" />
<circle cx="474.5" cy="477.3" r="1.55" fill="#111" />
<circle cx="472.7" cy="478.38" r="1.55" fill="#111" />
<circle cx="476.3" cy="478.54" r="1.55" fill="#111" />
<circle cx="473.78" cy="479.47" r="1.55" fill="#111" />
<circle cx="475.58" cy="479.62" r="1.55" fill="#111" />
<circle cx="474.5" cy="480.4" r="1.55" fill="#111" />
<circle cx="483.26" cy="477.3" r="1.55" fill="#111" />
<circle cx="485.18" cy="478.54" r="1.55" fill="#111" />
<circle cx="483.9" cy="480.09" r="1.55" fill="#111" />
<circle cx="485.5" cy="481.64" r="1.55" fill="#111" />
<circle cx="482.94" cy="482.26" r="1.55" fill="#111" />
<circle cx="484.22" cy="483.5" r="1.55" fill="#111" />
<line x1="420.4" y1="437.6" x2="420.4" y2="511.6" stroke="#1a1a1a" stroke-width="1" />
<line x1="417.2" y1="438.1" x2="420.4" y2="438.1" stroke="#1a1a1a" stroke-width="0.8" />
<text x="413.2" y="440.41" font-size="5.3" text-anchor="end" fill="#333" stroke="#333" stroke-width="0.06">3</text>
<line x1="417.2" y1="462.6" x2="420.4" y2="462.6" stroke="#1a1a1a" stroke-width="0.8" />
<text x="413.2" y="464.91" font-size="5.3" text-anchor="end" fill="#333" stroke="#333" stroke-width="0.06">2</text>
<line x1="417.2" y1="487.1" x2="420.4" y2="487.1" stroke="#1a1a1a" stroke-width="0.8" />
<text x="413.2" y="489.41" font-size="5.3" text-anchor="end" fill="#333" stroke="#333" stroke-width="0.06">1</text>
<line x1="417.2" y1="511.6" x2="420.4" y2="511.6" stroke="#1a1a1a" stroke-width="0.8" />
<text x="413.2" y="513.91" font-size="5.3" text-anchor="end" fill="#333" stroke="#333" stroke-width="0.06">0</text>
<line x1="419.9" y1="511.6" x2="490.4" y2="511.6" stroke="#1a1a1a" stroke-width="1" />
<text x="455.5" y="430.15" font-size="8.2" text-anchor="middle" fill="#1a1a1a" textLength="25.5" lengthAdjust="spacingAndGlyphs" stroke="#1a1a1a" stroke-width="0.22"><tspan font-style="italic">GATA2</tspan></text>
<path d="M426.2 481.2 L426.2 467.3 L445.5 467.3 L445.5 474.2" fill="none" stroke="#555" stroke-width="0.75" />
<text x="435.85" y="466.86" font-size="7.1" text-anchor="middle" fill="#1a1a1a" font-weight="bold">*</text>
<path d="M464.5 486.5 L464.5 467.3 L483.5 467.3 L483.5 472.7" fill="none" stroke="#555" stroke-width="0.75" />
<text x="474" y="466.86" font-size="7.1" text-anchor="middle" fill="#1a1a1a" font-weight="bold">***</text>
<line x1="294.1" y1="511.6" x2="294.1" y2="514.2" stroke="#1a1a1a" stroke-width="0.8" />
<line x1="303.7" y1="511.6" x2="303.7" y2="514.2" stroke="#1a1a1a" stroke-width="0.8" />
<line x1="313.2" y1="511.6" x2="313.2" y2="514.2" stroke="#1a1a1a" stroke-width="0.8" />
<line x1="332.2" y1="511.6" x2="332.2" y2="514.2" stroke="#1a1a1a" stroke-width="0.8" />
<line x1="341.6" y1="511.6" x2="341.6" y2="514.2" stroke="#1a1a1a" stroke-width="0.8" />
<line x1="351.2" y1="511.6" x2="351.2" y2="514.2" stroke="#1a1a1a" stroke-width="0.8" />
<text x="286.3" y="524.03" font-size="6.2" text-anchor="end" fill="#222" stroke="#222" stroke-width="0.14">sgControl:</text>
<text x="286.3" y="533.23" font-size="6.2" text-anchor="end" fill="#222" stroke="#222" stroke-width="0.14">sg<tspan font-style="italic">SAMD1</tspan>:</text>
<text x="286.3" y="542.73" font-size="6.2" text-anchor="end" fill="#222" stroke="#222" stroke-width="0.14">GSK-LSD1 (<tspan font-style="italic">nM</tspan>):</text>
<text x="294.1" y="523.96" font-size="6" text-anchor="middle" fill="#222" stroke="#222" stroke-width="0.14">+</text>
<text x="294.1" y="533.16" font-size="6" text-anchor="middle" fill="#222" stroke="#222" stroke-width="0.14">-</text>
<text x="294.1" y="542.66" font-size="6" text-anchor="middle" fill="#222" stroke="#222" stroke-width="0.14">-</text>
<text x="303.7" y="523.96" font-size="6" text-anchor="middle" fill="#222" stroke="#222" stroke-width="0.14">+</text>
<text x="303.7" y="533.16" font-size="6" text-anchor="middle" fill="#222" stroke="#222" stroke-width="0.14">-</text>
<text x="303.7" y="542.66" font-size="6" text-anchor="middle" fill="#222" stroke="#222" stroke-width="0.14">10</text>
<text x="313.2" y="523.96" font-size="6" text-anchor="middle" fill="#222" stroke="#222" stroke-width="0.14">+</text>
<text x="313.2" y="533.16" font-size="6" text-anchor="middle" fill="#222" stroke="#222" stroke-width="0.14">-</text>
<text x="313.2" y="542.66" font-size="6" text-anchor="middle" fill="#222" stroke="#222" stroke-width="0.14">100</text>
<text x="332.2" y="523.96" font-size="6" text-anchor="middle" fill="#222" stroke="#222" stroke-width="0.14">-</text>
<text x="332.2" y="533.16" font-size="6" text-anchor="middle" fill="#222" stroke="#222" stroke-width="0.14">+</text>
<text x="332.2" y="542.66" font-size="6" text-anchor="middle" fill="#222" stroke="#222" stroke-width="0.14">-</text>
<text x="341.6" y="523.96" font-size="6" text-anchor="middle" fill="#222" stroke="#222" stroke-width="0.14">-</text>
<text x="341.6" y="533.16" font-size="6" text-anchor="middle" fill="#222" stroke="#222" stroke-width="0.14">+</text>
<text x="341.6" y="542.66" font-size="6" text-anchor="middle" fill="#222" stroke="#222" stroke-width="0.14">10</text>
<text x="351.2" y="523.96" font-size="6" text-anchor="middle" fill="#222" stroke="#222" stroke-width="0.14">-</text>
<text x="351.2" y="533.16" font-size="6" text-anchor="middle" fill="#222" stroke="#222" stroke-width="0.14">+</text>
<text x="351.2" y="542.66" font-size="6" text-anchor="middle" fill="#222" stroke="#222" stroke-width="0.14">100</text>
<text transform="translate(268.8,473.3) rotate(-90)" x="0" y="2.38" font-size="6.6" text-anchor="middle" fill="#1a1a1a" textLength="57.6" lengthAdjust="spacingAndGlyphs" stroke="#1a1a1a" stroke-width="0.16">mRNA (relative to 18s)</text>
<line x1="426.7" y1="511.6" x2="426.7" y2="514.2" stroke="#1a1a1a" stroke-width="0.8" />
<line x1="436.1" y1="511.6" x2="436.1" y2="514.2" stroke="#1a1a1a" stroke-width="0.8" />
<line x1="445.7" y1="511.6" x2="445.7" y2="514.2" stroke="#1a1a1a" stroke-width="0.8" />
<line x1="464.5" y1="511.6" x2="464.5" y2="514.2" stroke="#1a1a1a" stroke-width="0.8" />
<line x1="474.2" y1="511.6" x2="474.2" y2="514.2" stroke="#1a1a1a" stroke-width="0.8" />
<line x1="483.9" y1="511.6" x2="483.9" y2="514.2" stroke="#1a1a1a" stroke-width="0.8" />
<text x="419" y="524.03" font-size="6.2" text-anchor="end" fill="#222" stroke="#222" stroke-width="0.14">sgControl:</text>
<text x="419" y="533.23" font-size="6.2" text-anchor="end" fill="#222" stroke="#222" stroke-width="0.14">sg<tspan font-style="italic">SAMD1</tspan>:</text>
<text x="419" y="542.73" font-size="6.2" text-anchor="end" fill="#222" stroke="#222" stroke-width="0.14">GSK-LSD1 (<tspan font-style="italic">nM</tspan>):</text>
<text x="426.7" y="523.96" font-size="6" text-anchor="middle" fill="#222" stroke="#222" stroke-width="0.14">+</text>
<text x="426.7" y="533.16" font-size="6" text-anchor="middle" fill="#222" stroke="#222" stroke-width="0.14">-</text>
<text x="426.7" y="542.66" font-size="6" text-anchor="middle" fill="#222" stroke="#222" stroke-width="0.14">-</text>
<text x="436.1" y="523.96" font-size="6" text-anchor="middle" fill="#222" stroke="#222" stroke-width="0.14">+</text>
<text x="436.1" y="533.16" font-size="6" text-anchor="middle" fill="#222" stroke="#222" stroke-width="0.14">-</text>
<text x="436.1" y="542.66" font-size="6" text-anchor="middle" fill="#222" stroke="#222" stroke-width="0.14">10</text>
<text x="445.7" y="523.96" font-size="6" text-anchor="middle" fill="#222" stroke="#222" stroke-width="0.14">+</text>
<text x="445.7" y="533.16" font-size="6" text-anchor="middle" fill="#222" stroke="#222" stroke-width="0.14">-</text>
<text x="445.7" y="542.66" font-size="6" text-anchor="middle" fill="#222" stroke="#222" stroke-width="0.14">100</text>
<text x="464.5" y="523.96" font-size="6" text-anchor="middle" fill="#222" stroke="#222" stroke-width="0.14">-</text>
<text x="464.5" y="533.16" font-size="6" text-anchor="middle" fill="#222" stroke="#222" stroke-width="0.14">+</text>
<text x="464.5" y="542.66" font-size="6" text-anchor="middle" fill="#222" stroke="#222" stroke-width="0.14">-</text>
<text x="474.2" y="523.96" font-size="6" text-anchor="middle" fill="#222" stroke="#222" stroke-width="0.14">-</text>
<text x="474.2" y="533.16" font-size="6" text-anchor="middle" fill="#222" stroke="#222" stroke-width="0.14">+</text>
<text x="474.2" y="542.66" font-size="6" text-anchor="middle" fill="#222" stroke="#222" stroke-width="0.14">10</text>
<text x="483.9" y="523.96" font-size="6" text-anchor="middle" fill="#222" stroke="#222" stroke-width="0.14">-</text>
<text x="483.9" y="533.16" font-size="6" text-anchor="middle" fill="#222" stroke="#222" stroke-width="0.14">+</text>
<text x="483.9" y="542.66" font-size="6" text-anchor="middle" fill="#222" stroke="#222" stroke-width="0.14">100</text>
<text transform="translate(402,473.3) rotate(-90)" x="0" y="2.38" font-size="6.6" text-anchor="middle" fill="#1a1a1a" textLength="57.6" lengthAdjust="spacingAndGlyphs" stroke="#1a1a1a" stroke-width="0.16">mRNA (relative to 18s)</text>
</svg>
</body></html>
